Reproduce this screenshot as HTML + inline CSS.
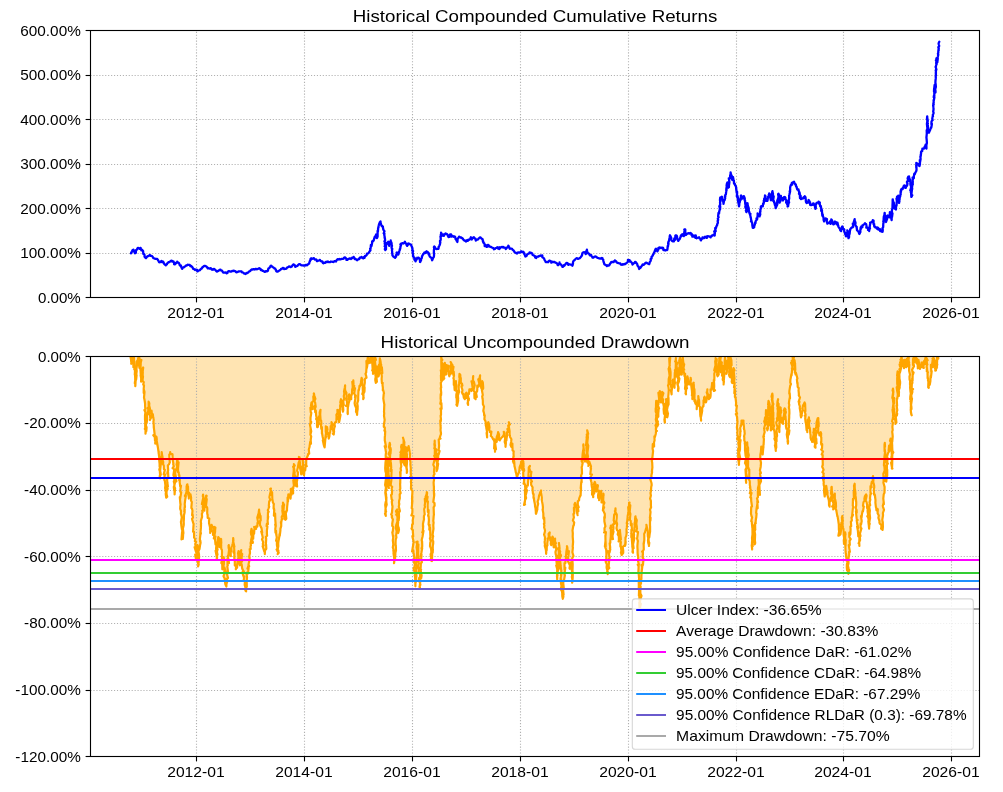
<!DOCTYPE html>
<html><head><meta charset="utf-8"><title>Drawdown</title>
<style>
html,body{margin:0;padding:0;background:#fff;}
body{width:1003px;height:792px;overflow:hidden;}
svg{display:block;will-change:transform;}
text{font-family:"Liberation Sans",sans-serif;fill:#000;}
.t10{font-size:14.2px;}
.t12{font-size:17.0px;}
.grid{stroke:#b0b0b0;stroke-width:1.11;stroke-dasharray:1.11 1.83;fill:none;}
.spine{stroke:#000;stroke-width:1.11;fill:none;}
.tick{stroke:#000;stroke-width:1.11;}
</style></head><body>
<svg width="1003" height="792" viewBox="0 0 1003 792">
<defs><clipPath id="c1"><rect x="90.5" y="30.5" width="889.0" height="267.0"/></clipPath><clipPath id="c2"><rect x="90.5" y="356.5" width="889.0" height="400.0"/></clipPath></defs>
<rect x="0" y="0" width="1003" height="792" fill="#fff"/>
<g>
<line class="grid" x1="196.5" y1="297.5" x2="196.5" y2="30.5"/>
<line class="grid" x1="304.5" y1="297.5" x2="304.5" y2="30.5"/>
<line class="grid" x1="412.5" y1="297.5" x2="412.5" y2="30.5"/>
<line class="grid" x1="520.5" y1="297.5" x2="520.5" y2="30.5"/>
<line class="grid" x1="628.5" y1="297.5" x2="628.5" y2="30.5"/>
<line class="grid" x1="736.5" y1="297.5" x2="736.5" y2="30.5"/>
<line class="grid" x1="843.5" y1="297.5" x2="843.5" y2="30.5"/>
<line class="grid" x1="951.5" y1="297.5" x2="951.5" y2="30.5"/>
<line class="grid" x1="90.5" y1="253.5" x2="979.5" y2="253.5"/>
<line class="grid" x1="90.5" y1="208.5" x2="979.5" y2="208.5"/>
<line class="grid" x1="90.5" y1="164.5" x2="979.5" y2="164.5"/>
<line class="grid" x1="90.5" y1="119.5" x2="979.5" y2="119.5"/>
<line class="grid" x1="90.5" y1="75.5" x2="979.5" y2="75.5"/>
<path clip-path="url(#c1)" d="M131.0,253.3 L131.4,252.1 L131.5,252.6 L132.0,251.5 L132.5,250.2 L133.2,250.6 L133.4,249.7 L133.5,250.0 L134.3,251.9 L134.8,253.2 L135.0,253.3 L135.4,252.3 L135.8,252.8 L136.0,250.2 L136.7,249.7 L137.1,249.2 L137.5,248.3 L137.9,247.9 L138.8,248.1 L139.4,248.7 L140.1,248.2 L140.7,247.9 L140.9,248.8 L141.3,250.3 L142.0,249.7 L142.7,250.6 L143.1,251.0 L143.3,253.9 L143.3,253.5 L143.9,253.9 L144.4,254.5 L144.6,255.4 L144.5,256.3 L144.9,257.3 L145.4,257.8 L146.0,258.1 L146.8,257.0 L147.5,256.1 L148.1,256.2 L148.9,255.8 L149.7,254.9 L150.7,255.9 L151.1,255.8 L152.1,256.1 L152.9,257.1 L153.3,258.2 L154.2,258.3 L154.7,258.7 L155.6,258.9 L156.2,258.9 L157.1,258.9 L157.5,259.3 L158.5,260.9 L158.9,261.9 L159.2,262.3 L160.2,262.2 L161.0,261.4 L161.6,260.9 L162.1,262.2 L163.3,261.8 L163.6,262.8 L164.0,263.3 L164.4,264.2 L165.8,265.3 L166.1,264.9 L166.9,264.3 L167.0,263.6 L167.9,262.8 L168.4,262.1 L169.4,262.2 L170.3,261.3 L170.8,260.9 L171.8,260.7 L172.3,261.6 L173.2,261.3 L173.4,261.3 L174.1,262.9 L174.1,264.2 L174.8,264.4 L175.6,263.7 L175.4,263.0 L177.2,262.7 L177.2,261.7 L177.6,262.7 L178.6,262.7 L179.2,263.5 L179.8,265.3 L180.4,265.1 L181.0,265.8 L180.8,266.3 L181.7,267.6 L181.8,268.4 L182.2,268.9 L182.6,267.6 L183.3,267.5 L183.9,267.3 L184.6,266.5 L185.4,266.3 L186.1,265.5 L187.1,265.3 L187.6,264.7 L188.4,264.8 L189.8,264.8 L190.3,266.2 L191.2,265.9 L191.5,266.4 L192.5,267.3 L193.1,268.7 L193.0,268.3 L194.2,269.2 L195.0,270.1 L195.7,269.5 L197.2,269.9 L197.2,271.3 L197.8,271.3 L198.0,270.8 L198.9,270.5 L200.1,270.1 L200.2,269.6 L201.6,268.4 L201.6,268.7 L202.7,266.9 L202.9,267.1 L203.7,266.1 L204.4,266.0 L205.3,265.9 L206.4,266.5 L207.2,267.5 L207.7,268.3 L208.2,268.0 L209.1,268.5 L209.5,268.6 L210.8,268.2 L211.6,269.5 L212.1,269.2 L213.0,269.7 L213.7,268.9 L214.5,269.2 L214.8,269.7 L215.2,269.8 L216.2,271.0 L216.7,271.6 L217.7,271.1 L218.1,270.9 L218.4,270.9 L219.3,270.1 L220.4,269.6 L221.1,270.4 L222.0,270.7 L222.6,271.6 L222.9,272.1 L223.2,272.5 L224.3,272.6 L225.3,272.5 L225.9,272.6 L226.7,273.3 L227.5,272.9 L227.4,272.3 L228.3,271.3 L228.7,271.2 L230.4,271.5 L231.2,271.6 L232.1,271.0 L233.1,271.1 L233.6,270.7 L234.2,270.9 L235.6,271.4 L236.0,272.1 L236.8,272.3 L237.6,271.9 L238.3,271.7 L238.9,271.3 L240.0,271.3 L240.4,271.3 L241.6,271.5 L242.0,272.3 L242.8,272.5 L243.5,272.8 L244.0,273.4 L244.9,273.7 L245.5,274.0 L246.0,273.4 L246.6,272.9 L246.9,273.2 L248.2,272.5 L248.7,271.8 L249.6,271.1 L250.3,271.1 L250.8,270.1 L251.7,269.5 L252.7,269.5 L252.9,269.4 L253.7,269.1 L254.7,269.5 L255.8,268.8 L256.3,269.1 L257.1,269.3 L258.3,268.8 L258.9,268.3 L259.3,268.2 L260.6,268.9 L260.8,270.1 L261.9,270.1 L262.6,270.9 L263.3,270.9 L263.7,271.3 L264.9,271.9 L265.5,271.2 L267.2,271.3 L267.5,270.7 L267.9,270.8 L268.4,268.5 L269.5,268.0 L269.4,267.7 L270.2,267.0 L270.6,265.9 L271.3,265.7 L272.3,266.7 L273.0,267.3 L273.9,267.7 L274.3,268.4 L275.3,268.7 L275.6,269.8 L276.0,269.8 L276.2,271.2 L277.1,271.6 L277.7,271.6 L278.5,271.0 L279.5,270.5 L279.9,270.1 L281.0,269.4 L281.1,268.8 L281.8,268.8 L282.8,268.0 L283.8,268.2 L284.0,269.0 L285.2,268.9 L286.4,268.6 L286.6,268.4 L287.4,267.3 L288.2,267.1 L289.0,266.5 L290.0,266.7 L290.8,267.1 L291.8,266.5 L292.7,265.2 L292.9,264.7 L293.6,264.4 L294.1,264.9 L294.7,265.1 L295.2,266.8 L296.0,266.5 L297.0,266.0 L297.6,265.8 L297.7,265.4 L298.9,264.2 L299.6,264.1 L300.7,264.7 L301.1,265.1 L302.0,265.3 L302.7,265.4 L303.7,265.5 L304.0,265.4 L305.0,265.6 L306.1,264.8 L306.9,265.3 L307.7,264.7 L308.5,263.9 L309.2,263.5 L309.4,262.1 L309.9,261.4 L310.0,260.5 L310.7,260.0 L310.6,258.9 L311.2,258.3 L312.0,258.9 L312.9,258.5 L313.9,258.1 L314.0,258.7 L315.0,259.6 L316.2,259.5 L317.2,260.8 L316.9,261.1 L317.6,261.0 L318.8,260.5 L319.3,260.2 L319.9,259.9 L320.4,260.8 L321.2,261.3 L322.3,261.4 L322.8,262.9 L323.5,263.3 L323.9,262.6 L325.3,262.9 L326.2,261.7 L327.1,262.1 L327.8,261.5 L328.7,262.2 L329.4,262.2 L330.1,262.1 L330.8,261.5 L331.5,261.7 L332.5,261.9 L333.1,261.7 L333.4,262.0 L334.9,261.1 L336.0,261.5 L336.7,260.1 L337.7,259.2 L338.7,259.5 L339.4,259.0 L340.3,259.3 L341.1,259.1 L341.4,258.8 L342.7,258.9 L343.7,258.6 L344.0,257.8 L345.0,257.3 L345.7,258.0 L346.2,258.5 L346.5,259.9 L347.4,259.9 L347.7,259.3 L348.7,258.9 L349.5,258.4 L350.4,258.5 L351.1,259.0 L352.4,257.8 L352.2,257.6 L353.4,257.3 L353.6,256.9 L354.1,257.7 L354.7,259.0 L355.4,258.6 L356.2,259.6 L357.2,260.2 L357.8,259.6 L358.8,258.8 L359.3,259.0 L359.7,257.6 L361.3,257.6 L361.4,256.9 L361.8,257.2 L362.3,257.6 L363.2,258.4 L363.8,257.3 L364.6,257.7 L364.9,256.1 L366.0,255.7 L366.7,254.9 L367.0,253.6 L368.2,253.4 L368.6,253.1 L369.2,251.9 L369.7,251.3 L370.5,250.3 L370.1,248.8 L370.4,249.1 L370.6,248.2 L370.8,246.6 L370.9,244.8 L371.5,245.9 L371.9,244.0 L372.1,243.0 L372.1,241.7 L372.6,240.9 L373.2,241.1 L373.9,239.9 L374.2,238.2 L374.8,237.8 L374.7,236.7 L375.8,236.1 L375.8,235.4 L376.1,234.5 L376.4,235.4 L376.8,236.9 L377.0,236.2 L376.9,238.1 L377.0,237.1 L377.1,237.7 L377.6,236.5 L377.6,233.6 L377.6,233.8 L377.6,230.8 L377.6,231.2 L377.9,231.7 L378.1,229.2 L378.1,227.9 L378.5,227.6 L378.5,226.2 L378.7,225.6 L379.2,223.7 L379.5,223.4 L379.7,222.4 L379.8,222.4 L380.5,221.4 L380.7,224.2 L380.7,223.1 L381.4,225.3 L381.3,225.0 L381.6,225.8 L382.5,226.1 L382.9,226.6 L382.7,227.4 L383.0,227.8 L383.3,229.5 L383.7,230.3 L384.5,231.2 L383.7,233.3 L384.1,233.2 L384.5,233.8 L384.2,234.6 L384.4,235.5 L384.8,237.4 L384.7,237.5 L384.6,237.6 L385.0,238.9 L385.1,240.5 L384.4,241.3 L385.0,242.6 L384.7,243.6 L384.9,244.3 L385.2,244.9 L385.0,246.4 L384.6,246.2 L385.6,247.8 L384.8,249.1 L385.4,250.1 L385.7,248.7 L386.0,249.2 L386.0,247.6 L386.0,245.9 L386.1,245.4 L386.4,244.7 L387.0,244.0 L386.8,242.9 L387.7,242.7 L388.3,241.7 L388.1,242.4 L388.8,243.3 L389.2,243.6 L389.1,244.9 L389.2,245.9 L389.1,244.8 L389.4,245.3 L389.8,243.7 L390.0,242.5 L390.7,241.1 L390.7,240.5 L390.7,242.5 L391.3,242.2 L391.4,242.6 L391.6,243.4 L391.6,244.7 L392.0,245.9 L391.5,246.9 L391.6,248.0 L392.3,249.0 L391.9,249.9 L392.1,251.2 L392.1,250.9 L392.2,253.3 L392.3,253.6 L392.3,253.7 L392.5,255.5 L393.2,256.2 L393.2,256.6 L394.3,257.2 L395.1,257.8 L395.5,257.2 L396.1,256.7 L395.9,255.1 L396.8,254.5 L396.6,252.6 L396.9,252.5 L397.5,252.8 L397.8,254.6 L398.4,254.5 L398.7,253.1 L398.5,252.7 L399.1,252.5 L399.1,251.5 L399.4,250.9 L400.0,249.5 L399.7,249.2 L400.3,248.5 L400.5,246.1 L400.6,246.3 L401.1,244.9 L400.4,244.3 L401.4,243.5 L402.4,243.2 L403.2,243.5 L404.0,243.1 L404.9,241.9 L404.8,241.7 L405.3,242.8 L406.0,243.5 L406.2,243.5 L406.4,244.4 L407.0,245.7 L407.2,245.9 L407.4,244.0 L408.2,244.6 L408.6,243.5 L409.6,244.1 L410.6,244.4 L411.0,244.7 L411.2,245.3 L411.8,246.7 L412.3,247.8 L412.2,248.3 L412.6,249.0 L412.2,250.4 L413.1,251.0 L412.5,252.4 L412.6,251.8 L412.9,253.6 L413.2,256.0 L412.9,255.9 L413.2,256.7 L413.5,256.9 L414.8,258.1 L414.2,258.9 L414.8,260.3 L415.5,260.1 L415.6,261.4 L415.7,260.4 L416.5,259.7 L417.0,258.5 L417.2,257.8 L417.8,258.2 L418.8,257.8 L418.5,257.7 L419.7,259.4 L420.0,260.8 L420.0,261.9 L420.3,262.0 L420.2,261.6 L421.0,260.6 L421.1,259.4 L421.5,258.1 L421.7,258.3 L421.9,257.1 L422.1,256.1 L422.6,255.3 L423.0,254.3 L423.6,253.9 L424.4,252.5 L425.6,253.0 L426.1,251.7 L426.6,251.3 L427.2,252.4 L427.6,251.9 L428.3,252.9 L428.7,254.5 L429.2,253.6 L429.5,255.5 L429.7,256.5 L430.5,257.3 L430.8,257.5 L431.4,257.8 L432.1,260.3 L432.5,259.6 L432.7,258.9 L433.2,257.7 L433.7,257.2 L434.0,255.8 L434.0,255.1 L434.1,253.7 L434.1,253.3 L433.8,252.3 L433.9,252.0 L433.9,250.3 L434.0,249.5 L434.3,248.6 L433.9,247.1 L434.3,246.5 L435.0,247.3 L434.9,248.1 L435.7,248.6 L436.1,248.9 L436.9,249.1 L437.6,248.7 L438.3,248.9 L438.5,248.6 L438.8,246.5 L438.7,246.6 L439.6,245.3 L439.7,244.8 L440.0,244.1 L440.3,242.4 L440.1,243.2 L440.0,240.8 L440.4,240.8 L440.8,238.9 L440.7,238.9 L440.6,236.3 L440.4,236.9 L441.2,236.2 L440.7,235.3 L441.2,233.2 L441.1,232.7 L441.8,234.1 L441.9,235.0 L441.8,234.7 L442.7,235.7 L443.9,235.8 L443.8,234.5 L444.6,234.8 L445.1,233.9 L445.6,233.5 L447.0,234.1 L447.5,234.9 L448.5,237.1 L448.7,236.3 L449.7,236.8 L449.8,234.6 L450.4,234.5 L451.1,234.5 L451.4,236.7 L452.3,235.8 L453.7,236.7 L454.1,236.3 L455.1,236.8 L455.4,238.0 L455.5,239.0 L456.1,239.4 L456.6,240.8 L457.1,241.3 L457.4,242.0 L457.6,239.4 L457.7,238.5 L458.7,237.5 L458.7,237.4 L459.1,236.6 L460.0,237.2 L460.6,237.7 L461.1,237.4 L461.8,238.1 L462.4,238.2 L462.9,238.8 L463.5,239.8 L464.2,240.5 L465.0,240.4 L465.9,241.5 L466.9,240.2 L467.8,240.9 L468.3,239.7 L468.8,239.9 L470.0,239.3 L470.1,239.1 L470.9,237.3 L471.6,239.4 L471.8,239.5 L472.9,237.7 L473.4,237.7 L473.8,237.2 L474.6,238.4 L475.4,238.7 L475.8,240.6 L476.7,240.1 L476.9,239.6 L478.2,239.4 L478.5,238.6 L479.2,238.0 L480.0,237.3 L480.7,237.6 L481.7,238.9 L482.3,238.9 L482.6,239.2 L483.0,241.7 L483.2,241.3 L483.5,242.7 L484.2,243.2 L484.6,244.1 L484.7,246.1 L485.1,244.9 L486.2,245.3 L486.5,246.9 L487.7,246.6 L487.9,244.8 L488.9,245.4 L489.9,246.7 L490.6,246.9 L491.1,247.0 L491.9,247.5 L492.9,247.9 L493.5,248.1 L493.9,249.3 L494.9,248.9 L495.8,248.0 L496.5,247.7 L497.3,247.3 L498.2,248.6 L499.1,247.3 L499.3,249.1 L500.3,247.8 L501.1,247.2 L502.3,247.0 L502.5,247.4 L503.3,246.9 L503.9,247.7 L504.9,247.6 L505.7,248.5 L505.8,249.1 L507.3,247.3 L508.1,246.8 L508.3,245.7 L508.9,246.7 L509.2,247.1 L509.7,248.8 L510.5,248.7 L511.2,248.7 L512.2,248.9 L512.2,249.3 L513.4,250.3 L514.2,251.4 L514.6,252.1 L515.2,252.5 L516.4,253.2 L517.0,253.5 L517.4,252.7 L518.9,252.3 L519.4,252.5 L519.8,252.6 L520.8,251.8 L521.2,251.3 L521.8,252.2 L523.2,251.7 L523.6,252.1 L524.3,254.2 L524.4,253.3 L524.7,254.6 L524.9,255.3 L525.4,256.5 L526.5,255.9 L526.7,255.6 L527.0,254.7 L527.8,254.1 L528.7,253.4 L529.5,253.3 L529.6,252.3 L530.3,253.1 L531.2,252.8 L532.2,253.4 L532.6,254.9 L533.3,255.2 L533.9,255.5 L535.0,256.3 L535.2,257.5 L536.2,258.0 L536.9,256.6 L537.4,256.7 L538.4,256.7 L539.2,255.9 L539.9,255.9 L540.7,255.4 L541.6,255.6 L542.3,255.5 L542.3,257.2 L543.3,257.7 L544.0,258.5 L544.4,259.3 L544.5,259.8 L544.7,260.1 L545.1,260.6 L545.7,262.1 L546.7,262.1 L547.5,261.9 L548.3,262.0 L549.2,260.7 L549.9,260.7 L550.9,261.2 L551.3,262.7 L551.7,262.5 L552.4,261.8 L553.1,262.2 L554.1,261.9 L555.1,262.4 L555.8,262.8 L556.5,262.8 L556.7,263.2 L557.6,264.4 L557.7,265.2 L558.4,265.1 L558.8,264.0 L559.4,263.5 L559.5,262.5 L559.5,263.4 L560.4,264.1 L560.7,264.3 L561.3,264.8 L561.6,265.7 L562.1,265.6 L562.5,266.9 L563.1,266.6 L563.8,265.3 L564.3,265.7 L564.9,264.9 L565.4,264.4 L566.2,263.2 L566.7,262.8 L567.5,263.0 L568.4,264.9 L568.5,264.0 L569.7,264.3 L570.6,264.7 L571.0,264.7 L571.9,264.5 L572.4,265.7 L572.8,264.6 L572.7,264.5 L573.0,263.5 L573.0,262.1 L573.3,261.3 L574.2,260.3 L574.2,260.5 L574.8,259.9 L575.6,258.9 L576.7,258.2 L577.5,258.3 L578.0,258.9 L579.0,258.5 L579.8,258.1 L580.4,257.5 L581.0,256.8 L581.6,256.1 L582.0,254.9 L582.1,255.0 L582.3,253.6 L582.8,252.5 L583.6,252.3 L584.0,252.2 L585.0,252.3 L585.4,253.2 L585.7,254.1 L586.1,253.4 L586.5,251.4 L586.2,251.4 L586.8,250.4 L586.9,249.7 L587.1,251.1 L587.1,251.7 L587.8,252.6 L588.1,253.5 L589.0,253.7 L589.8,255.2 L590.2,254.7 L591.2,255.1 L591.4,256.0 L592.1,256.7 L592.6,257.7 L593.4,257.6 L594.2,256.8 L595.0,256.5 L596.0,256.7 L596.4,257.0 L597.0,257.5 L597.9,258.0 L598.3,258.1 L599.6,258.5 L600.3,258.5 L601.4,258.3 L601.9,258.0 L602.5,258.3 L602.7,259.4 L603.3,259.9 L603.4,260.9 L603.7,262.3 L603.7,261.9 L604.2,263.8 L604.5,264.3 L604.8,264.5 L606.5,265.6 L606.9,266.1 L607.2,265.3 L608.4,265.7 L609.3,265.2 L609.7,264.3 L610.3,263.3 L610.7,263.2 L611.1,262.1 L612.2,261.9 L612.8,262.1 L613.5,262.1 L614.1,261.1 L614.8,261.3 L614.9,260.4 L615.6,261.0 L616.2,261.4 L616.8,262.5 L617.1,262.8 L617.6,262.8 L618.6,263.1 L619.5,263.3 L620.3,263.4 L620.8,264.5 L621.3,264.5 L622.2,264.9 L622.8,264.1 L623.7,264.5 L624.6,263.9 L625.2,264.0 L625.7,263.6 L626.7,262.8 L627.6,262.1 L628.0,261.6 L627.9,260.0 L628.8,260.1 L629.6,260.1 L629.8,261.6 L630.5,261.3 L630.7,261.7 L631.6,262.5 L632.4,263.6 L632.4,264.5 L632.9,264.1 L633.7,263.3 L634.6,262.9 L635.0,261.9 L635.8,262.2 L636.2,263.1 L636.8,263.3 L637.3,264.2 L637.3,264.8 L637.8,266.2 L638.3,266.3 L638.5,266.8 L638.8,267.7 L639.2,269.0 L639.6,267.6 L640.4,267.8 L641.4,266.3 L642.0,265.7 L642.2,265.2 L642.6,264.5 L643.6,264.9 L644.7,263.9 L645.2,263.1 L645.9,262.6 L646.7,262.9 L647.2,263.1 L647.5,263.5 L648.7,263.9 L649.1,264.3 L649.5,263.3 L649.7,262.3 L650.0,261.7 L650.5,261.2 L650.8,260.2 L650.6,259.0 L651.6,258.5 L651.5,257.1 L652.0,256.5 L652.8,255.6 L652.8,255.0 L653.6,254.1 L653.8,253.1 L654.2,252.2 L655.2,251.0 L654.8,251.0 L655.5,249.1 L656.0,248.7 L656.0,249.2 L656.4,250.5 L657.3,251.0 L657.5,251.3 L657.7,250.4 L658.3,249.8 L658.4,247.9 L659.1,248.5 L659.5,247.5 L660.2,247.6 L661.3,248.1 L662.0,247.6 L663.1,247.8 L663.3,250.0 L664.3,250.0 L664.7,249.9 L665.2,250.5 L666.3,250.0 L666.6,250.2 L667.3,249.7 L667.5,248.7 L667.6,247.2 L668.0,246.5 L667.6,246.2 L668.4,244.8 L668.1,243.2 L668.5,243.6 L668.4,241.8 L668.8,241.2 L669.2,240.2 L669.2,239.6 L669.5,237.9 L669.7,237.2 L669.8,235.9 L670.0,235.3 L670.2,235.9 L671.0,237.3 L671.2,237.8 L671.4,239.2 L671.6,240.4 L672.1,240.9 L673.1,241.4 L673.9,241.3 L674.3,238.4 L675.0,240.0 L674.8,238.1 L674.8,238.1 L675.4,237.8 L675.3,235.7 L675.9,235.3 L676.8,235.8 L676.0,238.3 L677.1,236.6 L677.1,238.4 L677.6,239.7 L678.0,240.3 L678.3,240.9 L679.1,239.5 L679.5,239.2 L679.6,239.2 L680.1,238.1 L680.5,237.3 L680.9,235.4 L681.2,236.1 L682.3,234.2 L682.6,234.4 L682.6,235.5 L683.4,235.8 L683.8,236.1 L683.9,235.8 L683.9,234.0 L684.2,233.3 L684.3,231.8 L684.7,230.7 L684.3,229.6 L684.8,229.3 L685.3,229.6 L685.3,230.9 L685.2,232.6 L685.7,233.6 L685.5,234.0 L685.9,235.0 L686.4,234.4 L687.4,233.6 L688.3,233.2 L689.4,233.6 L690.4,232.9 L691.2,233.4 L691.5,235.0 L691.9,234.6 L692.0,234.3 L692.4,236.7 L693.5,236.7 L694.0,235.5 L694.2,235.6 L695.3,237.7 L695.7,235.4 L696.3,237.7 L696.6,238.2 L697.2,237.8 L698.6,237.5 L699.0,237.3 L699.4,238.4 L700.0,238.5 L700.5,239.4 L700.7,240.1 L701.0,240.4 L701.4,239.3 L702.1,238.8 L702.5,237.4 L703.4,237.7 L703.9,238.2 L705.0,236.7 L705.8,237.4 L706.8,237.9 L706.9,236.3 L707.9,236.2 L708.6,236.3 L709.8,236.7 L710.6,237.4 L711.0,236.2 L711.7,236.2 L712.1,235.3 L712.9,235.3 L713.6,234.7 L714.7,235.6 L714.7,235.0 L715.0,231.6 L714.7,232.6 L714.2,231.5 L715.4,229.6 L715.7,231.2 L715.2,228.3 L715.3,227.8 L715.4,227.8 L716.0,227.9 L716.4,226.3 L717.1,225.4 L717.2,224.8 L717.1,224.4 L717.9,222.7 L717.7,220.9 L717.6,221.2 L718.2,219.8 L718.1,220.0 L717.8,218.4 L718.6,217.4 L718.3,216.4 L718.1,216.4 L718.5,213.0 L718.7,214.0 L719.1,212.8 L719.2,212.9 L719.0,212.4 L719.5,210.5 L719.7,210.0 L719.9,207.3 L719.3,206.3 L720.1,209.1 L720.2,206.1 L719.6,205.8 L720.3,204.3 L720.0,202.8 L720.3,201.6 L720.0,200.6 L720.0,199.1 L720.4,199.4 L720.1,197.9 L720.4,197.3 L721.2,197.3 L721.9,196.7 L722.0,198.7 L722.4,198.1 L722.5,200.7 L722.5,200.2 L723.1,200.9 L723.4,202.8 L723.5,201.6 L723.5,203.9 L723.8,202.1 L723.9,199.9 L724.4,200.3 L724.6,200.2 L725.0,198.8 L725.2,197.9 L724.9,197.3 L724.9,196.1 L725.3,196.6 L725.3,195.0 L725.9,194.3 L726.0,193.0 L726.2,191.7 L726.4,189.4 L726.7,190.0 L726.2,189.1 L726.6,188.1 L726.5,188.0 L726.7,186.5 L727.0,185.0 L726.6,185.5 L727.0,183.1 L727.7,184.6 L727.5,182.3 L727.9,184.0 L728.3,183.2 L728.0,184.8 L728.1,187.8 L728.7,187.1 L728.9,187.3 L729.0,184.3 L729.1,183.4 L728.8,182.6 L729.1,184.5 L729.4,182.0 L729.2,180.8 L728.8,178.3 L729.7,178.2 L730.0,178.1 L730.2,175.2 L730.9,175.8 L730.5,174.5 L730.6,173.9 L730.6,172.4 L730.7,173.3 L731.3,174.9 L730.8,174.1 L731.7,176.0 L731.0,176.8 L731.8,178.6 L731.8,178.8 L732.2,179.9 L732.4,179.3 L733.0,177.0 L733.2,178.8 L733.2,177.9 L733.7,181.1 L733.9,180.6 L734.0,182.7 L733.9,182.9 L734.4,183.9 L734.8,183.7 L735.1,185.3 L735.7,185.9 L735.9,186.6 L736.3,188.0 L736.1,187.9 L736.3,190.0 L736.5,191.1 L736.7,192.8 L737.1,191.7 L737.1,193.7 L736.8,196.1 L737.4,195.5 L737.9,197.5 L737.3,197.4 L738.1,199.1 L738.0,199.9 L738.7,199.8 L737.9,200.4 L738.5,203.3 L738.7,204.0 L739.1,205.9 L739.1,204.9 L739.0,206.3 L738.7,204.4 L739.2,205.6 L739.5,201.7 L739.8,202.1 L739.7,201.8 L740.2,200.3 L740.3,199.2 L740.5,198.2 L740.7,199.8 L740.9,198.3 L740.9,195.6 L741.1,195.5 L741.6,196.3 L742.0,196.5 L742.2,197.1 L742.6,198.5 L742.8,197.8 L743.5,197.9 L744.0,196.3 L744.1,197.3 L743.9,196.2 L744.7,198.1 L744.8,199.3 L744.5,199.8 L745.2,201.1 L745.0,201.0 L745.2,203.3 L745.4,204.7 L745.7,205.3 L745.3,206.5 L745.5,207.8 L746.2,208.0 L746.4,211.4 L745.9,210.6 L746.7,210.6 L746.4,212.2 L746.2,211.5 L746.8,211.6 L746.9,210.4 L746.7,206.4 L747.0,207.1 L747.0,207.6 L747.3,205.2 L747.2,204.2 L747.6,203.3 L747.1,203.2 L747.9,205.5 L747.9,206.3 L748.0,207.1 L748.5,207.1 L748.8,209.5 L748.8,209.9 L748.9,210.8 L749.6,213.0 L749.2,212.3 L749.8,214.1 L750.5,214.0 L749.9,214.0 L750.6,216.8 L750.6,217.6 L750.7,217.1 L751.3,220.6 L751.2,220.2 L751.5,220.6 L751.0,221.4 L751.8,222.0 L752.2,223.1 L752.4,226.0 L752.6,226.4 L752.7,227.1 L752.7,227.8 L753.6,227.8 L754.2,227.2 L754.3,225.5 L754.9,224.6 L754.8,224.8 L755.1,222.7 L755.5,223.2 L755.6,221.4 L756.0,220.6 L756.7,219.7 L756.5,218.3 L757.1,219.4 L757.5,216.3 L757.7,215.3 L757.6,213.4 L758.2,214.6 L758.5,216.0 L759.1,215.2 L759.6,216.4 L759.6,215.5 L760.3,214.0 L760.1,214.9 L760.0,211.8 L760.4,211.6 L760.2,212.3 L760.4,210.1 L760.4,209.2 L761.0,208.5 L760.8,206.9 L761.0,206.3 L761.6,206.1 L762.9,205.7 L762.8,206.4 L763.1,203.5 L763.4,204.2 L764.1,201.6 L763.7,201.0 L764.1,200.1 L764.2,198.6 L764.6,198.1 L764.8,198.0 L765.0,196.3 L765.0,195.5 L765.5,196.2 L765.3,197.7 L765.2,199.3 L765.6,198.3 L765.7,199.9 L766.2,200.9 L766.1,199.1 L766.7,199.6 L767.5,200.7 L768.0,197.0 L768.0,197.3 L768.6,196.4 L768.9,194.4 L768.8,195.4 L769.2,193.5 L769.3,193.6 L770.3,195.4 L770.3,197.6 L770.0,196.7 L770.3,198.1 L770.5,198.2 L770.8,200.2 L771.0,200.3 L771.1,199.6 L771.2,198.3 L771.5,198.7 L771.6,197.9 L771.4,196.6 L771.9,194.4 L772.0,193.3 L772.2,192.1 L772.4,191.4 L772.5,191.1 L772.4,191.8 L772.8,192.7 L772.9,192.9 L773.0,196.1 L773.4,196.5 L773.7,196.3 L773.2,200.2 L773.4,200.8 L773.3,201.2 L773.9,200.9 L774.2,202.8 L774.2,201.7 L774.4,202.8 L774.9,205.0 L775.1,203.4 L775.5,207.0 L775.7,207.5 L775.6,208.2 L776.5,206.2 L776.6,205.9 L777.3,204.5 L777.4,202.4 L777.1,202.6 L777.6,201.9 L777.1,201.2 L777.6,200.0 L778.2,198.2 L778.1,199.1 L778.5,196.6 L778.2,194.9 L778.1,194.2 L778.5,193.7 L779.1,194.8 L778.9,195.7 L779.1,196.4 L778.8,197.5 L779.5,198.3 L779.5,199.0 L779.9,199.9 L779.6,201.2 L779.8,201.6 L779.7,202.7 L779.5,201.6 L779.7,201.1 L780.4,201.3 L780.6,199.1 L780.9,195.9 L780.9,196.7 L780.9,196.3 L780.9,199.4 L781.8,197.7 L781.7,199.3 L782.9,198.9 L782.9,200.6 L783.5,199.4 L783.5,198.0 L784.2,196.9 L784.6,198.8 L785.0,197.1 L785.4,197.7 L785.5,199.3 L786.4,200.2 L786.1,202.6 L786.5,201.5 L787.3,201.2 L787.3,204.0 L787.2,204.4 L787.9,205.6 L787.6,206.5 L788.1,206.3 L788.1,206.0 L788.5,203.6 L789.1,202.4 L788.7,202.0 L788.8,200.1 L789.0,198.9 L789.2,198.7 L789.1,195.6 L789.0,195.6 L789.4,194.6 L789.7,193.2 L790.1,191.4 L789.7,191.6 L790.2,189.9 L790.1,188.3 L790.3,186.7 L790.1,187.1 L791.1,184.5 L791.1,185.3 L792.2,184.6 L791.9,182.9 L792.6,182.7 L793.0,182.2 L794.0,181.7 L794.4,183.0 L795.1,184.0 L795.1,184.1 L795.8,185.2 L795.8,184.4 L796.1,186.5 L796.6,186.8 L797.0,188.8 L797.5,189.6 L797.7,189.1 L798.4,189.3 L798.8,191.3 L799.2,191.8 L799.0,193.9 L799.7,193.0 L799.8,194.0 L799.9,196.2 L800.0,198.1 L800.3,197.7 L800.6,195.7 L800.9,199.1 L801.8,198.7 L802.3,198.5 L803.3,198.3 L803.7,197.2 L804.2,197.6 L804.8,196.3 L805.3,198.3 L805.5,197.6 L805.5,197.2 L805.7,199.3 L806.0,202.1 L806.6,201.9 L806.5,203.0 L807.0,201.7 L808.0,202.7 L808.6,200.0 L809.2,200.6 L809.5,202.2 L810.0,202.1 L810.1,203.5 L810.2,204.9 L811.0,205.1 L812.3,204.8 L812.6,203.8 L813.4,204.5 L813.6,203.3 L814.2,205.0 L815.1,206.3 L815.0,207.5 L815.2,207.4 L815.4,208.9 L815.7,208.2 L815.4,208.0 L815.8,208.3 L815.7,204.9 L815.8,204.2 L816.3,203.9 L816.6,202.9 L817.1,202.8 L818.5,202.2 L818.6,201.7 L819.1,203.6 L819.8,202.5 L819.6,202.7 L820.2,206.2 L820.8,205.9 L821.1,208.0 L821.7,209.7 L821.2,209.2 L822.0,210.2 L821.1,210.7 L821.9,211.2 L822.1,212.4 L822.1,214.3 L822.6,214.3 L822.3,215.6 L822.7,214.3 L822.9,216.4 L823.5,217.3 L823.6,219.2 L823.6,219.8 L823.6,219.8 L824.1,221.4 L824.2,220.3 L825.1,219.6 L825.7,219.6 L825.8,218.4 L825.6,218.5 L827.0,219.1 L826.7,221.3 L827.1,222.6 L827.4,223.7 L827.9,223.2 L828.8,222.9 L829.3,222.3 L830.1,223.2 L830.4,223.9 L830.5,220.8 L830.6,220.8 L831.4,220.4 L831.3,219.3 L831.9,220.2 L832.0,221.2 L832.5,221.3 L832.5,223.7 L833.1,222.9 L833.3,224.4 L834.1,223.9 L834.3,223.6 L835.0,221.5 L835.4,222.0 L835.6,222.7 L835.9,222.1 L836.7,224.3 L837.3,224.4 L837.5,222.7 L838.1,225.4 L838.4,226.6 L839.2,227.8 L839.3,228.0 L840.1,228.6 L840.0,229.4 L840.3,230.4 L841.1,231.0 L841.1,229.9 L841.7,228.9 L842.0,226.6 L842.2,227.6 L842.5,226.5 L842.9,227.8 L842.9,227.9 L843.6,229.5 L843.6,228.7 L844.3,229.7 L844.1,231.0 L844.7,232.2 L845.1,234.1 L845.3,234.0 L845.5,234.6 L845.9,236.1 L846.1,236.4 L846.3,235.2 L846.3,235.9 L846.6,232.9 L847.4,232.2 L847.1,232.5 L847.6,231.5 L847.3,230.4 L847.4,230.7 L847.9,231.2 L848.2,233.3 L847.6,234.1 L848.3,234.8 L848.3,235.7 L848.2,236.8 L848.5,238.2 L849.1,236.9 L849.0,235.5 L848.9,235.8 L849.7,233.3 L849.4,234.5 L849.9,231.5 L849.7,231.3 L850.1,230.4 L850.1,229.4 L851.0,228.3 L852.0,227.2 L852.5,227.4 L853.2,226.7 L852.8,223.6 L853.6,224.1 L853.5,224.6 L853.6,223.0 L853.9,221.6 L854.7,219.1 L854.5,220.2 L855.2,221.6 L855.1,222.9 L854.8,223.4 L855.6,222.9 L855.2,224.2 L855.5,225.3 L856.1,226.2 L856.8,227.0 L856.5,227.0 L856.9,229.0 L857.0,229.5 L856.9,229.9 L857.8,231.0 L858.5,231.6 L858.5,231.7 L859.2,233.7 L859.3,234.0 L859.4,233.9 L860.4,231.9 L860.3,231.0 L860.4,229.8 L860.7,227.4 L861.2,228.6 L861.3,226.3 L862.3,226.4 L862.5,227.0 L862.4,225.3 L863.2,225.0 L863.6,224.7 L864.6,223.7 L865.0,223.2 L865.4,223.9 L866.1,224.1 L866.5,226.1 L866.3,227.7 L867.2,227.4 L867.8,228.1 L868.1,229.1 L868.0,229.9 L869.1,230.2 L869.2,231.0 L869.3,230.0 L869.0,229.7 L870.0,228.5 L869.5,227.1 L869.7,226.7 L870.0,224.8 L870.3,223.2 L870.1,222.6 L870.4,222.6 L871.0,222.5 L871.9,221.6 L872.7,222.0 L872.8,220.2 L873.3,220.6 L873.6,220.7 L873.5,223.9 L874.2,224.1 L874.1,224.6 L874.3,226.7 L875.1,226.6 L875.2,227.4 L876.3,227.6 L876.6,228.5 L877.2,227.4 L877.9,229.4 L878.2,227.9 L878.9,229.7 L880.0,229.1 L880.0,231.0 L880.5,230.1 L881.6,231.7 L882.4,231.6 L882.6,231.7 L882.8,229.9 L882.4,228.2 L883.1,227.4 L883.2,226.6 L883.2,225.5 L883.3,225.0 L883.2,224.0 L883.6,222.7 L883.5,222.1 L883.3,221.6 L883.6,220.2 L883.7,218.6 L883.6,219.4 L883.8,216.7 L883.9,216.3 L884.5,215.1 L884.5,214.0 L884.6,213.0 L884.8,213.1 L884.4,214.5 L885.1,215.1 L885.3,216.0 L885.0,217.4 L885.6,217.9 L885.3,220.0 L885.4,219.5 L885.6,221.0 L886.0,222.0 L886.4,220.3 L886.0,221.9 L886.5,220.5 L887.1,218.8 L887.2,218.3 L887.5,215.7 L887.8,215.5 L888.0,216.7 L888.7,217.0 L889.2,217.2 L889.4,216.5 L889.9,216.0 L889.8,214.5 L889.9,212.1 L890.4,213.1 L890.7,212.7 L890.5,213.9 L891.1,216.1 L890.8,217.5 L891.4,217.6 L891.2,217.6 L891.3,218.2 L891.6,220.0 L891.7,219.2 L891.6,216.9 L892.0,217.1 L892.5,213.4 L892.0,212.7 L891.9,211.3 L891.8,210.9 L892.2,209.0 L892.4,209.1 L892.5,206.6 L892.5,205.3 L892.7,201.3 L892.8,201.8 L892.6,200.9 L892.8,199.3 L892.7,199.4 L893.1,201.4 L893.2,201.3 L893.3,203.3 L893.5,203.8 L893.8,202.6 L894.2,205.9 L893.9,207.9 L894.3,207.7 L894.9,208.8 L895.6,209.0 L895.9,209.5 L895.7,209.3 L896.0,208.9 L896.0,206.1 L896.0,205.6 L896.5,205.8 L896.7,203.2 L896.6,203.2 L896.6,202.9 L896.9,201.0 L896.5,198.7 L897.2,199.8 L897.0,196.9 L897.1,197.5 L897.4,196.3 L898.3,196.8 L898.3,195.7 L898.6,198.2 L898.6,198.1 L898.7,196.9 L898.5,198.4 L898.5,200.5 L899.1,202.9 L899.1,202.3 L899.4,201.7 L899.4,200.7 L899.3,200.1 L899.7,198.8 L899.5,198.4 L899.9,197.0 L900.2,196.4 L900.3,195.1 L900.7,194.4 L900.6,193.3 L900.6,191.3 L901.0,191.9 L900.9,190.3 L901.5,189.0 L902.1,189.3 L902.7,189.1 L902.9,187.8 L903.3,187.3 L903.4,187.4 L903.9,185.6 L904.7,185.5 L905.1,187.6 L905.7,187.9 L906.4,186.1 L906.9,185.4 L907.1,185.6 L907.2,184.9 L907.5,183.6 L907.0,182.9 L907.0,181.4 L907.9,181.4 L907.5,181.1 L908.4,181.1 L907.6,178.3 L908.4,176.7 L908.3,176.6 L908.6,179.1 L909.0,176.5 L909.7,180.5 L910.2,179.6 L909.8,179.5 L910.6,182.5 L910.4,182.6 L910.4,184.3 L910.5,184.9 L911.0,186.0 L911.0,188.0 L910.3,190.4 L911.2,189.9 L910.8,190.9 L910.9,192.6 L911.1,192.7 L911.2,194.6 L911.3,196.5 L911.4,196.9 L912.3,195.3 L911.5,194.4 L911.5,193.3 L911.8,190.9 L911.4,192.4 L912.1,189.3 L912.2,188.2 L911.9,187.6 L912.2,186.3 L911.8,185.8 L912.8,184.6 L912.7,183.2 L912.8,181.4 L912.5,180.6 L912.9,179.6 L912.6,177.7 L913.5,178.3 L913.9,178.0 L913.8,176.8 L914.3,173.7 L914.8,174.2 L915.0,173.6 L915.3,172.6 L915.8,171.8 L916.2,171.1 L916.5,170.0 L916.5,168.6 L916.2,166.9 L916.6,167.0 L916.2,165.7 L916.4,166.3 L916.3,163.0 L916.6,163.6 L916.7,163.2 L918.4,164.5 L918.5,164.8 L919.4,166.1 L919.5,166.1 L920.0,164.0 L919.8,162.1 L920.0,162.6 L919.8,160.1 L920.1,161.7 L920.6,159.0 L920.4,156.6 L920.9,155.7 L920.7,155.4 L920.8,154.4 L920.9,154.5 L921.1,153.0 L921.0,152.1 L921.3,151.3 L922.2,151.1 L922.4,148.7 L923.5,148.5 L924.1,148.5 L924.8,146.5 L924.7,147.0 L924.8,147.0 L925.4,145.8 L925.6,144.7 L925.5,146.8 L926.1,147.8 L926.5,147.8 L926.4,148.5 L926.4,146.1 L926.4,144.9 L926.9,143.0 L926.7,140.1 L926.4,137.2 L926.5,136.9 L926.8,133.5 L926.7,130.5 L927.4,128.6 L927.3,127.4 L927.2,126.7 L926.9,123.9 L927.5,120.0 L926.9,119.7 L927.2,116.3 L927.3,118.4 L927.6,119.1 L927.3,121.2 L927.8,120.6 L927.7,121.4 L927.2,122.7 L927.9,123.3 L927.4,124.4 L927.9,125.5 L928.0,127.5 L927.7,128.6 L927.9,128.7 L928.3,129.9 L928.2,132.5 L928.3,132.4 L929.1,132.5 L929.1,129.8 L929.5,130.1 L929.8,130.8 L931.0,127.4 L931.3,127.6 L931.6,125.9 L931.8,124.6 L931.9,123.9 L931.4,124.2 L931.5,121.5 L932.3,120.2 L932.4,120.1 L932.6,120.3 L932.3,118.6 L932.7,116.6 L933.0,116.6 L932.8,115.0 L933.4,113.6 L933.6,112.8 L933.2,111.5 L933.5,109.8 L933.5,109.6 L933.5,107.7 L933.4,107.2 L933.1,105.1 L933.7,104.8 L933.6,104.2 L933.3,103.2 L933.7,102.8 L933.6,100.1 L933.8,100.6 L934.4,97.2 L934.3,96.3 L933.7,97.2 L934.0,95.4 L934.4,95.6 L934.3,94.4 L934.3,92.9 L934.3,91.2 L934.3,91.8 L934.0,91.5 L934.1,88.8 L934.6,86.3 L934.4,86.6 L934.6,85.1 L934.7,85.0 L934.8,84.6 L934.6,86.5 L934.5,88.2 L935.2,89.2 L935.2,90.2 L935.2,91.4 L935.5,90.7 L935.5,92.6 L935.4,90.5 L935.3,89.8 L935.2,89.1 L935.6,87.9 L935.9,86.8 L935.7,84.5 L935.4,82.6 L935.5,80.5 L935.7,78.9 L935.8,77.4 L935.7,76.4 L935.9,75.5 L935.8,72.6 L935.9,74.8 L935.9,70.8 L935.7,70.3 L936.4,69.8 L936.0,67.9 L935.6,67.0 L936.0,66.0 L936.2,65.1 L936.7,64.1 L936.1,63.2 L936.4,62.2 L936.6,61.3 L935.9,60.3 L936.5,59.4 L936.4,58.4 L936.7,59.4 L937.0,60.3 L936.9,61.2 L937.4,62.2 L937.4,61.3 L937.6,60.3 L937.7,59.4 L937.8,58.4 L937.6,57.5 L937.9,56.5 L938.1,55.6 L938.3,54.7 L937.9,53.7 L938.3,52.8 L938.3,51.8 L938.3,50.9 L938.8,50.0 L938.4,49.1 L938.8,48.2 L938.3,47.3 L939.1,46.3 L939.1,45.4 L938.8,44.5 L938.6,43.6 L938.8,42.7 L939.3,41.8" fill="none" stroke="#0000ff" stroke-width="2.3" stroke-linejoin="round" stroke-linecap="round"/>
<rect class="spine" x="90.5" y="30.5" width="889.0" height="267.0"/>
<line class="tick" x1="196.5" y1="297.5" x2="196.5" y2="302.4"/>
<text class="t10" x="195.9" y="317.9" text-anchor="middle" textLength="57.4" lengthAdjust="spacingAndGlyphs">2012-01</text>
<line class="tick" x1="304.5" y1="297.5" x2="304.5" y2="302.4"/>
<text class="t10" x="303.9" y="317.9" text-anchor="middle" textLength="57.4" lengthAdjust="spacingAndGlyphs">2014-01</text>
<line class="tick" x1="412.5" y1="297.5" x2="412.5" y2="302.4"/>
<text class="t10" x="411.9" y="317.9" text-anchor="middle" textLength="57.4" lengthAdjust="spacingAndGlyphs">2016-01</text>
<line class="tick" x1="520.5" y1="297.5" x2="520.5" y2="302.4"/>
<text class="t10" x="519.9" y="317.9" text-anchor="middle" textLength="57.4" lengthAdjust="spacingAndGlyphs">2018-01</text>
<line class="tick" x1="628.5" y1="297.5" x2="628.5" y2="302.4"/>
<text class="t10" x="627.9" y="317.9" text-anchor="middle" textLength="57.4" lengthAdjust="spacingAndGlyphs">2020-01</text>
<line class="tick" x1="736.5" y1="297.5" x2="736.5" y2="302.4"/>
<text class="t10" x="735.9" y="317.9" text-anchor="middle" textLength="57.4" lengthAdjust="spacingAndGlyphs">2022-01</text>
<line class="tick" x1="843.5" y1="297.5" x2="843.5" y2="302.4"/>
<text class="t10" x="842.9" y="317.9" text-anchor="middle" textLength="57.4" lengthAdjust="spacingAndGlyphs">2024-01</text>
<line class="tick" x1="951.5" y1="297.5" x2="951.5" y2="302.4"/>
<text class="t10" x="950.9" y="317.9" text-anchor="middle" textLength="57.4" lengthAdjust="spacingAndGlyphs">2026-01</text>
<line class="tick" x1="85.6" y1="297.5" x2="90.5" y2="297.5"/>
<text class="t10" x="80.8" y="302.7" text-anchor="end" textLength="42.8" lengthAdjust="spacingAndGlyphs">0.00%</text>
<line class="tick" x1="85.6" y1="253.5" x2="90.5" y2="253.5"/>
<text class="t10" x="80.8" y="258.2" text-anchor="end" textLength="60.5" lengthAdjust="spacingAndGlyphs">100.00%</text>
<line class="tick" x1="85.6" y1="208.5" x2="90.5" y2="208.5"/>
<text class="t10" x="80.8" y="213.7" text-anchor="end" textLength="60.5" lengthAdjust="spacingAndGlyphs">200.00%</text>
<line class="tick" x1="85.6" y1="164.5" x2="90.5" y2="164.5"/>
<text class="t10" x="80.8" y="169.2" text-anchor="end" textLength="60.5" lengthAdjust="spacingAndGlyphs">300.00%</text>
<line class="tick" x1="85.6" y1="119.5" x2="90.5" y2="119.5"/>
<text class="t10" x="80.8" y="124.7" text-anchor="end" textLength="60.5" lengthAdjust="spacingAndGlyphs">400.00%</text>
<line class="tick" x1="85.6" y1="75.5" x2="90.5" y2="75.5"/>
<text class="t10" x="80.8" y="80.2" text-anchor="end" textLength="60.5" lengthAdjust="spacingAndGlyphs">500.00%</text>
<line class="tick" x1="85.6" y1="30.5" x2="90.5" y2="30.5"/>
<text class="t10" x="80.8" y="35.7" text-anchor="end" textLength="60.5" lengthAdjust="spacingAndGlyphs">600.00%</text>
<text class="t12" x="535.0" y="21.9" text-anchor="middle" textLength="364.5" lengthAdjust="spacingAndGlyphs">Historical Compounded Cumulative Returns</text>
</g>
<g>
<path d="M130.7,356.5 L130.7,357.4 L131.0,357.2 L130.7,357.7 L130.8,356.9 L131.2,362.0 L131.2,362.3 L131.2,361.1 L131.6,356.9 L131.5,362.2 L130.5,356.9 L131.2,359.5 L131.4,362.9 L131.2,363.8 L131.6,363.1 L131.9,363.4 L132.6,360.8 L132.5,363.3 L131.8,359.9 L132.2,360.2 L132.5,362.3 L132.1,359.1 L133.2,358.5 L132.9,357.3 L132.3,360.1 L133.7,358.7 L133.2,358.2 L133.1,356.9 L133.0,359.0 L133.4,361.1 L133.9,356.9 L134.1,362.7 L133.9,365.2 L133.2,362.3 L133.6,363.9 L133.4,362.1 L133.8,361.5 L133.2,367.0 L134.3,361.6 L134.6,368.5 L133.3,361.7 L134.5,366.4 L134.3,369.4 L135.1,368.3 L134.8,374.7 L135.1,375.5 L135.2,379.9 L135.3,380.4 L135.7,379.2 L135.4,385.4 L135.3,386.1 L135.1,380.8 L134.8,383.1 L136.2,379.2 L136.6,375.2 L135.9,376.0 L136.4,373.5 L136.7,371.0 L136.2,367.1 L136.5,366.4 L136.6,368.1 L137.1,363.4 L136.6,368.0 L136.9,361.2 L136.9,363.3 L136.7,366.2 L136.7,365.3 L137.6,360.3 L137.8,364.4 L137.6,361.8 L137.9,360.8 L137.9,359.4 L137.9,360.8 L138.2,360.7 L138.1,358.2 L138.4,363.9 L138.2,358.0 L138.9,359.5 L138.7,359.1 L137.5,365.2 L138.9,357.9 L139.0,362.3 L139.3,360.6 L138.9,362.8 L139.4,367.9 L139.3,361.8 L139.4,363.0 L139.4,357.9 L139.2,366.6 L139.8,364.8 L140.3,364.2 L140.6,365.9 L139.9,359.8 L140.4,362.4 L139.0,365.1 L139.6,364.7 L139.7,363.7 L141.0,361.9 L140.6,360.7 L140.7,362.7 L141.4,360.0 L140.8,359.8 L140.7,364.7 L140.4,370.1 L140.9,368.2 L141.4,368.7 L141.4,371.0 L140.5,370.2 L140.8,375.8 L140.6,375.3 L141.7,381.1 L141.4,381.2 L141.1,381.6 L141.2,377.4 L142.6,376.7 L142.8,372.1 L142.2,373.8 L142.4,369.7 L143.2,367.5 L142.4,373.8 L143.0,376.7 L142.5,380.6 L143.8,382.1 L143.2,384.7 L143.4,384.5 L144.0,385.4 L143.7,388.9 L143.7,393.1 L143.8,389.2 L144.5,392.0 L144.0,397.6 L144.4,399.2 L144.8,401.5 L145.1,403.9 L145.1,406.0 L145.4,410.8 L145.2,409.6 L144.4,410.0 L145.4,412.2 L145.0,415.6 L145.0,419.6 L145.2,421.3 L145.2,427.4 L145.7,427.6 L144.8,428.8 L145.9,430.5 L145.5,433.7 L145.5,429.0 L146.3,431.1 L146.6,427.4 L145.9,425.5 L146.4,420.6 L146.7,422.5 L147.2,418.9 L147.1,415.5 L147.7,412.5 L148.2,411.2 L148.4,407.3 L147.6,408.1 L148.7,408.4 L148.6,401.7 L149.3,403.3 L149.2,405.7 L149.9,408.4 L149.9,410.2 L150.1,413.2 L149.0,413.8 L150.7,416.4 L150.1,416.5 L150.4,418.9 L149.9,420.0 L152.1,415.6 L151.6,411.3 L151.6,410.7 L151.9,415.4 L152.8,414.9 L152.8,414.2 L153.2,417.3 L153.7,420.0 L153.4,421.6 L153.5,422.2 L153.9,427.5 L153.7,426.9 L154.2,430.4 L154.9,436.6 L153.3,435.2 L154.8,437.1 L155.0,440.6 L155.1,439.7 L155.5,438.6 L155.2,443.6 L155.2,442.5 L156.7,442.4 L155.9,436.4 L156.5,437.0 L156.8,439.4 L156.6,440.3 L157.7,446.3 L156.9,442.9 L157.8,446.8 L158.5,451.5 L158.7,453.7 L158.7,451.3 L158.5,451.3 L159.1,456.7 L159.4,458.8 L159.2,459.9 L159.6,463.9 L159.6,466.4 L160.0,467.0 L159.3,469.8 L159.8,470.9 L160.0,473.9 L160.1,476.2 L160.1,478.4 L159.7,476.0 L160.8,474.7 L160.4,472.5 L160.2,470.3 L160.8,464.4 L161.2,463.8 L159.9,461.3 L161.9,459.2 L160.7,458.1 L161.7,455.3 L161.6,455.1 L161.7,452.1 L162.3,456.5 L162.4,456.1 L162.8,460.8 L162.1,461.8 L163.2,461.9 L163.1,464.2 L163.8,465.8 L163.9,469.2 L164.8,469.9 L163.7,474.3 L165.1,474.5 L164.5,475.8 L164.3,479.9 L164.5,480.4 L164.8,480.7 L165.4,485.3 L165.1,488.1 L165.6,490.4 L165.6,491.5 L166.1,492.9 L165.7,493.8 L166.2,497.6 L167.2,496.6 L166.6,494.4 L166.5,491.5 L167.7,488.9 L167.5,488.7 L167.0,485.3 L167.9,486.4 L167.4,483.0 L167.0,478.8 L168.4,478.1 L168.0,471.6 L167.3,473.5 L168.2,470.3 L167.9,465.4 L168.0,465.2 L169.0,464.3 L169.4,463.2 L169.8,462.6 L169.3,456.1 L169.3,454.4 L170.0,454.0 L170.2,452.1 L170.5,453.9 L172.2,454.1 L172.5,454.2 L172.6,457.8 L172.7,460.1 L173.4,463.4 L173.2,464.1 L173.8,466.3 L172.6,468.2 L173.9,469.1 L174.1,470.4 L173.4,475.2 L174.0,476.7 L174.4,480.1 L173.8,481.4 L174.3,483.4 L174.5,487.0 L173.8,486.8 L174.1,489.6 L174.5,490.6 L174.6,494.5 L174.8,491.7 L174.6,491.3 L174.8,492.2 L175.1,488.2 L174.1,486.2 L175.4,481.2 L176.4,481.3 L176.0,478.9 L176.0,477.6 L175.6,475.1 L175.3,473.1 L175.9,470.3 L175.7,470.3 L177.3,467.0 L176.6,464.4 L176.8,464.8 L177.2,459.8 L177.3,459.2 L177.9,462.3 L178.6,462.3 L178.0,468.4 L178.0,468.4 L178.1,472.4 L178.7,472.3 L178.7,475.4 L179.4,475.2 L179.2,480.5 L179.8,479.3 L179.7,482.3 L180.3,486.9 L181.0,485.6 L180.5,488.5 L180.3,490.5 L180.3,491.8 L181.2,492.3 L180.0,499.5 L179.8,497.2 L180.4,503.8 L180.6,504.1 L180.3,506.3 L180.2,508.8 L181.0,511.0 L180.9,514.1 L181.1,514.2 L181.8,517.2 L181.1,521.5 L180.9,521.8 L181.3,524.8 L181.3,525.3 L181.9,529.3 L182.8,531.8 L182.1,531.8 L181.5,539.4 L182.6,536.1 L182.7,539.0 L183.0,537.2 L183.1,534.6 L183.4,533.0 L182.8,527.9 L182.8,528.9 L183.7,525.2 L183.8,523.8 L183.8,524.0 L183.7,521.6 L183.9,518.8 L184.0,514.5 L183.9,515.5 L184.6,512.6 L184.7,509.3 L184.3,511.7 L184.7,506.9 L185.0,507.1 L184.7,504.1 L185.1,500.6 L185.9,495.8 L185.4,496.6 L184.9,496.0 L186.0,493.7 L186.6,491.2 L186.6,486.1 L186.8,488.8 L187.4,484.4 L187.0,484.8 L188.0,486.5 L188.2,493.2 L189.2,492.9 L188.1,493.7 L188.8,497.4 L188.8,498.6 L188.8,495.6 L190.0,496.3 L190.4,494.5 L190.5,494.4 L191.1,497.7 L191.0,500.4 L191.8,502.0 L191.4,506.9 L191.4,508.0 L192.0,508.7 L192.5,510.8 L192.1,515.2 L192.6,514.6 L192.6,514.4 L192.9,517.7 L192.0,519.0 L193.2,522.9 L193.6,524.0 L193.4,526.9 L193.3,528.5 L193.1,531.7 L194.0,531.9 L194.1,536.3 L194.1,537.5 L195.3,539.5 L194.8,541.0 L196.1,541.9 L195.2,544.0 L195.8,547.3 L194.6,547.1 L196.1,552.1 L197.1,554.1 L196.2,555.5 L196.5,558.7 L196.5,559.2 L196.1,559.8 L195.2,554.6 L196.8,554.5 L198.0,552.6 L197.1,549.1 L197.0,546.3 L197.5,545.1 L197.8,546.2 L197.6,549.4 L198.1,551.2 L197.7,554.4 L197.7,556.8 L198.5,556.0 L197.5,560.7 L198.1,563.8 L198.8,561.7 L198.1,566.3 L198.7,564.7 L198.4,562.3 L199.1,557.4 L198.7,557.7 L199.0,556.1 L199.0,554.5 L198.4,551.2 L199.5,549.1 L199.9,546.4 L199.6,547.2 L200.6,542.8 L200.3,540.5 L200.1,541.7 L199.9,538.9 L200.3,535.3 L200.9,533.1 L200.3,534.7 L200.9,527.9 L201.0,525.1 L200.9,524.8 L201.1,523.7 L200.8,521.6 L201.1,520.0 L202.1,516.8 L201.9,513.7 L202.7,512.1 L202.2,510.8 L203.2,509.6 L202.7,506.7 L202.8,506.6 L203.9,500.6 L201.9,504.1 L203.1,498.5 L203.3,498.1 L203.1,494.5 L202.8,496.1 L203.9,498.7 L203.2,498.8 L202.9,502.6 L203.8,504.2 L203.8,507.4 L204.1,507.3 L204.5,510.7 L204.4,508.5 L205.3,506.4 L206.0,506.1 L205.3,500.8 L206.6,495.9 L205.9,496.6 L206.2,495.6 L205.7,498.6 L206.5,500.6 L206.8,499.0 L206.0,506.0 L207.1,507.5 L207.3,509.1 L207.2,512.5 L207.3,514.0 L207.6,514.7 L207.7,517.9 L209.3,518.6 L209.0,520.8 L209.1,523.5 L209.0,523.0 L210.0,527.2 L210.0,529.5 L210.6,530.8 L210.2,532.9 L210.3,530.2 L210.9,530.3 L211.0,526.4 L211.6,524.8 L212.2,526.4 L211.6,529.4 L212.5,531.5 L213.1,531.3 L213.0,534.9 L213.1,532.5 L214.2,532.2 L214.1,527.8 L214.2,526.9 L215.4,527.5 L215.1,530.1 L215.1,531.9 L213.8,538.5 L215.4,536.3 L215.0,538.8 L215.5,544.4 L215.7,543.0 L216.2,542.4 L216.5,544.3 L216.1,548.2 L216.3,553.1 L215.6,550.9 L216.8,557.0 L217.0,555.9 L216.7,559.2 L217.1,558.0 L216.9,551.5 L217.5,554.6 L216.2,552.5 L217.6,549.4 L217.1,551.2 L217.7,544.5 L217.7,544.5 L217.7,542.9 L217.9,539.4 L218.3,537.0 L218.3,539.3 L219.4,538.5 L218.9,543.5 L219.9,545.4 L219.7,547.1 L220.0,543.5 L220.6,543.9 L219.8,540.5 L221.1,539.0 L221.3,543.2 L221.1,543.3 L221.2,545.9 L221.1,546.0 L221.3,548.9 L221.9,550.1 L222.0,552.1 L221.9,554.7 L222.0,560.7 L222.0,559.5 L221.3,563.0 L222.2,564.0 L222.3,566.4 L222.3,569.3 L222.9,568.5 L223.0,566.7 L223.0,562.8 L223.1,560.8 L222.7,558.9 L223.7,557.2 L223.8,558.7 L223.9,559.7 L223.9,564.1 L222.9,568.6 L223.3,567.0 L225.4,570.9 L224.4,567.3 L224.3,574.2 L223.5,576.2 L224.8,578.7 L224.7,579.4 L224.9,581.2 L225.3,584.0 L225.7,585.1 L226.4,586.5 L226.5,580.8 L227.0,582.6 L226.8,578.7 L227.0,579.0 L228.0,577.9 L226.4,572.3 L228.1,573.0 L227.9,571.0 L227.3,566.4 L227.8,565.3 L227.5,564.7 L227.6,558.4 L229.0,563.2 L227.9,556.1 L228.0,555.6 L228.4,555.3 L229.1,549.4 L228.7,548.2 L228.6,547.1 L228.8,545.1 L228.8,547.5 L228.5,545.8 L229.5,548.6 L230.2,552.5 L230.5,555.2 L230.8,556.2 L230.7,552.9 L231.1,548.8 L231.6,550.9 L231.5,547.9 L231.8,546.1 L232.2,545.6 L232.8,543.2 L233.4,540.4 L233.2,538.0 L233.2,539.2 L233.1,540.9 L234.4,546.8 L234.0,546.5 L234.3,550.4 L233.5,552.6 L234.4,551.7 L234.4,557.2 L234.3,555.6 L234.3,558.0 L234.8,561.2 L234.8,565.6 L236.3,565.3 L235.8,569.2 L235.9,569.3 L236.6,566.3 L237.1,567.8 L237.3,563.2 L237.5,563.2 L237.6,560.0 L238.5,557.8 L238.1,552.8 L238.0,553.5 L238.5,551.1 L239.1,552.6 L239.2,558.4 L238.4,557.7 L239.3,562.3 L239.0,561.2 L239.2,563.2 L239.9,565.3 L240.3,563.2 L240.4,561.0 L241.1,557.4 L239.9,555.6 L240.6,554.1 L240.9,550.7 L241.3,550.1 L240.9,552.7 L242.2,554.1 L241.6,557.6 L241.8,558.8 L242.3,560.7 L241.0,562.8 L241.8,565.0 L242.1,568.2 L242.5,569.3 L243.8,571.6 L242.7,571.7 L242.5,573.1 L243.9,577.4 L244.3,576.6 L243.6,580.7 L244.9,581.6 L244.7,584.9 L245.8,588.8 L245.4,590.5 L246.1,591.4 L246.0,586.4 L246.8,586.8 L246.7,581.3 L246.8,580.0 L247.0,577.4 L246.7,574.6 L246.8,572.5 L248.0,573.3 L248.7,567.4 L247.5,568.7 L248.6,565.3 L249.2,566.2 L248.5,564.5 L249.5,560.0 L249.6,557.5 L249.1,556.8 L250.0,553.1 L249.7,549.1 L250.7,549.1 L250.5,546.2 L251.0,545.6 L250.6,543.1 L251.4,540.3 L251.1,540.2 L251.9,536.5 L251.6,534.0 L251.2,534.8 L250.9,532.2 L251.5,528.9 L251.8,532.5 L252.1,530.4 L252.6,533.5 L252.1,535.9 L252.2,539.4 L252.3,541.4 L252.7,543.0 L252.9,542.1 L251.8,539.3 L253.2,538.8 L253.4,532.1 L254.1,533.7 L254.4,529.2 L255.0,528.7 L254.1,526.9 L255.4,527.7 L256.1,528.9 L256.1,526.3 L257.4,526.6 L257.5,522.8 L258.2,523.1 L257.3,517.5 L258.0,515.2 L258.8,512.8 L258.7,512.4 L259.1,509.7 L259.2,512.1 L259.9,514.3 L259.4,517.7 L260.6,515.9 L260.7,520.6 L260.2,520.0 L259.9,524.8 L260.8,526.9 L261.5,528.1 L262.2,532.6 L261.2,531.5 L262.2,534.9 L262.8,537.8 L262.0,539.3 L263.2,542.2 L262.8,543.9 L263.6,545.5 L262.6,546.2 L263.6,549.1 L264.2,551.3 L264.8,552.5 L264.8,554.1 L265.0,551.0 L265.5,549.3 L265.3,550.2 L266.3,548.8 L266.1,544.6 L265.9,544.0 L266.2,539.0 L265.9,536.8 L267.1,535.7 L266.9,533.8 L266.9,530.6 L267.4,526.6 L266.6,526.2 L266.9,523.6 L267.9,524.2 L267.6,520.8 L268.2,516.6 L267.8,518.2 L268.0,512.4 L268.7,511.7 L267.8,510.2 L268.3,509.1 L269.2,506.7 L268.8,506.1 L269.2,501.5 L270.4,499.8 L270.2,500.0 L269.4,497.1 L270.1,493.7 L270.8,491.0 L270.4,489.3 L270.9,488.5 L270.3,488.8 L272.1,493.5 L271.3,494.8 L272.1,492.3 L272.3,498.6 L272.9,502.5 L273.9,504.1 L273.7,504.6 L273.6,508.4 L274.3,510.3 L273.9,508.2 L274.2,510.4 L273.9,515.7 L275.1,513.5 L275.3,519.4 L275.2,518.7 L275.8,526.1 L275.2,524.5 L275.6,526.6 L275.3,528.9 L275.5,532.6 L276.0,530.8 L276.2,534.2 L276.8,537.4 L276.1,540.8 L277.3,541.6 L276.9,542.2 L276.9,545.1 L277.6,548.8 L276.6,549.5 L277.5,548.5 L278.7,552.9 L277.7,554.1 L278.4,550.6 L277.3,551.0 L278.3,546.3 L278.3,544.7 L278.2,544.1 L278.4,541.9 L278.9,539.0 L279.4,536.1 L279.6,534.0 L279.8,535.5 L280.4,530.7 L280.4,528.9 L281.2,526.3 L281.2,522.8 L280.9,522.0 L281.1,523.7 L281.8,518.8 L282.2,519.6 L281.7,517.1 L282.9,514.6 L282.3,510.5 L282.6,512.6 L282.4,506.0 L283.0,505.3 L283.0,502.6 L284.1,504.9 L283.8,506.1 L283.4,511.0 L284.9,512.3 L284.4,512.7 L284.2,512.3 L284.1,514.6 L284.3,518.7 L285.4,519.8 L286.3,518.7 L285.8,513.5 L286.6,511.2 L286.3,511.2 L287.0,510.6 L287.0,508.7 L287.2,506.1 L287.5,503.8 L287.6,500.7 L287.6,497.5 L288.0,501.6 L288.3,494.5 L288.4,494.5 L288.4,494.3 L290.1,496.1 L290.5,498.6 L290.7,497.2 L290.6,493.1 L291.5,494.7 L290.7,489.0 L291.9,488.5 L293.4,488.0 L292.7,490.0 L293.1,493.5 L293.1,491.7 L292.6,488.9 L294.0,485.5 L293.7,483.9 L293.3,480.3 L293.9,481.4 L293.8,477.1 L293.2,477.4 L293.2,475.4 L293.7,471.3 L293.7,466.1 L293.1,466.8 L294.2,465.6 L293.9,464.2 L294.7,465.6 L293.7,466.4 L294.7,472.8 L294.3,473.8 L295.0,475.6 L295.1,477.4 L295.0,480.3 L295.5,480.4 L295.4,480.9 L296.2,486.3 L297.1,486.5 L296.8,482.8 L296.8,481.7 L297.2,479.9 L297.1,477.5 L297.5,476.4 L297.9,474.5 L297.9,472.3 L297.1,470.7 L298.0,467.1 L297.9,467.1 L298.7,462.5 L299.5,461.0 L299.7,458.6 L299.5,457.2 L298.9,457.0 L300.1,463.4 L300.2,464.4 L299.8,466.5 L300.3,469.4 L300.8,471.6 L300.4,469.0 L301.2,474.3 L301.3,474.1 L301.7,469.6 L301.6,467.6 L302.1,466.4 L302.2,466.7 L303.2,465.2 L302.6,460.2 L303.3,465.1 L303.1,464.8 L302.9,466.5 L303.1,468.8 L303.8,473.7 L302.9,472.5 L304.0,475.4 L304.2,473.6 L304.3,470.3 L305.2,470.3 L305.7,464.7 L306.8,466.2 L305.8,464.2 L306.2,464.5 L306.2,460.5 L306.6,458.2 L308.0,455.2 L308.0,454.1 L309.2,453.7 L308.8,449.5 L309.6,446.7 L309.6,446.1 L310.2,441.8 L311.0,443.8 L310.7,440.0 L311.2,436.4 L310.4,434.6 L311.2,431.5 L310.5,434.1 L310.6,428.2 L311.2,431.3 L309.9,424.3 L311.3,421.9 L310.6,423.9 L310.5,417.7 L311.2,413.6 L311.3,412.8 L310.8,412.4 L310.4,407.7 L310.7,408.9 L311.2,407.7 L311.6,402.6 L311.5,402.5 L311.0,405.5 L312.4,408.7 L311.6,408.7 L312.8,409.1 L312.8,406.0 L312.4,406.9 L312.3,401.8 L313.6,400.9 L313.3,396.7 L314.4,398.2 L313.7,396.5 L314.0,393.5 L313.8,393.4 L314.5,396.0 L315.4,398.8 L314.4,401.2 L315.1,402.5 L315.7,407.0 L315.0,406.8 L315.0,405.7 L315.2,412.2 L315.8,410.6 L316.1,415.2 L316.6,417.9 L316.1,418.9 L316.8,419.6 L317.0,421.5 L317.0,425.4 L317.2,427.2 L317.8,427.1 L318.4,423.9 L319.0,423.8 L318.6,420.3 L318.8,416.9 L319.3,415.9 L319.8,419.1 L319.7,412.4 L319.7,412.4 L320.5,409.9 L320.4,410.9 L320.2,414.4 L320.5,418.8 L319.8,420.0 L321.1,420.4 L321.3,422.8 L321.2,425.0 L320.9,423.7 L321.3,428.8 L321.9,427.1 L321.9,433.4 L322.1,433.6 L322.7,437.0 L323.8,441.9 L323.9,440.8 L322.8,440.3 L323.6,444.1 L324.3,446.8 L324.7,443.9 L324.6,447.5 L325.2,440.7 L325.4,438.6 L326.1,436.6 L325.4,437.6 L326.1,433.2 L325.8,431.6 L325.8,426.3 L327.1,427.2 L327.5,429.9 L326.6,431.1 L327.6,432.3 L327.8,432.5 L328.7,437.8 L328.7,438.6 L329.4,436.5 L329.6,433.5 L330.2,432.5 L330.4,430.4 L330.6,428.2 L330.7,426.1 L331.5,427.8 L331.5,422.2 L332.9,424.9 L331.5,428.5 L333.0,429.5 L333.6,433.4 L332.8,433.7 L333.7,434.5 L334.1,431.1 L333.8,431.2 L334.3,427.7 L334.9,426.4 L334.5,423.8 L335.3,422.2 L336.4,422.1 L336.5,417.9 L336.6,416.8 L336.4,414.8 L337.5,412.9 L337.4,409.9 L338.6,410.5 L338.8,417.3 L338.6,419.2 L338.3,417.6 L338.9,418.8 L339.1,422.2 L339.6,420.1 L340.5,414.8 L339.6,419.6 L340.0,414.9 L339.9,412.2 L339.8,409.5 L340.3,407.8 L340.1,406.0 L340.7,403.4 L340.3,402.3 L341.0,399.2 L341.8,401.9 L341.5,404.3 L341.9,404.6 L343.0,408.6 L342.4,409.3 L343.0,411.6 L343.3,410.0 L343.0,405.8 L343.8,404.9 L343.2,400.9 L343.3,401.4 L344.2,398.6 L343.8,396.1 L344.3,394.0 L344.2,392.4 L344.0,391.4 L344.9,387.2 L345.1,385.3 L345.0,389.0 L345.2,390.5 L346.5,392.9 L346.1,393.2 L346.5,394.5 L346.3,400.1 L346.6,398.5 L347.1,404.3 L346.0,405.9 L347.7,405.7 L347.7,406.9 L347.8,414.1 L347.6,413.2 L347.6,412.9 L347.9,407.0 L348.1,406.6 L348.2,405.9 L348.7,403.0 L349.5,400.6 L348.9,399.2 L348.7,396.1 L349.2,394.3 L349.9,398.1 L350.3,395.8 L351.2,399.2 L351.2,396.9 L351.1,396.8 L352.0,393.7 L352.2,389.0 L352.6,388.6 L352.7,385.9 L352.3,381.9 L353.5,383.7 L353.3,380.4 L353.2,382.5 L352.8,386.4 L354.2,385.6 L353.7,390.0 L355.0,388.1 L354.2,393.5 L355.2,395.5 L355.0,397.6 L355.8,395.6 L354.6,403.1 L355.0,405.3 L356.2,408.0 L356.0,412.0 L357.0,410.5 L356.5,411.6 L357.1,414.8 L357.2,412.1 L357.7,408.8 L357.6,409.3 L357.6,409.1 L357.7,406.3 L357.2,403.3 L358.2,400.3 L358.2,397.1 L358.3,395.2 L358.5,390.1 L358.7,390.6 L359.1,389.4 L359.5,385.8 L359.8,386.8 L361.0,382.9 L361.2,383.3 L361.0,381.7 L361.6,377.9 L362.3,379.8 L361.9,381.3 L362.2,384.9 L362.7,386.0 L362.7,388.3 L362.9,392.4 L362.2,394.0 L362.6,392.8 L363.7,397.8 L363.2,399.2 L363.5,395.2 L363.3,393.7 L364.1,392.6 L364.5,391.3 L364.6,387.4 L364.4,388.4 L364.3,385.6 L364.8,382.8 L364.8,379.0 L366.5,377.7 L366.2,375.9 L365.8,374.9 L365.5,373.7 L366.2,372.5 L366.6,365.1 L366.5,366.4 L366.8,367.2 L366.5,369.0 L367.2,366.2 L367.5,362.7 L366.4,361.0 L366.6,364.9 L366.5,363.1 L366.8,363.0 L366.8,363.2 L367.4,363.0 L367.6,361.7 L367.2,361.5 L367.9,356.9 L367.8,357.8 L368.1,359.8 L367.4,361.3 L368.3,358.5 L369.0,358.1 L368.7,360.9 L369.7,359.0 L369.8,360.2 L369.8,362.3 L369.1,363.1 L370.0,358.7 L370.5,362.0 L370.7,362.7 L370.3,359.3 L370.3,361.9 L369.9,362.2 L370.6,360.7 L371.2,356.9 L370.9,358.2 L371.3,359.0 L371.6,356.9 L372.2,358.2 L371.9,363.0 L371.9,356.9 L372.3,357.7 L372.0,360.7 L372.9,360.7 L373.4,360.3 L372.1,363.1 L372.9,366.9 L373.0,363.8 L372.3,362.9 L372.7,370.3 L373.1,365.8 L372.9,371.6 L372.8,366.5 L373.0,371.3 L373.4,371.5 L373.0,373.8 L373.2,367.9 L372.9,370.9 L372.2,370.3 L373.2,368.5 L373.9,366.9 L373.6,362.6 L374.0,364.9 L373.4,361.6 L375.0,358.6 L373.9,361.7 L374.5,357.4 L374.8,359.2 L374.2,359.8 L374.4,361.7 L374.1,361.1 L374.5,358.0 L375.0,356.9 L375.2,358.2 L375.9,359.9 L375.0,356.9 L375.1,362.3 L375.6,367.3 L375.2,368.5 L375.7,371.6 L375.4,369.6 L375.1,372.4 L375.7,376.9 L375.3,378.9 L375.3,380.4 L375.8,382.8 L376.4,381.5 L376.9,381.9 L376.3,375.9 L376.9,373.8 L377.3,376.6 L376.7,366.7 L377.5,369.7 L378.2,368.5 L378.5,373.0 L378.8,374.6 L378.5,376.5 L379.9,371.3 L378.7,372.4 L378.5,366.2 L379.3,364.3 L379.8,368.8 L379.1,367.4 L380.3,365.1 L379.7,361.8 L379.9,364.8 L380.0,362.9 L379.8,364.6 L379.8,360.6 L379.9,358.3 L380.1,359.8 L380.3,359.9 L380.8,365.0 L380.6,361.5 L380.8,364.0 L380.6,364.2 L380.2,364.0 L381.2,367.9 L380.9,368.3 L380.6,368.3 L381.2,364.7 L380.7,369.9 L381.6,368.2 L381.9,367.3 L382.3,373.1 L381.3,373.0 L381.5,374.0 L381.8,376.4 L381.6,379.0 L381.9,383.2 L382.7,382.8 L382.5,384.8 L382.9,387.8 L382.8,390.3 L383.1,389.7 L384.0,393.3 L383.7,393.9 L383.4,397.6 L383.3,398.4 L383.7,401.1 L384.4,405.0 L384.3,404.6 L384.1,409.2 L384.2,408.5 L384.0,411.5 L384.2,413.3 L384.0,415.7 L384.6,419.7 L384.7,419.7 L383.9,424.6 L383.8,426.8 L384.8,427.5 L384.8,431.2 L384.4,430.3 L385.2,431.2 L385.0,435.4 L384.8,437.2 L384.8,440.6 L385.0,441.3 L386.0,446.8 L384.7,446.1 L385.5,449.0 L385.8,451.3 L386.0,452.4 L385.7,455.1 L385.8,460.5 L385.5,462.6 L385.2,468.4 L385.4,471.1 L386.0,473.1 L385.8,479.4 L385.1,484.9 L385.9,487.4 L385.3,492.9 L385.9,496.8 L386.3,501.9 L386.7,504.6 L385.6,507.8 L385.4,511.3 L385.8,515.9 L385.0,513.7 L386.1,511.5 L385.8,511.0 L385.7,509.5 L385.2,505.0 L385.7,501.8 L386.3,503.2 L386.4,497.0 L386.1,497.3 L386.1,494.5 L385.5,491.4 L386.8,490.0 L386.2,490.2 L386.3,484.7 L386.4,483.7 L386.6,483.0 L386.7,478.5 L386.9,476.9 L386.1,474.5 L387.2,473.0 L386.9,469.1 L386.9,470.0 L388.0,465.5 L387.7,465.6 L388.0,460.7 L387.2,457.5 L387.5,457.9 L388.2,461.2 L387.4,460.8 L386.9,464.7 L388.1,467.5 L388.1,468.0 L388.1,472.0 L388.7,473.8 L388.2,474.4 L388.7,476.4 L388.5,478.8 L388.4,481.8 L388.4,486.4 L388.9,488.0 L388.6,488.0 L388.6,487.0 L389.1,483.4 L388.9,478.0 L388.9,475.8 L388.7,475.0 L388.3,467.4 L388.8,466.3 L389.4,464.0 L389.4,463.7 L389.0,458.6 L390.0,455.8 L388.6,454.0 L390.2,450.3 L389.0,447.2 L389.7,442.9 L390.1,444.6 L389.6,447.8 L390.5,447.9 L390.8,449.4 L390.5,453.6 L390.2,453.7 L389.9,458.9 L390.7,460.0 L390.2,465.5 L390.9,462.7 L391.2,467.6 L390.9,468.6 L390.8,471.1 L391.6,469.8 L391.3,476.4 L391.4,477.4 L391.3,480.6 L390.7,484.6 L391.0,485.6 L392.2,487.0 L391.6,488.1 L392.1,491.2 L391.8,494.4 L391.1,495.0 L391.7,499.5 L392.4,500.3 L391.8,501.6 L392.2,505.3 L392.5,506.5 L391.9,512.8 L391.2,514.4 L392.0,515.8 L392.1,516.0 L391.7,517.0 L392.9,519.5 L392.2,524.0 L392.4,524.4 L392.2,525.7 L393.3,526.9 L392.7,531.9 L392.3,532.2 L393.1,537.2 L393.3,535.8 L393.2,537.7 L392.8,540.1 L393.3,544.5 L392.8,547.5 L393.8,550.5 L393.3,550.2 L393.6,552.3 L393.5,553.3 L393.7,554.6 L394.3,559.1 L394.2,562.4 L394.0,563.1 L394.2,561.1 L394.8,559.7 L395.0,558.8 L395.4,553.7 L395.0,552.1 L395.1,552.4 L395.4,552.8 L396.0,550.5 L395.8,545.2 L395.6,545.8 L395.6,541.8 L395.7,539.6 L396.4,537.5 L396.1,535.2 L396.2,535.2 L396.7,531.2 L395.9,528.3 L396.1,528.3 L396.1,525.9 L396.2,525.1 L397.4,521.5 L397.5,516.5 L396.2,514.6 L397.3,514.8 L396.0,511.2 L397.2,509.4 L397.2,511.5 L397.3,513.1 L397.2,513.1 L398.2,520.7 L397.3,519.6 L398.2,522.9 L397.3,525.5 L398.0,526.8 L398.5,530.9 L398.6,531.7 L398.2,533.0 L399.0,529.8 L398.6,527.2 L398.1,526.7 L397.8,521.6 L398.7,520.4 L399.0,517.1 L398.9,511.7 L398.9,512.5 L399.9,511.1 L398.8,506.6 L399.3,503.8 L399.0,503.0 L399.1,501.1 L399.8,498.2 L399.7,494.4 L400.7,493.0 L399.8,489.7 L400.3,488.7 L400.1,483.7 L400.3,482.5 L400.2,483.6 L400.3,479.2 L400.6,472.7 L400.4,475.9 L400.1,472.3 L401.0,470.5 L400.6,468.6 L401.3,466.3 L400.6,460.4 L400.8,462.6 L400.6,457.5 L400.5,459.8 L400.6,454.2 L401.5,452.7 L400.4,452.3 L401.1,451.5 L402.1,446.2 L401.5,445.0 L401.1,447.0 L401.4,448.3 L401.7,449.9 L402.2,454.9 L403.3,453.6 L402.3,456.4 L402.7,460.1 L402.5,462.2 L402.8,459.7 L402.7,461.3 L402.9,454.4 L402.7,452.8 L403.1,452.3 L403.5,449.5 L402.6,447.6 L403.1,447.2 L403.1,445.7 L403.6,442.6 L403.6,439.7 L403.0,437.7 L404.4,442.3 L404.3,443.2 L404.2,449.9 L403.8,451.4 L404.2,452.5 L404.5,455.3 L404.0,456.5 L404.6,458.1 L404.0,458.6 L404.4,462.6 L404.7,465.4 L403.7,463.0 L404.8,460.8 L404.2,460.5 L405.4,456.8 L405.8,456.0 L405.0,454.9 L405.4,452.2 L406.3,448.0 L405.8,447.2 L405.5,448.4 L405.6,450.9 L406.2,455.2 L406.3,457.9 L406.7,457.0 L406.1,459.0 L406.4,461.9 L406.2,466.2 L406.5,467.0 L406.2,466.7 L406.9,470.4 L406.8,472.9 L407.1,471.3 L406.8,468.9 L406.6,467.4 L407.0,462.6 L407.0,460.4 L407.1,459.4 L407.1,458.4 L406.8,455.8 L407.2,454.6 L406.5,452.9 L407.9,449.0 L407.9,448.2 L408.6,446.1 L409.6,451.5 L409.8,453.8 L410.1,453.5 L409.7,458.1 L410.3,461.2 L410.5,462.2 L410.4,464.4 L410.7,467.3 L410.9,470.4 L410.7,469.8 L410.8,474.3 L411.2,475.7 L410.1,476.9 L411.3,479.6 L410.9,481.7 L411.3,485.5 L411.1,484.8 L411.0,488.5 L411.6,490.1 L412.5,490.8 L412.1,496.7 L412.0,499.1 L412.3,496.6 L412.0,503.5 L412.4,500.8 L411.7,508.2 L412.3,508.6 L412.4,510.5 L412.3,513.1 L411.4,515.4 L413.5,516.0 L412.7,520.3 L412.9,523.9 L412.2,524.4 L412.0,527.4 L411.5,528.7 L412.9,530.6 L412.7,529.6 L413.2,536.4 L412.5,535.9 L412.4,536.5 L413.8,542.4 L413.6,542.0 L412.9,546.6 L412.1,551.5 L413.3,550.2 L413.5,552.2 L414.3,557.8 L413.7,560.2 L414.4,560.3 L414.1,561.7 L413.9,562.8 L415.0,563.3 L414.3,567.4 L413.5,568.7 L414.6,571.8 L415.5,573.7 L414.7,575.3 L415.0,576.3 L415.2,578.8 L415.4,586.3 L415.4,583.5 L416.3,580.1 L415.9,580.7 L416.0,578.4 L416.4,576.3 L416.4,574.8 L415.9,570.4 L416.5,568.0 L415.9,568.3 L417.4,565.9 L415.8,564.8 L416.7,560.7 L416.5,558.8 L416.8,556.6 L416.9,556.3 L417.2,550.6 L417.1,550.0 L416.6,547.2 L417.2,544.0 L416.3,542.1 L417.6,541.6 L417.2,545.5 L418.0,544.8 L418.4,544.3 L418.2,549.0 L418.2,551.6 L418.1,554.7 L417.5,553.8 L418.9,558.7 L418.6,560.1 L418.6,563.4 L417.9,566.8 L418.6,567.4 L418.7,570.0 L418.5,571.2 L418.6,572.6 L420.3,574.2 L419.4,580.7 L419.1,581.4 L418.9,578.0 L420.4,584.7 L419.5,586.6 L420.1,588.8 L419.7,586.3 L420.2,582.3 L420.0,581.7 L420.0,578.8 L421.1,578.5 L421.6,575.6 L420.8,571.3 L420.7,569.9 L421.1,569.7 L420.6,569.1 L420.9,563.3 L420.7,563.5 L421.9,562.3 L421.2,558.8 L421.5,554.4 L420.6,556.1 L421.4,552.7 L422.2,548.0 L421.6,548.4 L422.2,546.6 L422.2,544.9 L422.1,541.6 L421.7,540.1 L422.5,536.7 L423.5,530.9 L422.3,532.4 L422.9,530.9 L423.2,525.9 L423.0,526.7 L423.0,523.8 L423.5,521.2 L424.0,519.2 L423.9,517.8 L424.0,515.9 L424.7,514.4 L424.5,512.5 L424.2,509.2 L425.0,506.8 L424.7,505.5 L425.1,503.0 L424.8,498.8 L426.2,499.2 L425.5,497.1 L426.6,494.0 L426.8,492.2 L427.1,492.9 L426.7,496.2 L427.6,496.7 L426.9,501.4 L427.9,501.4 L427.6,505.1 L427.7,508.2 L427.8,511.9 L428.6,509.9 L428.5,513.4 L428.1,515.9 L428.6,516.1 L428.9,520.1 L428.6,524.4 L429.4,526.5 L429.6,524.8 L429.3,529.6 L430.0,527.5 L430.2,531.3 L430.2,532.2 L430.4,537.3 L429.9,538.2 L430.7,541.2 L430.2,542.9 L430.0,546.2 L431.1,548.9 L431.4,552.8 L431.2,552.9 L430.6,554.5 L431.5,558.9 L430.9,558.3 L431.5,560.9 L431.9,561.1 L432.2,554.8 L432.0,557.4 L432.1,553.0 L432.9,549.2 L432.7,552.8 L432.8,545.9 L433.2,543.6 L433.2,541.1 L432.5,540.8 L433.0,535.7 L433.2,536.5 L432.6,535.0 L433.0,531.7 L433.5,528.9 L433.3,525.1 L433.6,522.7 L433.3,521.0 L433.3,520.5 L433.4,519.8 L433.7,515.9 L433.9,514.8 L433.7,509.4 L433.6,507.3 L434.6,505.7 L434.5,503.1 L433.3,502.0 L434.2,495.3 L434.2,493.3 L434.1,495.6 L433.9,491.2 L433.9,489.5 L433.9,485.9 L433.8,486.1 L433.6,482.4 L434.1,479.4 L433.5,475.7 L434.5,473.9 L434.0,472.1 L434.1,470.0 L434.4,467.1 L433.3,464.8 L434.7,459.3 L435.4,458.6 L434.2,455.8 L434.7,455.9 L434.8,454.0 L434.9,448.1 L434.4,444.6 L434.6,442.4 L434.7,440.7 L434.7,444.1 L435.0,445.5 L434.3,448.5 L435.8,449.0 L436.4,449.8 L436.2,453.6 L436.9,456.1 L436.9,459.4 L436.3,459.8 L436.7,461.8 L436.9,464.7 L436.6,471.2 L437.5,468.6 L437.4,468.3 L438.2,463.9 L437.4,462.2 L438.0,460.7 L438.3,454.7 L438.1,454.1 L438.7,454.4 L439.6,451.0 L438.6,450.0 L439.0,447.2 L439.1,445.4 L438.7,439.5 L440.5,438.6 L439.6,438.3 L440.4,435.6 L440.9,434.3 L441.0,433.4 L440.5,430.0 L440.7,427.8 L440.5,425.2 L440.3,421.2 L440.3,420.4 L440.7,421.7 L441.0,419.6 L440.6,415.7 L441.0,414.9 L441.0,410.4 L440.4,408.6 L441.6,408.8 L441.4,403.2 L440.3,403.8 L440.9,400.8 L440.6,398.7 L440.7,394.0 L441.1,395.1 L441.2,392.6 L440.7,387.9 L441.2,387.7 L441.0,385.2 L440.8,382.8 L441.8,381.0 L440.9,375.3 L441.1,380.5 L441.1,371.8 L440.8,370.3 L441.9,371.0 L441.5,369.4 L441.4,368.6 L441.3,362.5 L441.3,363.0 L441.3,358.6 L441.5,358.2 L441.1,356.9 L441.5,359.1 L442.3,359.9 L441.7,361.1 L441.3,358.0 L441.4,362.4 L441.4,362.9 L441.9,362.9 L441.8,365.2 L442.1,362.9 L442.8,364.3 L441.9,364.2 L442.4,364.6 L442.5,366.3 L442.3,366.4 L443.6,365.7 L442.7,374.7 L443.0,371.1 L442.1,375.8 L442.7,377.3 L443.5,379.5 L444.3,378.2 L443.2,377.0 L444.4,375.5 L444.4,370.5 L444.2,372.5 L444.2,367.2 L443.7,367.6 L444.8,363.1 L444.5,366.7 L444.3,366.2 L444.8,362.8 L444.4,367.0 L445.0,367.1 L445.2,369.0 L445.3,368.0 L445.3,371.3 L446.4,368.0 L446.0,368.7 L445.8,367.6 L445.9,364.9 L445.3,368.8 L446.5,367.8 L446.1,371.3 L445.6,371.8 L446.1,374.3 L446.6,369.3 L445.9,367.3 L447.3,367.7 L446.2,370.9 L447.0,371.0 L447.2,369.1 L446.9,368.5 L447.1,365.3 L447.8,366.0 L447.7,366.4 L448.7,365.8 L448.1,369.0 L448.9,373.4 L448.6,373.8 L449.4,376.3 L449.0,372.8 L450.4,374.2 L450.4,374.5 L450.8,369.3 L450.6,368.7 L451.0,364.8 L452.1,366.0 L450.7,362.1 L451.7,364.1 L451.4,369.0 L451.6,368.4 L451.6,368.0 L451.9,367.8 L453.0,370.7 L452.4,364.9 L452.8,369.1 L452.8,371.8 L452.2,371.7 L453.5,366.8 L452.5,373.4 L453.0,371.3 L453.5,375.3 L453.7,371.5 L454.0,375.8 L453.4,378.3 L453.8,379.0 L453.8,384.9 L455.2,382.5 L454.7,390.2 L454.6,389.4 L454.4,386.5 L455.5,382.8 L455.1,385.3 L455.9,381.2 L455.9,383.2 L456.3,384.9 L455.9,390.6 L456.8,390.7 L456.3,391.0 L457.0,391.4 L456.3,394.7 L456.3,397.7 L456.7,398.0 L456.8,404.0 L456.4,404.6 L457.1,405.8 L458.2,400.6 L457.0,400.8 L458.2,399.1 L457.8,394.4 L458.0,395.3 L458.7,392.7 L459.2,391.8 L458.7,389.2 L458.7,386.3 L459.2,384.1 L459.6,381.7 L459.0,384.1 L459.7,378.5 L459.3,376.9 L459.5,373.8 L460.3,374.9 L460.4,378.4 L460.8,378.0 L460.8,382.2 L461.2,382.8 L462.4,385.7 L462.0,383.7 L461.4,386.7 L462.5,390.1 L462.0,392.5 L462.8,394.3 L463.2,393.7 L463.8,397.6 L464.8,399.2 L466.0,395.2 L465.5,394.7 L465.7,393.5 L466.4,392.7 L466.6,394.8 L466.5,397.8 L468.1,396.5 L467.9,400.8 L468.1,404.8 L468.1,405.0 L467.6,403.1 L468.9,398.6 L468.8,400.2 L467.8,394.6 L468.4,393.6 L468.6,393.5 L469.0,393.8 L469.4,389.4 L470.8,389.3 L471.4,391.0 L471.2,389.5 L472.7,388.3 L472.0,383.1 L471.5,381.4 L472.8,382.0 L473.0,380.6 L473.0,377.1 L473.2,376.1 L472.9,380.3 L473.9,381.8 L474.7,385.2 L474.0,387.8 L473.4,390.4 L475.1,393.0 L474.3,393.5 L474.5,398.1 L474.5,397.2 L475.6,399.2 L475.2,395.3 L476.8,397.0 L476.0,392.7 L477.1,391.3 L477.3,389.4 L477.3,385.7 L478.7,386.5 L478.9,385.3 L479.3,383.4 L478.3,379.4 L479.2,379.8 L479.7,377.2 L480.1,375.4 L479.9,378.2 L480.5,381.8 L480.9,382.4 L481.0,385.3 L480.7,383.0 L481.2,387.8 L481.7,389.1 L481.9,385.4 L481.7,381.8 L482.2,381.2 L482.8,382.3 L483.1,386.0 L483.2,388.3 L481.9,390.3 L482.7,394.4 L482.7,395.6 L482.7,395.3 L482.2,396.2 L482.5,398.6 L482.8,400.0 L482.9,404.2 L484.0,406.6 L483.3,410.9 L483.5,411.3 L483.8,412.5 L484.0,412.9 L484.2,415.7 L484.7,415.3 L484.4,419.2 L485.4,421.0 L485.7,422.5 L485.8,425.5 L486.7,428.3 L486.2,427.6 L487.1,432.1 L487.0,433.6 L486.6,432.8 L487.1,437.0 L487.1,437.5 L487.1,436.2 L486.9,430.2 L487.9,429.5 L488.0,429.6 L487.5,423.9 L488.3,422.2 L489.0,424.1 L489.5,427.3 L489.2,429.5 L489.7,431.1 L489.9,432.1 L491.4,431.6 L490.8,436.0 L492.0,437.0 L493.1,439.3 L494.0,440.3 L494.8,443.8 L494.6,439.3 L494.1,448.5 L494.8,445.0 L495.0,450.4 L495.0,451.8 L495.1,448.1 L495.9,448.1 L496.0,449.3 L495.1,442.9 L496.5,441.9 L496.8,441.6 L496.7,437.8 L496.7,437.2 L497.8,434.2 L498.1,432.1 L499.1,434.6 L499.0,436.0 L498.7,439.6 L499.8,440.3 L501.0,438.2 L502.2,437.0 L502.5,436.9 L503.7,435.0 L504.2,432.1 L503.7,431.8 L504.6,434.0 L505.1,438.7 L504.7,441.8 L505.5,444.3 L505.5,445.4 L505.5,446.8 L505.9,442.9 L505.5,441.4 L506.4,440.5 L506.5,439.1 L507.0,435.7 L507.2,435.4 L506.8,432.3 L508.3,431.8 L507.4,429.1 L508.9,430.1 L508.2,425.5 L509.9,424.4 L508.8,422.2 L509.4,424.5 L508.4,427.1 L508.8,426.8 L509.6,431.3 L509.6,435.6 L509.9,435.4 L510.1,437.0 L511.4,439.2 L511.2,441.4 L510.5,444.9 L510.9,445.9 L511.3,446.8 L511.9,445.4 L512.4,443.6 L512.4,445.8 L512.6,450.4 L513.7,451.3 L513.5,453.3 L513.7,456.7 L513.4,456.7 L513.0,461.4 L513.9,463.7 L513.8,459.8 L514.3,462.3 L514.5,466.5 L514.5,465.9 L515.4,470.0 L515.8,472.4 L516.0,472.5 L516.6,475.5 L516.9,477.6 L517.5,475.8 L517.6,475.4 L519.0,472.2 L519.5,469.3 L519.6,467.3 L520.4,465.1 L520.7,465.6 L521.2,461.5 L521.7,463.2 L520.9,465.4 L521.9,468.3 L522.4,470.0 L522.9,467.0 L522.6,465.8 L522.3,460.1 L523.3,461.5 L523.4,463.7 L523.6,466.5 L523.1,467.1 L523.7,468.3 L524.2,470.4 L523.2,472.2 L523.3,476.2 L524.2,478.6 L523.8,483.4 L524.2,482.8 L523.6,483.7 L524.9,484.2 L525.5,491.0 L524.9,489.2 L525.0,493.6 L525.1,495.0 L525.1,499.4 L524.8,502.4 L524.6,504.7 L525.0,504.4 L524.0,504.9 L525.1,500.1 L526.1,498.0 L525.9,496.9 L525.4,496.4 L527.0,490.2 L525.6,489.9 L526.7,487.2 L526.5,485.8 L527.8,485.7 L528.2,480.6 L528.3,478.2 L528.2,477.6 L528.4,476.4 L528.7,471.0 L528.8,467.5 L529.9,466.0 L529.7,466.8 L528.9,467.2 L530.4,471.6 L531.4,471.8 L530.8,475.8 L531.0,476.5 L529.9,477.6 L531.9,481.6 L531.1,482.0 L531.2,485.0 L532.6,487.3 L532.5,489.4 L533.0,494.0 L533.6,494.0 L533.5,498.1 L534.0,498.0 L533.9,498.2 L534.1,500.3 L534.9,504.2 L535.1,506.8 L535.5,508.1 L535.9,512.3 L535.8,513.0 L536.1,513.8 L537.4,509.3 L537.3,508.4 L537.5,506.5 L538.2,503.8 L537.6,501.6 L538.2,500.0 L538.5,499.3 L539.0,495.8 L539.6,494.2 L540.1,492.7 L541.1,490.4 L540.7,494.2 L541.2,493.8 L541.8,497.4 L541.8,499.2 L541.7,499.3 L542.1,501.9 L542.6,504.4 L542.9,507.0 L542.8,510.3 L542.6,509.6 L543.3,513.1 L543.4,518.2 L544.3,520.1 L544.2,517.7 L544.4,523.4 L543.9,523.7 L544.4,525.8 L544.1,527.2 L545.0,530.2 L544.8,532.0 L544.1,534.6 L544.9,537.0 L545.0,537.6 L544.8,540.9 L544.6,541.9 L545.1,545.6 L544.7,545.8 L545.8,549.5 L546.0,550.9 L546.1,553.8 L546.5,549.2 L546.7,550.2 L546.8,546.3 L547.4,545.4 L547.3,543.5 L547.8,539.7 L547.6,538.7 L547.9,539.0 L548.8,536.5 L548.6,533.8 L549.7,532.3 L549.1,537.3 L550.0,537.1 L550.3,540.6 L551.0,541.0 L550.7,543.8 L551.2,545.2 L551.7,544.1 L551.6,542.5 L552.0,538.7 L552.5,536.6 L552.9,537.4 L553.7,541.5 L553.6,542.5 L553.6,547.0 L554.0,547.3 L554.3,545.3 L554.1,541.9 L554.9,542.6 L555.1,538.7 L554.7,540.7 L555.9,543.2 L555.1,543.3 L556.3,549.1 L555.5,551.9 L555.5,552.6 L555.8,554.6 L556.7,556.2 L556.2,558.6 L556.4,560.2 L556.6,562.4 L556.7,563.7 L557.4,567.6 L556.2,565.5 L557.2,569.0 L557.0,577.0 L557.5,575.4 L557.0,573.5 L557.2,579.5 L557.4,572.1 L557.2,573.8 L557.3,572.7 L557.7,571.5 L558.9,567.9 L558.3,564.2 L558.6,561.2 L558.2,561.6 L558.9,559.2 L558.3,557.4 L558.9,552.6 L558.3,548.0 L558.9,548.6 L559.6,548.4 L558.9,543.0 L559.3,545.7 L559.3,545.2 L559.5,549.9 L560.2,551.7 L559.9,552.2 L560.4,555.9 L561.0,555.2 L559.8,558.5 L560.5,563.6 L560.6,566.0 L561.1,570.0 L560.9,569.0 L561.3,570.6 L560.8,576.3 L561.4,573.5 L560.5,579.1 L560.8,578.5 L561.6,582.6 L560.9,582.7 L561.5,586.0 L560.8,589.2 L561.9,591.3 L562.6,595.4 L562.2,593.6 L562.3,596.2 L562.8,598.8 L563.4,596.8 L563.0,592.1 L563.6,594.7 L563.0,588.9 L562.8,586.7 L563.7,587.7 L563.2,582.7 L563.7,581.0 L564.1,579.5 L564.0,580.1 L564.9,575.4 L564.5,574.1 L565.3,567.5 L564.6,569.7 L564.5,566.5 L564.5,563.1 L565.5,563.1 L565.4,560.2 L566.0,558.5 L565.9,557.0 L566.3,552.8 L566.5,554.1 L566.3,552.2 L567.2,546.7 L566.9,546.2 L567.3,547.2 L567.5,549.8 L567.6,551.6 L568.9,551.2 L568.4,555.9 L567.8,558.4 L568.3,558.8 L567.9,561.2 L570.0,565.4 L569.8,566.3 L569.7,568.8 L569.5,568.1 L569.6,567.5 L570.5,563.0 L571.0,562.3 L571.2,566.3 L570.9,566.2 L571.4,568.6 L572.1,571.6 L571.6,573.7 L572.4,574.3 L571.8,576.9 L572.7,581.4 L572.0,581.6 L572.2,582.7 L572.7,577.9 L572.8,574.4 L572.5,570.1 L572.6,568.2 L572.7,564.1 L572.2,558.2 L573.5,556.0 L572.4,552.2 L572.9,547.6 L572.7,546.7 L573.1,541.9 L572.7,536.7 L572.8,533.2 L572.5,530.5 L573.3,525.9 L573.7,525.5 L574.2,522.5 L572.9,520.4 L573.9,517.4 L573.4,514.1 L574.2,513.7 L574.0,510.2 L573.9,507.9 L574.8,506.5 L574.4,504.4 L575.1,502.9 L576.1,506.5 L576.6,511.2 L577.2,511.0 L576.7,511.4 L577.6,515.1 L577.2,510.4 L578.4,511.2 L577.9,508.0 L578.7,507.2 L577.8,504.8 L577.8,501.4 L579.1,500.1 L579.2,498.3 L580.6,494.8 L580.6,495.7 L580.8,491.5 L581.0,489.8 L581.0,486.3 L580.7,488.1 L581.3,481.9 L581.7,482.2 L581.4,477.1 L581.0,476.1 L581.5,474.5 L582.0,473.7 L581.9,468.9 L581.7,467.4 L582.1,465.8 L582.7,462.9 L581.6,460.9 L582.8,458.1 L582.2,460.6 L582.6,454.5 L583.1,450.7 L583.1,450.7 L583.0,452.1 L583.6,447.7 L583.4,444.3 L583.3,445.5 L584.0,451.0 L583.4,451.0 L584.3,454.3 L584.9,458.5 L584.5,458.5 L584.3,459.4 L584.7,461.5 L585.8,461.5 L586.0,459.9 L586.5,458.4 L585.8,455.8 L586.9,454.5 L586.5,449.8 L586.6,449.9 L586.4,447.8 L587.3,444.8 L586.0,445.5 L586.9,436.8 L586.6,437.6 L587.1,434.1 L586.8,434.5 L588.2,433.9 L587.2,430.4 L587.8,435.1 L587.6,434.5 L587.9,437.4 L587.5,440.7 L587.3,443.1 L588.3,445.8 L588.0,446.4 L588.2,446.7 L587.4,453.0 L588.0,456.7 L587.4,453.7 L588.0,460.1 L587.5,462.8 L588.7,463.3 L588.3,465.8 L589.0,462.6 L589.2,461.5 L589.8,463.1 L591.0,466.3 L590.5,467.9 L591.0,468.1 L590.3,474.2 L592.0,474.5 L589.8,478.1 L590.5,478.2 L591.1,481.2 L591.6,482.9 L591.5,484.0 L591.9,487.4 L592.2,487.5 L592.2,491.5 L592.1,494.6 L592.9,495.5 L593.3,496.9 L593.2,497.2 L593.1,491.6 L594.2,493.6 L594.0,486.6 L595.0,484.7 L593.7,484.7 L594.8,481.9 L595.5,484.1 L595.6,485.7 L595.8,487.5 L595.7,489.9 L596.3,491.5 L596.8,489.9 L596.9,487.2 L597.6,485.1 L597.9,485.7 L597.0,490.7 L598.8,490.7 L598.1,495.1 L598.2,497.9 L599.7,496.7 L599.1,500.1 L599.4,497.3 L599.4,493.2 L600.2,491.8 L600.6,491.5 L601.3,490.8 L600.9,495.2 L601.7,496.9 L601.5,502.4 L601.9,502.2 L603.0,502.6 L602.8,500.0 L603.3,493.5 L603.4,493.7 L603.6,495.2 L603.4,495.1 L603.2,500.5 L604.4,502.7 L603.5,504.8 L602.9,510.3 L604.1,507.3 L603.0,509.9 L604.5,513.4 L604.8,513.9 L604.8,518.1 L604.3,517.1 L604.4,521.6 L605.4,526.2 L604.6,527.9 L604.5,528.3 L604.6,531.9 L604.1,532.5 L605.9,532.1 L605.4,536.7 L605.4,535.3 L605.5,540.9 L604.9,546.3 L605.6,541.5 L605.7,546.5 L605.3,547.5 L606.2,549.7 L606.4,553.7 L606.4,554.2 L606.3,557.3 L606.3,561.6 L605.7,561.8 L606.9,564.6 L606.6,566.6 L606.8,567.5 L606.6,567.6 L608.0,572.9 L607.7,574.1 L607.2,571.7 L607.5,569.8 L609.3,568.0 L608.7,566.6 L608.7,565.1 L608.8,564.3 L609.1,561.2 L608.5,559.4 L609.7,557.8 L608.2,551.1 L609.5,552.7 L610.3,549.2 L610.0,548.5 L610.2,547.3 L609.7,543.3 L610.3,542.8 L610.3,541.0 L610.7,537.3 L610.8,536.7 L610.9,529.9 L610.7,527.9 L610.7,528.6 L610.7,526.8 L610.9,525.5 L611.3,527.7 L610.2,528.1 L611.8,530.1 L612.0,531.9 L611.6,534.6 L613.0,539.0 L612.5,539.1 L612.7,536.9 L612.3,536.6 L613.5,531.7 L613.0,532.4 L613.5,527.8 L613.3,524.7 L612.7,524.6 L614.3,523.9 L614.1,520.9 L613.7,520.5 L614.2,514.7 L615.7,512.6 L614.9,511.0 L615.5,510.8 L615.5,508.4 L615.2,512.9 L615.9,514.1 L616.0,513.0 L616.8,514.8 L616.7,518.0 L616.1,523.4 L616.6,522.1 L617.1,524.0 L616.5,528.1 L617.0,530.0 L617.6,530.8 L618.3,531.5 L617.7,534.5 L618.8,536.1 L618.9,540.8 L618.6,541.4 L618.9,540.5 L619.4,540.3 L619.6,536.4 L619.7,535.0 L619.1,531.6 L620.0,530.0 L619.6,535.4 L619.9,530.7 L620.9,539.3 L620.7,537.4 L619.8,540.4 L620.9,542.0 L620.4,546.5 L620.4,543.1 L621.2,549.3 L621.4,551.1 L620.9,552.3 L621.6,555.0 L622.3,554.2 L623.2,552.9 L623.2,550.5 L622.7,547.0 L625.4,544.6 L625.0,545.9 L625.4,542.4 L625.7,541.8 L625.4,545.0 L625.5,537.5 L626.2,536.2 L626.8,532.2 L626.6,533.6 L626.5,529.5 L626.8,527.7 L627.2,523.2 L626.9,522.4 L626.8,523.6 L627.8,519.3 L627.2,521.3 L627.7,516.4 L627.6,516.2 L628.3,513.1 L628.8,508.7 L628.5,511.5 L628.2,507.0 L628.9,507.5 L629.1,502.7 L629.6,502.7 L629.1,504.4 L630.3,505.4 L629.5,514.3 L629.7,511.8 L630.4,513.9 L629.9,519.2 L629.7,519.6 L630.7,520.9 L630.8,525.3 L631.7,523.8 L631.7,526.7 L632.0,530.6 L631.4,529.6 L631.4,533.4 L631.3,537.2 L631.8,536.8 L632.6,540.4 L631.7,537.6 L632.0,541.3 L632.3,545.4 L632.3,546.9 L632.9,548.6 L632.5,551.9 L633.0,552.7 L632.8,550.5 L632.6,548.3 L633.6,548.1 L633.1,544.3 L633.3,541.8 L634.4,538.0 L633.2,543.7 L634.1,534.5 L633.3,535.3 L634.1,532.3 L634.5,527.2 L635.1,525.1 L634.7,525.5 L634.5,524.3 L634.8,522.1 L635.1,522.4 L635.1,518.3 L635.5,516.4 L635.4,517.3 L636.8,520.2 L636.3,523.8 L636.8,526.6 L636.5,526.1 L636.8,527.7 L637.0,528.1 L636.3,531.4 L638.0,532.0 L637.4,536.5 L637.1,538.6 L637.9,541.1 L637.7,542.0 L637.4,546.3 L637.4,547.0 L637.6,549.8 L637.6,552.8 L637.9,555.8 L637.7,553.8 L638.2,557.3 L637.9,560.5 L638.9,564.4 L637.7,564.5 L638.1,565.7 L638.7,565.0 L638.3,573.5 L639.2,573.4 L638.5,572.7 L639.0,576.8 L638.9,576.7 L639.3,580.4 L638.7,580.2 L638.8,584.1 L638.8,588.1 L639.1,589.1 L638.9,595.6 L639.7,594.7 L639.3,597.1 L639.3,596.4 L639.6,600.9 L639.9,602.9 L639.3,602.7 L639.6,608.6 L639.9,608.4 L640.8,603.7 L639.6,602.8 L639.6,603.5 L640.6,598.4 L641.4,596.4 L641.5,595.7 L640.4,593.6 L640.3,590.2 L640.5,589.1 L640.6,586.4 L640.2,586.4 L639.9,581.8 L641.0,583.7 L641.1,579.4 L641.4,579.1 L641.4,575.5 L641.5,574.8 L641.7,571.3 L642.3,566.5 L641.5,564.9 L642.1,566.5 L643.0,564.7 L643.0,564.3 L643.5,559.0 L642.7,557.3 L642.8,553.9 L642.9,555.0 L642.9,551.2 L642.1,551.7 L643.8,549.6 L643.7,545.4 L643.6,543.6 L644.3,540.2 L643.7,544.7 L644.3,540.2 L644.3,535.5 L644.2,533.9 L645.0,532.3 L646.1,528.4 L646.0,528.9 L646.4,527.7 L646.6,525.5 L646.4,524.9 L647.5,530.1 L647.0,529.1 L647.8,531.0 L647.7,534.5 L647.9,537.0 L648.3,537.3 L648.0,540.3 L648.2,542.6 L649.0,545.5 L648.9,545.9 L649.3,542.8 L648.8,541.9 L648.5,538.3 L649.5,535.9 L649.2,537.6 L649.7,533.9 L649.9,532.9 L650.1,531.5 L650.1,526.3 L650.0,525.5 L650.0,519.3 L650.4,520.7 L650.6,517.7 L649.9,517.9 L650.5,512.5 L650.5,511.7 L650.0,509.8 L651.1,507.3 L650.9,505.4 L650.9,500.9 L650.1,498.7 L650.9,495.4 L650.5,493.1 L650.9,491.2 L651.1,489.1 L651.2,487.1 L651.7,485.1 L651.5,483.0 L650.1,478.7 L651.8,477.9 L651.3,475.9 L652.1,472.3 L651.9,471.3 L652.1,471.9 L651.9,471.5 L652.4,467.4 L652.2,462.7 L651.8,460.7 L652.3,459.5 L652.1,458.0 L652.3,458.3 L652.9,452.8 L653.1,450.9 L652.6,448.8 L652.8,444.0 L653.6,445.9 L654.1,446.5 L654.0,442.5 L654.6,440.2 L654.4,436.4 L655.0,436.8 L655.8,433.7 L656.0,431.7 L656.9,431.0 L655.9,430.0 L655.9,427.8 L656.3,428.0 L655.5,425.3 L656.7,423.5 L655.8,419.4 L656.5,415.8 L656.1,415.9 L656.8,411.4 L656.1,412.7 L655.7,411.6 L655.7,408.5 L656.0,407.3 L656.0,404.9 L656.2,400.9 L656.8,403.7 L656.4,403.7 L656.9,405.9 L656.4,408.4 L657.2,411.2 L656.7,411.9 L656.6,415.2 L656.9,416.6 L656.3,420.3 L656.6,422.4 L658.2,424.2 L657.3,426.3 L657.4,422.7 L658.0,421.9 L656.8,419.5 L657.8,415.7 L658.3,416.7 L658.3,413.4 L658.6,410.5 L657.9,410.1 L659.1,408.5 L657.8,404.9 L658.5,404.2 L658.2,400.7 L659.0,400.3 L659.1,398.3 L659.1,398.6 L658.4,392.8 L659.3,393.3 L659.8,391.0 L660.2,392.5 L659.5,395.6 L660.5,395.2 L661.2,398.4 L660.0,399.8 L661.1,402.5 L660.6,402.3 L661.7,396.7 L662.9,394.4 L662.2,394.4 L662.2,391.9 L663.4,393.3 L662.3,396.9 L662.0,400.1 L663.1,399.2 L662.8,402.4 L663.4,404.2 L664.2,408.7 L663.9,406.7 L663.6,409.2 L664.0,413.8 L664.2,414.0 L664.8,414.3 L665.0,417.0 L664.4,419.5 L664.7,422.2 L664.9,422.5 L664.7,417.0 L665.9,416.9 L665.0,414.8 L665.0,410.0 L665.5,409.5 L666.1,406.5 L665.3,403.9 L666.0,404.2 L666.3,400.7 L666.0,399.2 L666.9,399.0 L667.1,406.7 L667.3,405.4 L667.1,407.3 L666.8,408.9 L666.0,412.1 L667.7,412.9 L667.2,410.6 L667.2,417.3 L667.5,416.6 L668.0,413.4 L666.7,411.4 L667.5,407.3 L667.5,406.9 L668.6,404.4 L668.5,397.7 L668.4,401.8 L668.2,398.2 L668.3,396.0 L668.5,394.1 L668.8,389.8 L668.5,387.1 L668.0,385.3 L668.6,384.4 L668.7,379.0 L669.4,376.2 L669.7,376.7 L669.2,372.4 L668.6,368.7 L669.2,368.1 L669.0,367.8 L669.6,365.7 L669.2,358.5 L669.3,358.2 L670.2,357.9 L669.9,361.1 L669.5,366.4 L669.8,365.3 L669.2,366.8 L670.0,368.4 L670.7,372.9 L670.3,371.7 L670.6,374.8 L670.3,379.8 L670.1,383.1 L670.4,382.8 L670.1,383.9 L670.9,385.6 L671.6,389.6 L670.9,390.0 L671.2,391.9 L671.6,394.3 L671.6,391.4 L672.0,388.7 L672.2,387.1 L672.6,383.6 L673.0,384.6 L672.5,380.7 L673.2,379.5 L673.0,379.5 L673.7,382.6 L674.5,382.9 L674.5,387.8 L674.3,383.2 L675.1,382.4 L674.6,384.4 L674.7,378.9 L674.9,376.9 L674.6,379.0 L674.8,372.8 L675.1,371.7 L674.9,370.0 L675.6,371.3 L675.9,360.7 L675.2,361.4 L675.6,361.5 L675.9,358.2 L675.7,361.0 L676.1,362.3 L676.2,361.7 L676.0,360.8 L676.6,363.6 L677.3,362.6 L675.9,368.0 L676.5,367.6 L676.2,366.6 L676.3,370.5 L676.4,367.6 L677.3,372.9 L676.7,366.7 L676.7,371.2 L677.0,371.3 L676.7,372.9 L676.8,376.1 L678.5,379.2 L678.3,379.5 L677.4,382.8 L677.4,383.9 L678.3,386.8 L678.0,390.3 L678.3,391.0 L678.4,386.9 L678.6,389.3 L677.7,384.3 L678.9,381.6 L679.4,378.6 L678.5,377.0 L679.0,374.8 L678.9,375.1 L679.2,367.5 L680.0,370.3 L680.1,364.5 L679.7,366.2 L679.2,360.9 L680.1,357.9 L679.8,358.2 L680.4,359.9 L680.0,365.0 L680.9,361.4 L680.0,359.7 L680.1,362.9 L680.0,365.1 L679.8,368.4 L679.7,365.2 L680.8,365.0 L680.6,370.5 L681.0,372.1 L680.8,370.1 L681.8,373.0 L681.2,372.8 L681.1,374.6 L681.8,374.4 L681.8,373.1 L681.3,369.0 L681.5,366.0 L681.8,374.2 L681.9,368.2 L681.3,367.3 L681.9,364.4 L681.7,365.1 L681.9,363.4 L682.1,359.7 L682.8,359.4 L682.8,363.8 L682.4,358.8 L682.8,358.2 L682.7,356.9 L683.5,364.4 L683.0,362.1 L683.4,362.6 L683.5,363.7 L683.5,363.1 L684.0,365.1 L684.2,364.3 L683.5,367.9 L683.9,369.2 L684.2,369.7 L683.3,370.1 L684.2,373.5 L684.5,376.1 L684.4,374.6 L685.1,373.6 L685.0,377.9 L685.4,384.7 L685.1,381.6 L685.6,383.0 L685.0,388.6 L686.1,390.6 L685.5,393.4 L686.0,394.3 L685.7,391.2 L686.5,388.3 L687.0,388.4 L686.5,386.7 L687.5,382.1 L686.9,382.6 L686.6,378.7 L686.8,379.3 L687.4,376.3 L688.1,379.3 L687.5,379.8 L689.2,383.1 L689.0,384.5 L688.9,381.6 L689.9,382.9 L690.7,378.6 L690.6,377.9 L691.0,379.6 L690.6,381.5 L690.7,384.6 L691.0,383.6 L691.9,390.5 L692.1,394.1 L691.9,395.3 L692.2,394.3 L692.5,395.6 L692.3,399.2 L692.6,396.4 L692.5,393.8 L692.6,394.6 L693.0,389.9 L692.9,390.3 L692.4,385.1 L693.7,382.7 L693.4,382.8 L693.8,384.9 L693.9,388.9 L693.8,390.1 L694.4,389.0 L694.6,393.6 L694.5,394.3 L694.4,401.3 L695.5,400.5 L695.1,402.5 L695.6,403.8 L696.2,402.5 L696.9,406.8 L696.7,409.1 L696.8,406.8 L697.1,405.4 L698.2,401.7 L697.8,401.9 L698.4,399.5 L698.3,396.0 L698.6,398.8 L699.0,399.9 L699.2,402.5 L699.2,402.6 L699.1,406.1 L700.1,407.2 L700.0,409.1 L700.1,411.3 L700.2,412.9 L700.4,416.4 L700.2,414.2 L701.0,419.2 L701.1,420.6 L700.8,417.7 L701.2,416.0 L701.8,413.0 L702.2,410.7 L702.1,408.5 L702.5,407.5 L703.5,405.2 L703.6,406.0 L703.5,400.4 L704.1,401.0 L704.1,397.6 L704.6,396.7 L705.5,399.7 L705.7,402.5 L705.7,401.6 L706.1,402.1 L706.4,400.7 L707.5,394.9 L706.7,392.3 L707.1,393.6 L707.4,389.4 L707.2,392.1 L708.5,396.1 L708.7,395.8 L708.5,396.5 L709.0,399.2 L709.6,395.1 L710.2,397.9 L710.6,395.8 L710.7,392.7 L710.5,389.3 L711.4,389.7 L711.5,388.3 L712.2,383.4 L712.3,382.8 L712.0,384.0 L712.7,385.9 L713.3,387.2 L713.9,391.0 L715.0,390.3 L714.0,389.3 L714.2,386.2 L714.1,382.9 L713.8,380.0 L714.3,380.7 L714.4,376.6 L714.3,373.9 L715.3,370.5 L714.2,370.4 L714.6,368.8 L715.5,365.4 L715.2,361.2 L715.7,359.8 L715.6,358.2 L716.3,361.6 L716.7,361.2 L716.7,359.1 L716.4,362.0 L716.2,363.4 L716.4,362.8 L716.4,370.2 L716.5,366.9 L716.5,369.6 L716.8,369.1 L717.2,373.0 L716.6,369.1 L717.4,372.4 L717.0,375.0 L717.2,374.6 L717.6,376.3 L718.7,374.4 L718.6,373.2 L718.9,368.1 L718.4,368.7 L718.9,362.9 L719.7,367.7 L719.8,365.2 L720.1,366.0 L719.2,360.7 L719.2,361.4 L719.4,366.4 L719.7,360.4 L719.8,363.8 L720.3,362.7 L719.2,358.6 L719.8,357.2 L720.1,363.0 L720.5,358.2 L720.8,356.9 L720.3,360.1 L721.2,363.6 L720.6,362.4 L720.2,360.7 L721.4,364.3 L721.3,362.3 L720.9,372.3 L721.8,362.4 L721.4,366.0 L721.7,369.1 L722.1,370.8 L722.0,372.1 L722.7,365.8 L722.2,371.3 L722.8,370.5 L722.0,375.5 L723.1,377.1 L723.0,377.2 L722.7,379.6 L723.9,381.6 L723.5,384.5 L723.6,383.4 L723.8,380.0 L724.0,378.4 L724.4,373.0 L723.1,372.2 L723.8,372.9 L724.4,368.9 L724.8,365.7 L724.6,364.2 L724.7,360.5 L725.0,357.7 L725.1,358.2 L725.6,362.6 L724.7,361.3 L725.8,363.8 L724.6,366.6 L725.5,363.2 L725.3,366.5 L726.8,364.3 L725.1,368.2 L726.7,367.1 L726.4,366.7 L725.7,369.3 L726.9,368.7 L726.2,373.6 L726.3,373.8 L726.7,373.0 L726.8,372.4 L727.1,368.3 L725.9,369.2 L726.8,367.3 L726.9,366.3 L726.3,365.6 L727.5,368.0 L727.5,365.7 L727.6,364.3 L727.2,360.8 L728.4,362.3 L728.8,361.8 L728.1,356.9 L728.8,357.6 L728.4,358.2 L728.3,363.7 L728.4,362.5 L728.6,359.3 L729.4,360.8 L729.3,365.5 L727.8,366.2 L729.0,368.4 L729.0,362.7 L729.8,371.2 L729.5,368.1 L729.1,372.2 L729.5,372.2 L729.6,374.8 L728.9,374.5 L729.5,376.3 L730.1,377.2 L729.6,373.0 L729.0,374.0 L730.9,372.6 L729.6,370.9 L730.0,373.5 L729.9,368.3 L729.4,367.0 L729.6,362.7 L730.3,366.2 L729.5,365.5 L731.1,360.3 L729.7,358.6 L730.5,357.5 L730.7,358.2 L731.4,360.2 L731.6,365.2 L730.8,365.6 L730.5,365.3 L731.8,371.2 L731.0,370.7 L731.7,373.6 L731.1,374.8 L731.4,377.0 L732.0,379.9 L731.7,381.4 L732.0,382.8 L732.6,383.1 L732.8,380.6 L732.9,377.5 L732.1,372.7 L733.4,370.8 L733.5,372.2 L733.6,368.1 L734.5,370.5 L733.1,371.8 L733.8,372.2 L734.4,377.9 L734.5,378.7 L734.0,381.1 L734.7,382.8 L734.0,387.1 L734.7,386.2 L734.3,393.3 L735.1,390.1 L735.0,394.3 L734.9,397.0 L735.6,398.1 L735.5,397.3 L736.1,402.9 L735.9,405.7 L736.1,405.8 L736.9,405.7 L736.2,411.2 L737.1,413.8 L735.8,414.0 L736.6,415.6 L737.1,417.2 L737.3,420.6 L737.5,421.1 L736.9,427.9 L737.3,428.7 L737.5,430.0 L737.3,433.3 L737.4,434.6 L737.8,436.0 L737.2,439.5 L738.5,437.8 L738.7,442.7 L738.2,442.6 L738.9,447.3 L738.2,448.5 L738.1,450.5 L738.3,453.7 L738.8,453.5 L738.1,453.7 L738.4,460.9 L738.9,460.3 L739.0,464.6 L738.9,464.9 L738.7,461.3 L739.0,462.3 L739.6,457.6 L740.2,458.3 L739.1,452.7 L739.6,451.2 L740.0,449.4 L740.1,443.8 L739.6,444.9 L739.9,444.7 L740.6,440.1 L739.8,440.5 L739.6,437.8 L740.2,435.4 L740.3,431.4 L740.6,431.7 L740.2,427.8 L741.6,424.3 L740.8,425.4 L741.5,424.6 L741.5,420.6 L743.5,420.6 L743.4,422.1 L743.9,426.6 L744.1,429.5 L743.8,428.2 L744.4,430.2 L744.7,433.8 L744.1,436.2 L744.3,437.3 L744.3,440.5 L745.0,441.9 L744.7,443.1 L745.0,445.2 L745.0,450.7 L745.2,450.5 L745.1,450.4 L745.6,456.0 L746.3,457.3 L745.5,460.8 L745.0,463.2 L745.2,463.2 L746.4,465.9 L746.4,467.0 L746.4,468.3 L745.5,469.4 L745.9,475.7 L746.0,476.6 L746.0,478.8 L746.0,479.1 L746.2,482.8 L745.9,480.3 L747.1,478.1 L746.2,472.2 L746.5,471.6 L746.2,469.5 L746.6,466.6 L747.3,463.8 L746.1,461.5 L747.1,456.1 L746.6,455.3 L746.8,451.1 L746.7,450.3 L747.4,447.2 L747.4,446.3 L747.2,442.4 L746.7,444.3 L748.1,448.0 L748.1,451.0 L747.8,451.6 L748.3,453.3 L748.8,455.1 L747.9,459.0 L747.4,459.9 L748.1,461.0 L748.0,468.1 L748.5,467.9 L748.6,468.7 L749.0,470.3 L749.3,469.6 L749.2,477.7 L749.3,476.7 L749.1,479.8 L749.7,481.0 L749.8,482.2 L749.8,484.8 L750.3,487.3 L749.9,487.3 L750.8,490.2 L749.8,493.3 L751.5,492.9 L750.3,497.5 L751.1,497.6 L751.2,501.0 L752.0,506.5 L751.2,506.9 L751.0,513.7 L751.6,516.4 L752.1,517.3 L751.2,521.2 L751.7,521.3 L752.3,527.7 L752.4,526.0 L752.5,534.3 L752.0,537.8 L752.2,540.5 L752.0,542.1 L751.9,546.5 L752.2,549.5 L751.7,545.2 L752.7,546.3 L752.1,543.6 L752.6,542.8 L753.5,536.2 L754.0,535.1 L752.9,536.2 L753.0,529.7 L754.0,533.7 L752.8,529.7 L753.5,526.7 L753.8,525.3 L753.8,528.1 L753.3,530.1 L754.7,530.7 L754.6,531.5 L754.5,539.5 L754.9,535.9 L754.6,537.3 L755.0,541.6 L754.6,544.4 L754.8,544.1 L755.2,543.0 L754.5,537.4 L754.9,539.8 L755.1,534.5 L754.6,531.1 L755.3,529.5 L755.2,529.1 L755.1,523.1 L755.8,523.3 L755.6,522.4 L755.9,519.2 L756.1,518.0 L756.2,517.8 L756.6,513.4 L756.1,513.0 L756.6,508.4 L757.4,503.8 L757.0,506.7 L757.7,508.3 L757.3,501.0 L758.1,502.1 L757.0,498.4 L757.9,497.3 L757.9,491.1 L758.4,492.1 L757.9,489.2 L758.0,488.0 L758.8,484.7 L758.7,480.6 L758.7,480.8 L758.5,479.8 L759.0,482.9 L759.2,488.0 L759.4,490.3 L759.8,490.6 L759.8,492.5 L759.9,494.9 L759.7,493.3 L759.6,490.2 L759.4,484.9 L761.0,481.2 L760.9,479.3 L760.0,473.3 L760.9,473.0 L759.9,470.4 L760.7,466.7 L761.0,462.8 L760.2,459.0 L760.4,454.5 L761.1,450.9 L760.9,451.8 L761.3,446.5 L761.2,447.3 L762.0,447.8 L762.2,451.7 L762.7,454.5 L763.0,451.0 L763.2,448.6 L763.4,447.4 L763.4,445.1 L763.3,445.1 L763.6,444.9 L763.9,439.0 L763.5,437.1 L764.0,436.4 L763.3,437.0 L764.7,431.9 L764.3,430.3 L764.6,428.0 L764.1,428.6 L765.2,424.3 L764.2,421.3 L765.2,418.6 L766.1,418.5 L764.8,418.2 L766.1,415.8 L765.8,414.6 L766.0,410.1 L766.2,411.3 L766.6,416.6 L766.8,418.8 L766.1,417.3 L766.0,423.1 L766.7,421.7 L766.7,422.8 L768.2,426.3 L767.0,428.2 L767.4,430.3 L767.9,428.4 L767.4,424.8 L767.9,421.3 L768.4,423.0 L768.7,417.9 L767.8,419.1 L767.8,415.0 L768.4,411.6 L767.8,410.5 L768.2,410.1 L768.2,406.3 L768.9,404.3 L768.1,404.6 L768.5,400.9 L769.3,403.0 L769.7,404.8 L769.4,408.1 L769.7,406.4 L769.8,412.3 L769.8,414.0 L770.2,416.8 L770.4,417.3 L769.7,420.2 L770.4,420.6 L769.5,424.8 L771.0,423.1 L771.9,428.3 L770.8,430.4 L770.8,425.5 L771.2,424.5 L771.8,425.2 L771.7,419.0 L771.4,416.2 L771.7,415.9 L772.1,411.9 L771.6,410.6 L771.2,407.8 L771.9,406.9 L772.7,404.1 L771.9,399.5 L772.5,398.4 L772.6,395.7 L772.3,393.5 L771.6,396.3 L771.6,396.7 L772.4,399.4 L772.8,402.9 L773.4,404.0 L772.4,407.1 L773.1,407.2 L773.0,413.1 L773.3,412.3 L773.3,415.9 L773.2,417.2 L773.5,418.9 L773.3,420.2 L773.5,424.3 L774.0,426.3 L772.7,429.2 L773.5,428.3 L774.5,431.8 L774.9,438.2 L774.5,438.5 L774.4,438.6 L774.9,440.1 L775.3,439.3 L775.4,444.8 L774.9,445.3 L775.5,447.9 L775.8,451.0 L775.7,449.4 L776.3,447.3 L776.1,442.9 L776.0,440.2 L776.0,441.9 L776.6,441.3 L776.5,437.7 L777.1,435.6 L776.7,432.1 L776.6,430.1 L777.7,426.9 L776.8,425.2 L776.3,422.2 L777.3,420.4 L776.9,418.2 L777.6,417.4 L777.6,413.9 L777.9,410.8 L777.5,408.6 L777.5,408.2 L778.7,404.0 L777.2,406.0 L777.5,401.6 L778.1,399.2 L777.6,401.9 L778.5,404.5 L778.9,408.5 L778.9,407.3 L778.5,409.4 L777.8,411.6 L777.8,415.5 L779.0,416.4 L778.2,419.1 L779.3,420.1 L779.8,425.0 L779.3,422.7 L779.6,427.0 L779.3,427.3 L779.4,432.1 L779.2,431.2 L779.2,427.4 L779.1,427.7 L779.6,422.5 L780.8,421.4 L779.6,420.2 L780.2,418.7 L780.1,416.1 L779.7,414.4 L780.1,409.7 L780.7,407.8 L780.5,407.5 L781.2,412.6 L781.0,412.4 L780.4,412.7 L780.5,416.8 L781.3,418.5 L781.6,421.3 L781.7,422.2 L783.0,423.9 L782.9,422.1 L783.2,417.3 L784.1,419.1 L783.4,418.3 L784.3,412.7 L785.3,411.5 L783.7,410.7 L784.6,408.3 L785.5,409.4 L785.0,409.4 L785.9,412.1 L784.9,415.5 L785.2,415.6 L785.5,416.2 L785.9,422.2 L786.2,427.6 L785.9,425.7 L786.4,428.7 L787.5,428.8 L787.1,432.1 L786.8,434.7 L787.3,438.2 L787.6,438.6 L787.9,441.6 L788.1,441.1 L787.9,443.6 L788.1,440.8 L787.6,441.9 L788.0,435.5 L788.9,434.2 L789.4,430.4 L788.3,433.2 L788.4,428.9 L789.0,427.5 L789.1,425.5 L788.8,425.2 L788.9,421.1 L789.2,417.9 L789.2,415.7 L789.4,413.2 L789.3,409.5 L788.9,407.5 L789.3,404.9 L788.9,403.4 L789.2,400.8 L789.8,397.5 L790.0,398.1 L789.7,393.2 L789.3,393.7 L789.4,390.9 L790.2,385.7 L791.0,384.0 L790.3,382.7 L790.4,379.5 L790.6,378.9 L791.4,374.0 L791.6,375.5 L792.2,368.6 L791.9,368.1 L792.8,369.5 L792.0,364.8 L791.7,360.9 L792.5,366.5 L791.1,362.9 L792.5,364.1 L793.9,357.1 L792.6,356.9 L793.1,361.9 L793.0,363.4 L793.1,358.8 L792.9,356.9 L793.3,365.2 L793.7,359.8 L794.6,360.3 L794.0,363.8 L793.9,363.7 L794.6,360.5 L794.9,363.4 L794.2,363.2 L794.4,365.2 L794.2,364.4 L794.8,366.3 L794.8,370.3 L795.1,363.3 L794.8,372.7 L795.0,366.7 L795.0,362.9 L795.3,369.7 L795.0,371.3 L795.6,374.5 L795.9,372.7 L797.4,378.5 L796.9,379.5 L797.3,383.4 L797.5,382.7 L797.7,387.0 L798.7,388.1 L798.6,389.4 L798.5,390.0 L798.9,394.2 L798.8,395.4 L800.0,397.5 L798.6,401.8 L799.5,401.8 L799.0,403.8 L799.7,405.8 L800.0,407.5 L800.3,408.6 L799.7,407.7 L800.7,413.6 L800.6,415.1 L801.0,417.3 L801.8,415.6 L801.6,414.8 L802.5,410.7 L802.7,410.3 L802.7,407.5 L803.0,405.4 L803.7,404.5 L804.6,402.5 L805.1,406.5 L805.1,403.5 L805.4,411.2 L804.7,410.5 L805.6,415.0 L804.8,415.7 L805.5,415.4 L805.2,418.7 L805.6,422.2 L806.4,424.9 L806.0,422.9 L806.6,430.2 L807.2,429.6 L807.3,432.1 L807.0,428.2 L808.4,427.9 L808.0,427.4 L808.0,425.2 L807.7,419.7 L809.1,419.8 L808.9,417.3 L809.1,419.9 L809.8,420.7 L808.8,423.3 L809.4,427.5 L809.8,428.0 L810.1,431.0 L810.3,433.3 L810.2,432.7 L810.6,435.4 L810.6,438.0 L811.3,440.1 L811.4,438.8 L812.2,441.9 L813.2,439.5 L812.7,438.7 L813.8,433.9 L813.3,432.7 L814.1,430.3 L813.8,428.8 L813.8,431.2 L813.7,433.3 L814.3,433.4 L815.1,432.7 L814.3,442.4 L814.2,441.2 L815.2,443.8 L814.7,446.8 L815.5,447.7 L815.3,444.6 L816.7,443.1 L815.8,441.0 L816.2,438.4 L816.5,441.1 L815.6,437.4 L816.2,434.5 L816.7,432.7 L815.6,429.6 L816.2,426.7 L816.5,425.0 L816.6,422.2 L816.5,422.5 L817.7,418.3 L818.3,418.1 L818.3,420.8 L818.6,422.4 L818.7,426.2 L818.0,427.1 L818.3,424.8 L818.1,431.6 L819.2,433.9 L819.4,435.4 L819.7,433.8 L820.7,432.1 L821.2,433.5 L821.0,436.8 L821.3,437.5 L821.3,442.2 L821.0,441.8 L821.3,444.6 L822.2,444.2 L822.0,448.5 L821.2,449.6 L823.0,451.5 L821.7,454.5 L822.7,455.0 L822.5,459.4 L822.7,460.5 L822.8,465.3 L822.7,464.9 L822.2,466.7 L823.6,469.8 L822.4,472.2 L823.7,473.5 L823.4,474.3 L824.0,479.3 L822.6,477.0 L823.8,482.2 L823.6,483.7 L823.8,485.3 L824.5,487.3 L824.3,486.6 L824.0,490.2 L824.1,492.0 L824.7,496.5 L825.0,494.3 L825.2,495.0 L825.8,490.6 L826.5,488.3 L826.2,485.8 L826.6,488.2 L826.8,489.9 L827.5,492.2 L827.4,494.4 L827.8,496.6 L828.4,498.6 L828.8,500.1 L829.0,502.1 L829.0,505.1 L829.6,506.7 L829.5,502.1 L830.5,500.8 L830.7,500.0 L830.6,498.3 L831.8,495.7 L831.0,493.5 L831.4,488.8 L831.8,489.9 L831.7,486.9 L831.4,487.2 L831.5,489.5 L832.2,492.6 L832.3,498.1 L831.6,499.4 L832.9,501.6 L833.0,501.9 L833.6,504.2 L832.2,506.6 L833.8,504.6 L833.2,509.4 L834.0,507.1 L833.3,504.6 L834.0,502.4 L833.8,501.1 L834.5,499.5 L834.0,495.1 L834.7,494.4 L834.8,493.5 L834.8,498.7 L835.3,499.9 L835.9,503.0 L836.0,506.5 L835.6,509.1 L836.4,510.4 L836.5,511.6 L836.6,512.1 L837.4,516.6 L837.5,516.0 L838.2,520.1 L838.8,524.7 L839.2,524.5 L838.8,525.1 L838.9,530.2 L839.5,529.1 L838.4,535.6 L839.7,535.2 L839.5,533.8 L839.8,531.5 L840.5,534.4 L841.2,528.7 L841.1,526.6 L841.4,522.9 L842.6,522.6 L842.8,520.6 L842.3,516.3 L842.5,515.9 L841.9,517.4 L842.6,526.1 L842.5,522.7 L842.5,523.6 L842.9,528.3 L843.3,528.5 L843.4,529.0 L843.6,532.8 L843.6,534.6 L844.1,538.2 L844.2,538.4 L843.8,540.1 L844.0,543.8 L844.3,541.8 L844.0,535.5 L845.0,537.0 L845.5,534.0 L845.0,533.0 L845.2,532.4 L845.2,538.4 L845.8,540.3 L845.7,540.9 L845.5,546.1 L845.2,543.1 L845.4,547.7 L845.6,552.0 L846.3,557.6 L846.1,553.9 L846.6,560.6 L846.9,558.9 L847.5,562.1 L846.9,564.2 L846.8,567.4 L847.1,570.4 L848.3,571.4 L848.3,573.8 L848.4,572.4 L849.2,570.2 L848.7,568.8 L847.9,565.7 L848.5,563.3 L848.5,562.1 L848.4,559.5 L848.6,558.0 L849.2,554.4 L849.1,551.8 L849.9,551.9 L848.8,545.2 L849.3,545.9 L849.8,544.8 L849.6,540.9 L850.7,539.2 L849.3,537.0 L849.3,532.7 L849.9,535.1 L850.4,534.0 L850.6,529.4 L850.4,526.6 L851.2,526.2 L850.9,521.8 L851.6,520.9 L851.9,520.1 L851.5,517.6 L853.0,514.7 L852.0,517.0 L852.5,512.1 L852.9,508.0 L853.5,507.1 L852.8,505.8 L853.0,498.8 L853.2,500.8 L853.1,500.0 L853.9,497.9 L853.7,491.6 L854.3,492.8 L854.1,490.4 L854.2,487.4 L854.0,485.8 L854.7,483.7 L854.7,486.9 L854.8,488.8 L855.2,490.8 L855.5,493.7 L855.4,495.9 L855.5,496.5 L855.7,496.7 L856.2,502.5 L856.2,501.6 L856.2,505.1 L855.7,508.4 L856.6,510.0 L856.7,512.7 L855.9,510.9 L856.7,519.0 L857.6,520.0 L856.7,520.3 L857.3,524.5 L857.7,525.3 L858.1,528.1 L857.1,526.5 L857.9,530.9 L858.1,533.3 L858.3,536.4 L859.4,537.0 L859.3,541.6 L858.6,543.3 L859.2,543.6 L859.4,545.9 L859.2,542.0 L859.2,541.9 L860.1,540.3 L859.9,536.9 L860.5,536.1 L859.9,533.6 L861.5,528.3 L860.6,527.7 L860.6,523.7 L861.1,524.4 L861.7,521.1 L861.0,516.0 L861.6,517.3 L861.9,514.6 L862.5,511.2 L862.6,511.6 L863.0,511.3 L863.8,506.5 L863.0,505.9 L863.5,502.1 L864.6,500.8 L864.4,498.7 L864.9,496.2 L865.0,496.0 L866.1,494.4 L866.6,495.8 L865.6,500.5 L866.5,502.0 L867.1,505.0 L867.2,508.3 L866.9,506.7 L867.7,507.2 L867.6,511.6 L868.1,514.6 L867.3,516.4 L868.1,517.4 L868.7,520.4 L868.7,524.5 L868.3,521.2 L868.6,523.2 L869.1,528.7 L869.3,524.5 L869.8,523.8 L869.2,523.5 L869.5,521.0 L870.1,518.0 L869.6,513.2 L869.4,515.1 L869.9,510.7 L869.3,507.5 L869.5,504.7 L870.2,505.3 L869.6,502.4 L870.3,499.8 L870.0,498.3 L870.4,494.4 L871.3,493.5 L870.5,493.0 L870.5,486.2 L871.7,487.3 L871.3,484.2 L871.9,481.5 L873.0,481.7 L872.6,477.8 L873.0,476.1 L873.4,480.0 L873.2,482.3 L873.4,482.7 L873.6,483.3 L874.2,485.8 L874.2,487.8 L873.8,489.1 L874.1,494.6 L874.7,494.4 L875.4,499.4 L874.9,495.1 L875.5,500.2 L875.4,502.7 L875.9,507.1 L876.2,507.3 L876.4,510.3 L877.8,509.1 L877.7,511.6 L877.6,513.3 L878.8,515.6 L878.4,517.8 L879.5,521.2 L879.4,522.3 L879.7,523.6 L881.4,524.9 L881.4,526.8 L881.1,528.7 L882.6,529.8 L882.9,527.2 L882.8,521.9 L882.7,522.8 L882.3,519.7 L883.0,515.6 L883.0,514.6 L882.9,513.0 L884.0,509.8 L883.0,506.8 L882.8,505.7 L883.8,502.3 L883.5,503.0 L883.9,504.2 L883.3,498.7 L883.7,494.4 L884.5,492.7 L884.6,486.9 L883.4,482.8 L883.6,480.6 L883.6,478.2 L883.3,473.9 L884.7,470.3 L884.4,466.5 L883.9,465.2 L884.5,458.1 L884.4,457.1 L885.1,451.7 L884.5,447.9 L885.0,446.3 L884.8,442.9 L884.5,444.8 L884.6,451.2 L885.0,451.9 L885.2,452.4 L885.4,455.4 L885.4,454.3 L885.1,461.0 L886.6,462.9 L886.0,469.0 L885.7,469.0 L885.7,473.4 L886.3,472.5 L885.8,474.8 L885.5,481.2 L886.3,481.5 L886.5,479.3 L885.9,477.6 L886.5,474.7 L887.2,476.0 L887.2,469.6 L886.9,469.7 L886.9,466.1 L886.9,461.9 L887.9,463.7 L887.2,463.0 L887.5,457.9 L887.0,456.7 L888.0,453.2 L889.1,451.5 L888.6,450.7 L889.1,445.6 L890.2,445.7 L890.9,441.5 L890.0,441.0 L890.6,438.6 L890.7,441.3 L890.9,444.2 L891.4,448.5 L891.3,446.2 L890.6,450.5 L890.8,450.3 L891.5,449.7 L891.8,455.4 L891.4,457.0 L891.9,461.2 L891.1,462.7 L892.0,467.8 L892.4,468.6 L891.8,468.6 L892.0,468.3 L892.2,464.2 L892.3,458.5 L892.2,456.8 L892.4,454.1 L893.3,452.4 L892.4,450.9 L892.2,446.6 L892.2,445.4 L892.0,442.2 L892.3,441.5 L892.7,436.4 L892.5,433.9 L892.2,431.8 L892.7,430.0 L892.4,426.9 L892.9,422.5 L892.1,421.3 L892.9,418.3 L893.0,416.9 L893.1,413.9 L892.5,409.9 L892.7,408.9 L893.2,405.2 L893.4,403.9 L892.8,398.6 L892.3,397.8 L893.2,392.1 L892.6,390.4 L893.0,388.6 L893.4,391.9 L893.1,394.2 L893.2,394.3 L892.6,397.3 L894.0,397.8 L893.8,399.7 L894.1,403.2 L893.5,404.3 L893.9,411.0 L894.3,409.1 L893.7,413.9 L894.5,413.5 L895.7,418.4 L894.5,419.1 L894.8,418.4 L895.4,421.0 L895.4,423.9 L895.5,420.8 L896.4,422.4 L895.6,415.2 L896.8,415.7 L897.2,413.8 L896.6,412.4 L897.3,410.2 L896.6,405.6 L897.1,405.8 L896.7,398.5 L897.2,399.0 L897.8,395.0 L897.7,393.5 L897.2,391.1 L896.7,387.3 L897.6,386.4 L897.2,383.7 L897.2,378.0 L897.5,376.3 L897.1,375.6 L897.6,371.3 L898.0,372.6 L898.8,376.9 L897.6,378.3 L897.7,377.9 L898.3,381.7 L898.0,383.6 L898.3,385.4 L898.5,388.7 L898.1,388.6 L898.6,394.2 L898.8,393.7 L898.9,396.0 L898.8,395.6 L899.0,391.9 L898.7,390.4 L899.7,387.6 L899.6,386.9 L900.1,383.3 L900.1,381.8 L899.1,376.6 L899.5,377.5 L899.3,373.4 L899.3,375.1 L899.9,369.7 L899.4,369.2 L901.1,367.9 L899.9,372.8 L901.0,364.7 L899.6,364.3 L900.0,366.2 L901.0,361.6 L900.1,362.4 L900.6,363.7 L900.8,365.0 L901.3,365.9 L901.4,365.7 L901.3,360.6 L900.4,359.8 L901.2,359.0 L901.6,356.9 L901.1,356.9 L901.5,357.0 L901.8,358.1 L901.6,360.6 L900.9,359.4 L901.4,362.1 L902.3,361.7 L902.5,365.0 L901.7,366.4 L903.1,365.0 L902.1,364.9 L902.5,365.3 L902.8,364.8 L903.4,363.0 L902.6,363.6 L904.1,362.1 L903.7,361.3 L904.0,363.1 L903.2,361.7 L903.3,360.3 L904.0,368.1 L904.6,360.3 L904.1,362.3 L904.5,361.8 L904.5,359.8 L905.3,363.1 L904.7,359.9 L905.4,360.6 L905.3,362.5 L904.8,364.2 L905.8,362.6 L905.7,364.7 L905.3,362.5 L905.4,361.7 L905.0,363.8 L905.4,366.9 L906.1,365.3 L905.2,364.0 L906.1,365.6 L906.4,367.2 L906.8,364.1 L906.0,366.1 L905.8,363.5 L907.3,362.6 L907.1,360.9 L906.8,358.9 L907.8,364.1 L907.5,362.4 L906.2,365.1 L908.2,356.9 L907.7,366.0 L907.7,359.4 L907.4,358.8 L907.8,358.2 L907.9,358.6 L908.3,360.8 L908.4,362.1 L908.8,357.5 L908.4,356.9 L908.2,361.7 L908.1,366.1 L908.4,358.8 L909.1,363.1 L909.2,362.9 L908.7,361.6 L908.5,363.8 L909.0,364.4 L908.9,365.9 L909.4,364.8 L909.2,365.9 L909.1,368.4 L909.1,370.8 L910.0,374.4 L909.7,375.7 L909.5,376.5 L909.6,379.8 L910.1,380.5 L910.0,384.4 L910.2,385.4 L910.1,387.8 L910.4,391.0 L910.8,393.5 L910.3,396.5 L910.2,399.4 L911.3,399.4 L910.9,405.5 L910.8,403.4 L911.0,404.3 L910.8,407.7 L910.9,412.4 L911.7,415.3 L911.4,414.8 L911.2,413.7 L910.7,409.8 L911.5,408.9 L911.4,406.9 L911.1,404.9 L912.0,398.6 L910.5,401.6 L911.8,399.8 L911.3,395.4 L912.4,391.9 L912.1,390.2 L913.1,389.0 L911.7,388.5 L911.8,384.2 L912.4,382.8 L912.2,378.6 L912.6,380.4 L912.6,377.7 L912.7,374.0 L913.6,372.5 L913.0,374.4 L912.1,369.8 L914.0,366.2 L913.4,362.7 L913.0,364.9 L913.0,359.7 L913.3,358.2 L913.7,360.2 L914.5,362.0 L915.5,358.2 L914.5,357.5 L915.1,358.2 L914.9,358.0 L915.4,357.9 L915.0,361.6 L915.5,356.9 L916.2,359.3 L916.9,358.5 L916.3,359.5 L917.1,361.3 L916.8,361.5 L916.9,362.7 L917.1,361.2 L917.0,363.6 L916.5,363.1 L918.0,362.4 L917.6,367.0 L918.5,359.8 L919.0,364.4 L918.4,364.3 L918.7,364.3 L917.8,368.5 L918.4,366.4 L920.0,368.9 L918.6,365.5 L919.3,366.3 L919.4,362.3 L919.5,365.8 L920.7,367.3 L920.9,364.8 L921.9,364.6 L922.0,363.2 L922.0,362.4 L922.3,366.8 L922.9,365.6 L923.3,365.0 L923.8,368.0 L923.2,365.4 L924.2,360.9 L922.7,367.5 L923.8,365.0 L924.1,364.2 L924.1,361.9 L924.8,361.8 L924.2,360.8 L924.8,362.7 L924.8,361.7 L925.3,363.9 L925.0,359.8 L925.2,360.1 L924.7,360.9 L925.5,357.7 L925.9,359.2 L926.7,364.7 L926.6,358.2 L927.6,360.3 L926.6,360.4 L927.1,364.6 L927.4,364.6 L926.6,362.9 L927.0,363.3 L926.6,368.0 L926.5,365.8 L927.5,372.3 L926.7,369.6 L927.0,368.1 L926.8,371.4 L927.9,372.1 L927.5,373.5 L927.5,374.6 L927.6,373.3 L927.6,378.2 L928.0,378.1 L928.0,380.6 L928.4,381.6 L928.2,387.3 L928.8,387.8 L928.5,386.2 L929.8,384.6 L930.4,381.0 L930.4,379.5 L930.7,376.0 L930.9,377.7 L931.7,371.2 L931.3,371.9 L930.9,364.8 L932.0,366.4 L932.7,362.7 L931.8,365.9 L932.9,367.2 L932.5,362.5 L932.6,360.2 L931.9,367.0 L932.3,362.7 L932.7,361.9 L933.1,362.2 L933.3,362.2 L933.4,362.9 L933.1,358.2 L932.7,358.4 L933.2,363.7 L933.2,358.2 L932.5,358.7 L934.0,358.3 L933.6,358.7 L933.9,363.2 L934.3,359.8 L934.3,359.7 L934.9,360.7 L934.5,363.4 L934.6,361.9 L934.6,367.0 L934.2,365.5 L935.3,365.5 L935.2,368.2 L935.3,367.5 L936.1,369.2 L935.0,368.1 L935.4,369.6 L935.9,370.4 L935.4,370.1 L935.7,370.5 L935.2,370.6 L935.5,369.9 L936.0,369.7 L935.5,367.7 L935.8,367.6 L936.5,366.6 L935.7,368.3 L937.0,367.7 L936.6,367.5 L937.3,364.3 L936.0,363.2 L936.9,363.5 L936.3,360.5 L937.0,366.3 L937.0,361.5 L936.9,363.1 L937.1,356.9 L937.0,363.6 L937.4,356.9 L937.6,358.8 L937.5,356.9 L938.2,357.3 L938.3,358.6 L937.1,357.7 L938.1,357.4 L938.1,356.5 Z" fill="#ffa500" fill-opacity="0.3" stroke="none"/>
<line class="grid" x1="196.5" y1="756.5" x2="196.5" y2="356.5"/>
<line class="grid" x1="304.5" y1="756.5" x2="304.5" y2="356.5"/>
<line class="grid" x1="412.5" y1="756.5" x2="412.5" y2="356.5"/>
<line class="grid" x1="520.5" y1="756.5" x2="520.5" y2="356.5"/>
<line class="grid" x1="628.5" y1="756.5" x2="628.5" y2="356.5"/>
<line class="grid" x1="736.5" y1="756.5" x2="736.5" y2="356.5"/>
<line class="grid" x1="843.5" y1="756.5" x2="843.5" y2="356.5"/>
<line class="grid" x1="951.5" y1="756.5" x2="951.5" y2="356.5"/>
<line class="grid" x1="90.5" y1="423.5" x2="979.5" y2="423.5"/>
<line class="grid" x1="90.5" y1="490.5" x2="979.5" y2="490.5"/>
<line class="grid" x1="90.5" y1="556.5" x2="979.5" y2="556.5"/>
<line class="grid" x1="90.5" y1="623.5" x2="979.5" y2="623.5"/>
<line class="grid" x1="90.5" y1="690.5" x2="979.5" y2="690.5"/>
<path clip-path="url(#c2)" d="M130.7,357.4 L131.0,357.2 L130.7,357.7 L130.8,356.9 L131.2,362.0 L131.2,362.3 L131.2,361.1 L131.6,356.9 L131.5,362.2 L130.5,356.9 L131.2,359.5 L131.4,362.9 L131.2,363.8 L131.6,363.1 L131.9,363.4 L132.6,360.8 L132.5,363.3 L131.8,359.9 L132.2,360.2 L132.5,362.3 L132.1,359.1 L133.2,358.5 L132.9,357.3 L132.3,360.1 L133.7,358.7 L133.2,358.2 L133.1,356.9 L133.0,359.0 L133.4,361.1 L133.9,356.9 L134.1,362.7 L133.9,365.2 L133.2,362.3 L133.6,363.9 L133.4,362.1 L133.8,361.5 L133.2,367.0 L134.3,361.6 L134.6,368.5 L133.3,361.7 L134.5,366.4 L134.3,369.4 L135.1,368.3 L134.8,374.7 L135.1,375.5 L135.2,379.9 L135.3,380.4 L135.7,379.2 L135.4,385.4 L135.3,386.1 L135.1,380.8 L134.8,383.1 L136.2,379.2 L136.6,375.2 L135.9,376.0 L136.4,373.5 L136.7,371.0 L136.2,367.1 L136.5,366.4 L136.6,368.1 L137.1,363.4 L136.6,368.0 L136.9,361.2 L136.9,363.3 L136.7,366.2 L136.7,365.3 L137.6,360.3 L137.8,364.4 L137.6,361.8 L137.9,360.8 L137.9,359.4 L137.9,360.8 L138.2,360.7 L138.1,358.2 L138.4,363.9 L138.2,358.0 L138.9,359.5 L138.7,359.1 L137.5,365.2 L138.9,357.9 L139.0,362.3 L139.3,360.6 L138.9,362.8 L139.4,367.9 L139.3,361.8 L139.4,363.0 L139.4,357.9 L139.2,366.6 L139.8,364.8 L140.3,364.2 L140.6,365.9 L139.9,359.8 L140.4,362.4 L139.0,365.1 L139.6,364.7 L139.7,363.7 L141.0,361.9 L140.6,360.7 L140.7,362.7 L141.4,360.0 L140.8,359.8 L140.7,364.7 L140.4,370.1 L140.9,368.2 L141.4,368.7 L141.4,371.0 L140.5,370.2 L140.8,375.8 L140.6,375.3 L141.7,381.1 L141.4,381.2 L141.1,381.6 L141.2,377.4 L142.6,376.7 L142.8,372.1 L142.2,373.8 L142.4,369.7 L143.2,367.5 L142.4,373.8 L143.0,376.7 L142.5,380.6 L143.8,382.1 L143.2,384.7 L143.4,384.5 L144.0,385.4 L143.7,388.9 L143.7,393.1 L143.8,389.2 L144.5,392.0 L144.0,397.6 L144.4,399.2 L144.8,401.5 L145.1,403.9 L145.1,406.0 L145.4,410.8 L145.2,409.6 L144.4,410.0 L145.4,412.2 L145.0,415.6 L145.0,419.6 L145.2,421.3 L145.2,427.4 L145.7,427.6 L144.8,428.8 L145.9,430.5 L145.5,433.7 L145.5,429.0 L146.3,431.1 L146.6,427.4 L145.9,425.5 L146.4,420.6 L146.7,422.5 L147.2,418.9 L147.1,415.5 L147.7,412.5 L148.2,411.2 L148.4,407.3 L147.6,408.1 L148.7,408.4 L148.6,401.7 L149.3,403.3 L149.2,405.7 L149.9,408.4 L149.9,410.2 L150.1,413.2 L149.0,413.8 L150.7,416.4 L150.1,416.5 L150.4,418.9 L149.9,420.0 L152.1,415.6 L151.6,411.3 L151.6,410.7 L151.9,415.4 L152.8,414.9 L152.8,414.2 L153.2,417.3 L153.7,420.0 L153.4,421.6 L153.5,422.2 L153.9,427.5 L153.7,426.9 L154.2,430.4 L154.9,436.6 L153.3,435.2 L154.8,437.1 L155.0,440.6 L155.1,439.7 L155.5,438.6 L155.2,443.6 L155.2,442.5 L156.7,442.4 L155.9,436.4 L156.5,437.0 L156.8,439.4 L156.6,440.3 L157.7,446.3 L156.9,442.9 L157.8,446.8 L158.5,451.5 L158.7,453.7 L158.7,451.3 L158.5,451.3 L159.1,456.7 L159.4,458.8 L159.2,459.9 L159.6,463.9 L159.6,466.4 L160.0,467.0 L159.3,469.8 L159.8,470.9 L160.0,473.9 L160.1,476.2 L160.1,478.4 L159.7,476.0 L160.8,474.7 L160.4,472.5 L160.2,470.3 L160.8,464.4 L161.2,463.8 L159.9,461.3 L161.9,459.2 L160.7,458.1 L161.7,455.3 L161.6,455.1 L161.7,452.1 L162.3,456.5 L162.4,456.1 L162.8,460.8 L162.1,461.8 L163.2,461.9 L163.1,464.2 L163.8,465.8 L163.9,469.2 L164.8,469.9 L163.7,474.3 L165.1,474.5 L164.5,475.8 L164.3,479.9 L164.5,480.4 L164.8,480.7 L165.4,485.3 L165.1,488.1 L165.6,490.4 L165.6,491.5 L166.1,492.9 L165.7,493.8 L166.2,497.6 L167.2,496.6 L166.6,494.4 L166.5,491.5 L167.7,488.9 L167.5,488.7 L167.0,485.3 L167.9,486.4 L167.4,483.0 L167.0,478.8 L168.4,478.1 L168.0,471.6 L167.3,473.5 L168.2,470.3 L167.9,465.4 L168.0,465.2 L169.0,464.3 L169.4,463.2 L169.8,462.6 L169.3,456.1 L169.3,454.4 L170.0,454.0 L170.2,452.1 L170.5,453.9 L172.2,454.1 L172.5,454.2 L172.6,457.8 L172.7,460.1 L173.4,463.4 L173.2,464.1 L173.8,466.3 L172.6,468.2 L173.9,469.1 L174.1,470.4 L173.4,475.2 L174.0,476.7 L174.4,480.1 L173.8,481.4 L174.3,483.4 L174.5,487.0 L173.8,486.8 L174.1,489.6 L174.5,490.6 L174.6,494.5 L174.8,491.7 L174.6,491.3 L174.8,492.2 L175.1,488.2 L174.1,486.2 L175.4,481.2 L176.4,481.3 L176.0,478.9 L176.0,477.6 L175.6,475.1 L175.3,473.1 L175.9,470.3 L175.7,470.3 L177.3,467.0 L176.6,464.4 L176.8,464.8 L177.2,459.8 L177.3,459.2 L177.9,462.3 L178.6,462.3 L178.0,468.4 L178.0,468.4 L178.1,472.4 L178.7,472.3 L178.7,475.4 L179.4,475.2 L179.2,480.5 L179.8,479.3 L179.7,482.3 L180.3,486.9 L181.0,485.6 L180.5,488.5 L180.3,490.5 L180.3,491.8 L181.2,492.3 L180.0,499.5 L179.8,497.2 L180.4,503.8 L180.6,504.1 L180.3,506.3 L180.2,508.8 L181.0,511.0 L180.9,514.1 L181.1,514.2 L181.8,517.2 L181.1,521.5 L180.9,521.8 L181.3,524.8 L181.3,525.3 L181.9,529.3 L182.8,531.8 L182.1,531.8 L181.5,539.4 L182.6,536.1 L182.7,539.0 L183.0,537.2 L183.1,534.6 L183.4,533.0 L182.8,527.9 L182.8,528.9 L183.7,525.2 L183.8,523.8 L183.8,524.0 L183.7,521.6 L183.9,518.8 L184.0,514.5 L183.9,515.5 L184.6,512.6 L184.7,509.3 L184.3,511.7 L184.7,506.9 L185.0,507.1 L184.7,504.1 L185.1,500.6 L185.9,495.8 L185.4,496.6 L184.9,496.0 L186.0,493.7 L186.6,491.2 L186.6,486.1 L186.8,488.8 L187.4,484.4 L187.0,484.8 L188.0,486.5 L188.2,493.2 L189.2,492.9 L188.1,493.7 L188.8,497.4 L188.8,498.6 L188.8,495.6 L190.0,496.3 L190.4,494.5 L190.5,494.4 L191.1,497.7 L191.0,500.4 L191.8,502.0 L191.4,506.9 L191.4,508.0 L192.0,508.7 L192.5,510.8 L192.1,515.2 L192.6,514.6 L192.6,514.4 L192.9,517.7 L192.0,519.0 L193.2,522.9 L193.6,524.0 L193.4,526.9 L193.3,528.5 L193.1,531.7 L194.0,531.9 L194.1,536.3 L194.1,537.5 L195.3,539.5 L194.8,541.0 L196.1,541.9 L195.2,544.0 L195.8,547.3 L194.6,547.1 L196.1,552.1 L197.1,554.1 L196.2,555.5 L196.5,558.7 L196.5,559.2 L196.1,559.8 L195.2,554.6 L196.8,554.5 L198.0,552.6 L197.1,549.1 L197.0,546.3 L197.5,545.1 L197.8,546.2 L197.6,549.4 L198.1,551.2 L197.7,554.4 L197.7,556.8 L198.5,556.0 L197.5,560.7 L198.1,563.8 L198.8,561.7 L198.1,566.3 L198.7,564.7 L198.4,562.3 L199.1,557.4 L198.7,557.7 L199.0,556.1 L199.0,554.5 L198.4,551.2 L199.5,549.1 L199.9,546.4 L199.6,547.2 L200.6,542.8 L200.3,540.5 L200.1,541.7 L199.9,538.9 L200.3,535.3 L200.9,533.1 L200.3,534.7 L200.9,527.9 L201.0,525.1 L200.9,524.8 L201.1,523.7 L200.8,521.6 L201.1,520.0 L202.1,516.8 L201.9,513.7 L202.7,512.1 L202.2,510.8 L203.2,509.6 L202.7,506.7 L202.8,506.6 L203.9,500.6 L201.9,504.1 L203.1,498.5 L203.3,498.1 L203.1,494.5 L202.8,496.1 L203.9,498.7 L203.2,498.8 L202.9,502.6 L203.8,504.2 L203.8,507.4 L204.1,507.3 L204.5,510.7 L204.4,508.5 L205.3,506.4 L206.0,506.1 L205.3,500.8 L206.6,495.9 L205.9,496.6 L206.2,495.6 L205.7,498.6 L206.5,500.6 L206.8,499.0 L206.0,506.0 L207.1,507.5 L207.3,509.1 L207.2,512.5 L207.3,514.0 L207.6,514.7 L207.7,517.9 L209.3,518.6 L209.0,520.8 L209.1,523.5 L209.0,523.0 L210.0,527.2 L210.0,529.5 L210.6,530.8 L210.2,532.9 L210.3,530.2 L210.9,530.3 L211.0,526.4 L211.6,524.8 L212.2,526.4 L211.6,529.4 L212.5,531.5 L213.1,531.3 L213.0,534.9 L213.1,532.5 L214.2,532.2 L214.1,527.8 L214.2,526.9 L215.4,527.5 L215.1,530.1 L215.1,531.9 L213.8,538.5 L215.4,536.3 L215.0,538.8 L215.5,544.4 L215.7,543.0 L216.2,542.4 L216.5,544.3 L216.1,548.2 L216.3,553.1 L215.6,550.9 L216.8,557.0 L217.0,555.9 L216.7,559.2 L217.1,558.0 L216.9,551.5 L217.5,554.6 L216.2,552.5 L217.6,549.4 L217.1,551.2 L217.7,544.5 L217.7,544.5 L217.7,542.9 L217.9,539.4 L218.3,537.0 L218.3,539.3 L219.4,538.5 L218.9,543.5 L219.9,545.4 L219.7,547.1 L220.0,543.5 L220.6,543.9 L219.8,540.5 L221.1,539.0 L221.3,543.2 L221.1,543.3 L221.2,545.9 L221.1,546.0 L221.3,548.9 L221.9,550.1 L222.0,552.1 L221.9,554.7 L222.0,560.7 L222.0,559.5 L221.3,563.0 L222.2,564.0 L222.3,566.4 L222.3,569.3 L222.9,568.5 L223.0,566.7 L223.0,562.8 L223.1,560.8 L222.7,558.9 L223.7,557.2 L223.8,558.7 L223.9,559.7 L223.9,564.1 L222.9,568.6 L223.3,567.0 L225.4,570.9 L224.4,567.3 L224.3,574.2 L223.5,576.2 L224.8,578.7 L224.7,579.4 L224.9,581.2 L225.3,584.0 L225.7,585.1 L226.4,586.5 L226.5,580.8 L227.0,582.6 L226.8,578.7 L227.0,579.0 L228.0,577.9 L226.4,572.3 L228.1,573.0 L227.9,571.0 L227.3,566.4 L227.8,565.3 L227.5,564.7 L227.6,558.4 L229.0,563.2 L227.9,556.1 L228.0,555.6 L228.4,555.3 L229.1,549.4 L228.7,548.2 L228.6,547.1 L228.8,545.1 L228.8,547.5 L228.5,545.8 L229.5,548.6 L230.2,552.5 L230.5,555.2 L230.8,556.2 L230.7,552.9 L231.1,548.8 L231.6,550.9 L231.5,547.9 L231.8,546.1 L232.2,545.6 L232.8,543.2 L233.4,540.4 L233.2,538.0 L233.2,539.2 L233.1,540.9 L234.4,546.8 L234.0,546.5 L234.3,550.4 L233.5,552.6 L234.4,551.7 L234.4,557.2 L234.3,555.6 L234.3,558.0 L234.8,561.2 L234.8,565.6 L236.3,565.3 L235.8,569.2 L235.9,569.3 L236.6,566.3 L237.1,567.8 L237.3,563.2 L237.5,563.2 L237.6,560.0 L238.5,557.8 L238.1,552.8 L238.0,553.5 L238.5,551.1 L239.1,552.6 L239.2,558.4 L238.4,557.7 L239.3,562.3 L239.0,561.2 L239.2,563.2 L239.9,565.3 L240.3,563.2 L240.4,561.0 L241.1,557.4 L239.9,555.6 L240.6,554.1 L240.9,550.7 L241.3,550.1 L240.9,552.7 L242.2,554.1 L241.6,557.6 L241.8,558.8 L242.3,560.7 L241.0,562.8 L241.8,565.0 L242.1,568.2 L242.5,569.3 L243.8,571.6 L242.7,571.7 L242.5,573.1 L243.9,577.4 L244.3,576.6 L243.6,580.7 L244.9,581.6 L244.7,584.9 L245.8,588.8 L245.4,590.5 L246.1,591.4 L246.0,586.4 L246.8,586.8 L246.7,581.3 L246.8,580.0 L247.0,577.4 L246.7,574.6 L246.8,572.5 L248.0,573.3 L248.7,567.4 L247.5,568.7 L248.6,565.3 L249.2,566.2 L248.5,564.5 L249.5,560.0 L249.6,557.5 L249.1,556.8 L250.0,553.1 L249.7,549.1 L250.7,549.1 L250.5,546.2 L251.0,545.6 L250.6,543.1 L251.4,540.3 L251.1,540.2 L251.9,536.5 L251.6,534.0 L251.2,534.8 L250.9,532.2 L251.5,528.9 L251.8,532.5 L252.1,530.4 L252.6,533.5 L252.1,535.9 L252.2,539.4 L252.3,541.4 L252.7,543.0 L252.9,542.1 L251.8,539.3 L253.2,538.8 L253.4,532.1 L254.1,533.7 L254.4,529.2 L255.0,528.7 L254.1,526.9 L255.4,527.7 L256.1,528.9 L256.1,526.3 L257.4,526.6 L257.5,522.8 L258.2,523.1 L257.3,517.5 L258.0,515.2 L258.8,512.8 L258.7,512.4 L259.1,509.7 L259.2,512.1 L259.9,514.3 L259.4,517.7 L260.6,515.9 L260.7,520.6 L260.2,520.0 L259.9,524.8 L260.8,526.9 L261.5,528.1 L262.2,532.6 L261.2,531.5 L262.2,534.9 L262.8,537.8 L262.0,539.3 L263.2,542.2 L262.8,543.9 L263.6,545.5 L262.6,546.2 L263.6,549.1 L264.2,551.3 L264.8,552.5 L264.8,554.1 L265.0,551.0 L265.5,549.3 L265.3,550.2 L266.3,548.8 L266.1,544.6 L265.9,544.0 L266.2,539.0 L265.9,536.8 L267.1,535.7 L266.9,533.8 L266.9,530.6 L267.4,526.6 L266.6,526.2 L266.9,523.6 L267.9,524.2 L267.6,520.8 L268.2,516.6 L267.8,518.2 L268.0,512.4 L268.7,511.7 L267.8,510.2 L268.3,509.1 L269.2,506.7 L268.8,506.1 L269.2,501.5 L270.4,499.8 L270.2,500.0 L269.4,497.1 L270.1,493.7 L270.8,491.0 L270.4,489.3 L270.9,488.5 L270.3,488.8 L272.1,493.5 L271.3,494.8 L272.1,492.3 L272.3,498.6 L272.9,502.5 L273.9,504.1 L273.7,504.6 L273.6,508.4 L274.3,510.3 L273.9,508.2 L274.2,510.4 L273.9,515.7 L275.1,513.5 L275.3,519.4 L275.2,518.7 L275.8,526.1 L275.2,524.5 L275.6,526.6 L275.3,528.9 L275.5,532.6 L276.0,530.8 L276.2,534.2 L276.8,537.4 L276.1,540.8 L277.3,541.6 L276.9,542.2 L276.9,545.1 L277.6,548.8 L276.6,549.5 L277.5,548.5 L278.7,552.9 L277.7,554.1 L278.4,550.6 L277.3,551.0 L278.3,546.3 L278.3,544.7 L278.2,544.1 L278.4,541.9 L278.9,539.0 L279.4,536.1 L279.6,534.0 L279.8,535.5 L280.4,530.7 L280.4,528.9 L281.2,526.3 L281.2,522.8 L280.9,522.0 L281.1,523.7 L281.8,518.8 L282.2,519.6 L281.7,517.1 L282.9,514.6 L282.3,510.5 L282.6,512.6 L282.4,506.0 L283.0,505.3 L283.0,502.6 L284.1,504.9 L283.8,506.1 L283.4,511.0 L284.9,512.3 L284.4,512.7 L284.2,512.3 L284.1,514.6 L284.3,518.7 L285.4,519.8 L286.3,518.7 L285.8,513.5 L286.6,511.2 L286.3,511.2 L287.0,510.6 L287.0,508.7 L287.2,506.1 L287.5,503.8 L287.6,500.7 L287.6,497.5 L288.0,501.6 L288.3,494.5 L288.4,494.5 L288.4,494.3 L290.1,496.1 L290.5,498.6 L290.7,497.2 L290.6,493.1 L291.5,494.7 L290.7,489.0 L291.9,488.5 L293.4,488.0 L292.7,490.0 L293.1,493.5 L293.1,491.7 L292.6,488.9 L294.0,485.5 L293.7,483.9 L293.3,480.3 L293.9,481.4 L293.8,477.1 L293.2,477.4 L293.2,475.4 L293.7,471.3 L293.7,466.1 L293.1,466.8 L294.2,465.6 L293.9,464.2 L294.7,465.6 L293.7,466.4 L294.7,472.8 L294.3,473.8 L295.0,475.6 L295.1,477.4 L295.0,480.3 L295.5,480.4 L295.4,480.9 L296.2,486.3 L297.1,486.5 L296.8,482.8 L296.8,481.7 L297.2,479.9 L297.1,477.5 L297.5,476.4 L297.9,474.5 L297.9,472.3 L297.1,470.7 L298.0,467.1 L297.9,467.1 L298.7,462.5 L299.5,461.0 L299.7,458.6 L299.5,457.2 L298.9,457.0 L300.1,463.4 L300.2,464.4 L299.8,466.5 L300.3,469.4 L300.8,471.6 L300.4,469.0 L301.2,474.3 L301.3,474.1 L301.7,469.6 L301.6,467.6 L302.1,466.4 L302.2,466.7 L303.2,465.2 L302.6,460.2 L303.3,465.1 L303.1,464.8 L302.9,466.5 L303.1,468.8 L303.8,473.7 L302.9,472.5 L304.0,475.4 L304.2,473.6 L304.3,470.3 L305.2,470.3 L305.7,464.7 L306.8,466.2 L305.8,464.2 L306.2,464.5 L306.2,460.5 L306.6,458.2 L308.0,455.2 L308.0,454.1 L309.2,453.7 L308.8,449.5 L309.6,446.7 L309.6,446.1 L310.2,441.8 L311.0,443.8 L310.7,440.0 L311.2,436.4 L310.4,434.6 L311.2,431.5 L310.5,434.1 L310.6,428.2 L311.2,431.3 L309.9,424.3 L311.3,421.9 L310.6,423.9 L310.5,417.7 L311.2,413.6 L311.3,412.8 L310.8,412.4 L310.4,407.7 L310.7,408.9 L311.2,407.7 L311.6,402.6 L311.5,402.5 L311.0,405.5 L312.4,408.7 L311.6,408.7 L312.8,409.1 L312.8,406.0 L312.4,406.9 L312.3,401.8 L313.6,400.9 L313.3,396.7 L314.4,398.2 L313.7,396.5 L314.0,393.5 L313.8,393.4 L314.5,396.0 L315.4,398.8 L314.4,401.2 L315.1,402.5 L315.7,407.0 L315.0,406.8 L315.0,405.7 L315.2,412.2 L315.8,410.6 L316.1,415.2 L316.6,417.9 L316.1,418.9 L316.8,419.6 L317.0,421.5 L317.0,425.4 L317.2,427.2 L317.8,427.1 L318.4,423.9 L319.0,423.8 L318.6,420.3 L318.8,416.9 L319.3,415.9 L319.8,419.1 L319.7,412.4 L319.7,412.4 L320.5,409.9 L320.4,410.9 L320.2,414.4 L320.5,418.8 L319.8,420.0 L321.1,420.4 L321.3,422.8 L321.2,425.0 L320.9,423.7 L321.3,428.8 L321.9,427.1 L321.9,433.4 L322.1,433.6 L322.7,437.0 L323.8,441.9 L323.9,440.8 L322.8,440.3 L323.6,444.1 L324.3,446.8 L324.7,443.9 L324.6,447.5 L325.2,440.7 L325.4,438.6 L326.1,436.6 L325.4,437.6 L326.1,433.2 L325.8,431.6 L325.8,426.3 L327.1,427.2 L327.5,429.9 L326.6,431.1 L327.6,432.3 L327.8,432.5 L328.7,437.8 L328.7,438.6 L329.4,436.5 L329.6,433.5 L330.2,432.5 L330.4,430.4 L330.6,428.2 L330.7,426.1 L331.5,427.8 L331.5,422.2 L332.9,424.9 L331.5,428.5 L333.0,429.5 L333.6,433.4 L332.8,433.7 L333.7,434.5 L334.1,431.1 L333.8,431.2 L334.3,427.7 L334.9,426.4 L334.5,423.8 L335.3,422.2 L336.4,422.1 L336.5,417.9 L336.6,416.8 L336.4,414.8 L337.5,412.9 L337.4,409.9 L338.6,410.5 L338.8,417.3 L338.6,419.2 L338.3,417.6 L338.9,418.8 L339.1,422.2 L339.6,420.1 L340.5,414.8 L339.6,419.6 L340.0,414.9 L339.9,412.2 L339.8,409.5 L340.3,407.8 L340.1,406.0 L340.7,403.4 L340.3,402.3 L341.0,399.2 L341.8,401.9 L341.5,404.3 L341.9,404.6 L343.0,408.6 L342.4,409.3 L343.0,411.6 L343.3,410.0 L343.0,405.8 L343.8,404.9 L343.2,400.9 L343.3,401.4 L344.2,398.6 L343.8,396.1 L344.3,394.0 L344.2,392.4 L344.0,391.4 L344.9,387.2 L345.1,385.3 L345.0,389.0 L345.2,390.5 L346.5,392.9 L346.1,393.2 L346.5,394.5 L346.3,400.1 L346.6,398.5 L347.1,404.3 L346.0,405.9 L347.7,405.7 L347.7,406.9 L347.8,414.1 L347.6,413.2 L347.6,412.9 L347.9,407.0 L348.1,406.6 L348.2,405.9 L348.7,403.0 L349.5,400.6 L348.9,399.2 L348.7,396.1 L349.2,394.3 L349.9,398.1 L350.3,395.8 L351.2,399.2 L351.2,396.9 L351.1,396.8 L352.0,393.7 L352.2,389.0 L352.6,388.6 L352.7,385.9 L352.3,381.9 L353.5,383.7 L353.3,380.4 L353.2,382.5 L352.8,386.4 L354.2,385.6 L353.7,390.0 L355.0,388.1 L354.2,393.5 L355.2,395.5 L355.0,397.6 L355.8,395.6 L354.6,403.1 L355.0,405.3 L356.2,408.0 L356.0,412.0 L357.0,410.5 L356.5,411.6 L357.1,414.8 L357.2,412.1 L357.7,408.8 L357.6,409.3 L357.6,409.1 L357.7,406.3 L357.2,403.3 L358.2,400.3 L358.2,397.1 L358.3,395.2 L358.5,390.1 L358.7,390.6 L359.1,389.4 L359.5,385.8 L359.8,386.8 L361.0,382.9 L361.2,383.3 L361.0,381.7 L361.6,377.9 L362.3,379.8 L361.9,381.3 L362.2,384.9 L362.7,386.0 L362.7,388.3 L362.9,392.4 L362.2,394.0 L362.6,392.8 L363.7,397.8 L363.2,399.2 L363.5,395.2 L363.3,393.7 L364.1,392.6 L364.5,391.3 L364.6,387.4 L364.4,388.4 L364.3,385.6 L364.8,382.8 L364.8,379.0 L366.5,377.7 L366.2,375.9 L365.8,374.9 L365.5,373.7 L366.2,372.5 L366.6,365.1 L366.5,366.4 L366.8,367.2 L366.5,369.0 L367.2,366.2 L367.5,362.7 L366.4,361.0 L366.6,364.9 L366.5,363.1 L366.8,363.0 L366.8,363.2 L367.4,363.0 L367.6,361.7 L367.2,361.5 L367.9,356.9 L367.8,357.8 L368.1,359.8 L367.4,361.3 L368.3,358.5 L369.0,358.1 L368.7,360.9 L369.7,359.0 L369.8,360.2 L369.8,362.3 L369.1,363.1 L370.0,358.7 L370.5,362.0 L370.7,362.7 L370.3,359.3 L370.3,361.9 L369.9,362.2 L370.6,360.7 L371.2,356.9 L370.9,358.2 L371.3,359.0 L371.6,356.9 L372.2,358.2 L371.9,363.0 L371.9,356.9 L372.3,357.7 L372.0,360.7 L372.9,360.7 L373.4,360.3 L372.1,363.1 L372.9,366.9 L373.0,363.8 L372.3,362.9 L372.7,370.3 L373.1,365.8 L372.9,371.6 L372.8,366.5 L373.0,371.3 L373.4,371.5 L373.0,373.8 L373.2,367.9 L372.9,370.9 L372.2,370.3 L373.2,368.5 L373.9,366.9 L373.6,362.6 L374.0,364.9 L373.4,361.6 L375.0,358.6 L373.9,361.7 L374.5,357.4 L374.8,359.2 L374.2,359.8 L374.4,361.7 L374.1,361.1 L374.5,358.0 L375.0,356.9 L375.2,358.2 L375.9,359.9 L375.0,356.9 L375.1,362.3 L375.6,367.3 L375.2,368.5 L375.7,371.6 L375.4,369.6 L375.1,372.4 L375.7,376.9 L375.3,378.9 L375.3,380.4 L375.8,382.8 L376.4,381.5 L376.9,381.9 L376.3,375.9 L376.9,373.8 L377.3,376.6 L376.7,366.7 L377.5,369.7 L378.2,368.5 L378.5,373.0 L378.8,374.6 L378.5,376.5 L379.9,371.3 L378.7,372.4 L378.5,366.2 L379.3,364.3 L379.8,368.8 L379.1,367.4 L380.3,365.1 L379.7,361.8 L379.9,364.8 L380.0,362.9 L379.8,364.6 L379.8,360.6 L379.9,358.3 L380.1,359.8 L380.3,359.9 L380.8,365.0 L380.6,361.5 L380.8,364.0 L380.6,364.2 L380.2,364.0 L381.2,367.9 L380.9,368.3 L380.6,368.3 L381.2,364.7 L380.7,369.9 L381.6,368.2 L381.9,367.3 L382.3,373.1 L381.3,373.0 L381.5,374.0 L381.8,376.4 L381.6,379.0 L381.9,383.2 L382.7,382.8 L382.5,384.8 L382.9,387.8 L382.8,390.3 L383.1,389.7 L384.0,393.3 L383.7,393.9 L383.4,397.6 L383.3,398.4 L383.7,401.1 L384.4,405.0 L384.3,404.6 L384.1,409.2 L384.2,408.5 L384.0,411.5 L384.2,413.3 L384.0,415.7 L384.6,419.7 L384.7,419.7 L383.9,424.6 L383.8,426.8 L384.8,427.5 L384.8,431.2 L384.4,430.3 L385.2,431.2 L385.0,435.4 L384.8,437.2 L384.8,440.6 L385.0,441.3 L386.0,446.8 L384.7,446.1 L385.5,449.0 L385.8,451.3 L386.0,452.4 L385.7,455.1 L385.8,460.5 L385.5,462.6 L385.2,468.4 L385.4,471.1 L386.0,473.1 L385.8,479.4 L385.1,484.9 L385.9,487.4 L385.3,492.9 L385.9,496.8 L386.3,501.9 L386.7,504.6 L385.6,507.8 L385.4,511.3 L385.8,515.9 L385.0,513.7 L386.1,511.5 L385.8,511.0 L385.7,509.5 L385.2,505.0 L385.7,501.8 L386.3,503.2 L386.4,497.0 L386.1,497.3 L386.1,494.5 L385.5,491.4 L386.8,490.0 L386.2,490.2 L386.3,484.7 L386.4,483.7 L386.6,483.0 L386.7,478.5 L386.9,476.9 L386.1,474.5 L387.2,473.0 L386.9,469.1 L386.9,470.0 L388.0,465.5 L387.7,465.6 L388.0,460.7 L387.2,457.5 L387.5,457.9 L388.2,461.2 L387.4,460.8 L386.9,464.7 L388.1,467.5 L388.1,468.0 L388.1,472.0 L388.7,473.8 L388.2,474.4 L388.7,476.4 L388.5,478.8 L388.4,481.8 L388.4,486.4 L388.9,488.0 L388.6,488.0 L388.6,487.0 L389.1,483.4 L388.9,478.0 L388.9,475.8 L388.7,475.0 L388.3,467.4 L388.8,466.3 L389.4,464.0 L389.4,463.7 L389.0,458.6 L390.0,455.8 L388.6,454.0 L390.2,450.3 L389.0,447.2 L389.7,442.9 L390.1,444.6 L389.6,447.8 L390.5,447.9 L390.8,449.4 L390.5,453.6 L390.2,453.7 L389.9,458.9 L390.7,460.0 L390.2,465.5 L390.9,462.7 L391.2,467.6 L390.9,468.6 L390.8,471.1 L391.6,469.8 L391.3,476.4 L391.4,477.4 L391.3,480.6 L390.7,484.6 L391.0,485.6 L392.2,487.0 L391.6,488.1 L392.1,491.2 L391.8,494.4 L391.1,495.0 L391.7,499.5 L392.4,500.3 L391.8,501.6 L392.2,505.3 L392.5,506.5 L391.9,512.8 L391.2,514.4 L392.0,515.8 L392.1,516.0 L391.7,517.0 L392.9,519.5 L392.2,524.0 L392.4,524.4 L392.2,525.7 L393.3,526.9 L392.7,531.9 L392.3,532.2 L393.1,537.2 L393.3,535.8 L393.2,537.7 L392.8,540.1 L393.3,544.5 L392.8,547.5 L393.8,550.5 L393.3,550.2 L393.6,552.3 L393.5,553.3 L393.7,554.6 L394.3,559.1 L394.2,562.4 L394.0,563.1 L394.2,561.1 L394.8,559.7 L395.0,558.8 L395.4,553.7 L395.0,552.1 L395.1,552.4 L395.4,552.8 L396.0,550.5 L395.8,545.2 L395.6,545.8 L395.6,541.8 L395.7,539.6 L396.4,537.5 L396.1,535.2 L396.2,535.2 L396.7,531.2 L395.9,528.3 L396.1,528.3 L396.1,525.9 L396.2,525.1 L397.4,521.5 L397.5,516.5 L396.2,514.6 L397.3,514.8 L396.0,511.2 L397.2,509.4 L397.2,511.5 L397.3,513.1 L397.2,513.1 L398.2,520.7 L397.3,519.6 L398.2,522.9 L397.3,525.5 L398.0,526.8 L398.5,530.9 L398.6,531.7 L398.2,533.0 L399.0,529.8 L398.6,527.2 L398.1,526.7 L397.8,521.6 L398.7,520.4 L399.0,517.1 L398.9,511.7 L398.9,512.5 L399.9,511.1 L398.8,506.6 L399.3,503.8 L399.0,503.0 L399.1,501.1 L399.8,498.2 L399.7,494.4 L400.7,493.0 L399.8,489.7 L400.3,488.7 L400.1,483.7 L400.3,482.5 L400.2,483.6 L400.3,479.2 L400.6,472.7 L400.4,475.9 L400.1,472.3 L401.0,470.5 L400.6,468.6 L401.3,466.3 L400.6,460.4 L400.8,462.6 L400.6,457.5 L400.5,459.8 L400.6,454.2 L401.5,452.7 L400.4,452.3 L401.1,451.5 L402.1,446.2 L401.5,445.0 L401.1,447.0 L401.4,448.3 L401.7,449.9 L402.2,454.9 L403.3,453.6 L402.3,456.4 L402.7,460.1 L402.5,462.2 L402.8,459.7 L402.7,461.3 L402.9,454.4 L402.7,452.8 L403.1,452.3 L403.5,449.5 L402.6,447.6 L403.1,447.2 L403.1,445.7 L403.6,442.6 L403.6,439.7 L403.0,437.7 L404.4,442.3 L404.3,443.2 L404.2,449.9 L403.8,451.4 L404.2,452.5 L404.5,455.3 L404.0,456.5 L404.6,458.1 L404.0,458.6 L404.4,462.6 L404.7,465.4 L403.7,463.0 L404.8,460.8 L404.2,460.5 L405.4,456.8 L405.8,456.0 L405.0,454.9 L405.4,452.2 L406.3,448.0 L405.8,447.2 L405.5,448.4 L405.6,450.9 L406.2,455.2 L406.3,457.9 L406.7,457.0 L406.1,459.0 L406.4,461.9 L406.2,466.2 L406.5,467.0 L406.2,466.7 L406.9,470.4 L406.8,472.9 L407.1,471.3 L406.8,468.9 L406.6,467.4 L407.0,462.6 L407.0,460.4 L407.1,459.4 L407.1,458.4 L406.8,455.8 L407.2,454.6 L406.5,452.9 L407.9,449.0 L407.9,448.2 L408.6,446.1 L409.6,451.5 L409.8,453.8 L410.1,453.5 L409.7,458.1 L410.3,461.2 L410.5,462.2 L410.4,464.4 L410.7,467.3 L410.9,470.4 L410.7,469.8 L410.8,474.3 L411.2,475.7 L410.1,476.9 L411.3,479.6 L410.9,481.7 L411.3,485.5 L411.1,484.8 L411.0,488.5 L411.6,490.1 L412.5,490.8 L412.1,496.7 L412.0,499.1 L412.3,496.6 L412.0,503.5 L412.4,500.8 L411.7,508.2 L412.3,508.6 L412.4,510.5 L412.3,513.1 L411.4,515.4 L413.5,516.0 L412.7,520.3 L412.9,523.9 L412.2,524.4 L412.0,527.4 L411.5,528.7 L412.9,530.6 L412.7,529.6 L413.2,536.4 L412.5,535.9 L412.4,536.5 L413.8,542.4 L413.6,542.0 L412.9,546.6 L412.1,551.5 L413.3,550.2 L413.5,552.2 L414.3,557.8 L413.7,560.2 L414.4,560.3 L414.1,561.7 L413.9,562.8 L415.0,563.3 L414.3,567.4 L413.5,568.7 L414.6,571.8 L415.5,573.7 L414.7,575.3 L415.0,576.3 L415.2,578.8 L415.4,586.3 L415.4,583.5 L416.3,580.1 L415.9,580.7 L416.0,578.4 L416.4,576.3 L416.4,574.8 L415.9,570.4 L416.5,568.0 L415.9,568.3 L417.4,565.9 L415.8,564.8 L416.7,560.7 L416.5,558.8 L416.8,556.6 L416.9,556.3 L417.2,550.6 L417.1,550.0 L416.6,547.2 L417.2,544.0 L416.3,542.1 L417.6,541.6 L417.2,545.5 L418.0,544.8 L418.4,544.3 L418.2,549.0 L418.2,551.6 L418.1,554.7 L417.5,553.8 L418.9,558.7 L418.6,560.1 L418.6,563.4 L417.9,566.8 L418.6,567.4 L418.7,570.0 L418.5,571.2 L418.6,572.6 L420.3,574.2 L419.4,580.7 L419.1,581.4 L418.9,578.0 L420.4,584.7 L419.5,586.6 L420.1,588.8 L419.7,586.3 L420.2,582.3 L420.0,581.7 L420.0,578.8 L421.1,578.5 L421.6,575.6 L420.8,571.3 L420.7,569.9 L421.1,569.7 L420.6,569.1 L420.9,563.3 L420.7,563.5 L421.9,562.3 L421.2,558.8 L421.5,554.4 L420.6,556.1 L421.4,552.7 L422.2,548.0 L421.6,548.4 L422.2,546.6 L422.2,544.9 L422.1,541.6 L421.7,540.1 L422.5,536.7 L423.5,530.9 L422.3,532.4 L422.9,530.9 L423.2,525.9 L423.0,526.7 L423.0,523.8 L423.5,521.2 L424.0,519.2 L423.9,517.8 L424.0,515.9 L424.7,514.4 L424.5,512.5 L424.2,509.2 L425.0,506.8 L424.7,505.5 L425.1,503.0 L424.8,498.8 L426.2,499.2 L425.5,497.1 L426.6,494.0 L426.8,492.2 L427.1,492.9 L426.7,496.2 L427.6,496.7 L426.9,501.4 L427.9,501.4 L427.6,505.1 L427.7,508.2 L427.8,511.9 L428.6,509.9 L428.5,513.4 L428.1,515.9 L428.6,516.1 L428.9,520.1 L428.6,524.4 L429.4,526.5 L429.6,524.8 L429.3,529.6 L430.0,527.5 L430.2,531.3 L430.2,532.2 L430.4,537.3 L429.9,538.2 L430.7,541.2 L430.2,542.9 L430.0,546.2 L431.1,548.9 L431.4,552.8 L431.2,552.9 L430.6,554.5 L431.5,558.9 L430.9,558.3 L431.5,560.9 L431.9,561.1 L432.2,554.8 L432.0,557.4 L432.1,553.0 L432.9,549.2 L432.7,552.8 L432.8,545.9 L433.2,543.6 L433.2,541.1 L432.5,540.8 L433.0,535.7 L433.2,536.5 L432.6,535.0 L433.0,531.7 L433.5,528.9 L433.3,525.1 L433.6,522.7 L433.3,521.0 L433.3,520.5 L433.4,519.8 L433.7,515.9 L433.9,514.8 L433.7,509.4 L433.6,507.3 L434.6,505.7 L434.5,503.1 L433.3,502.0 L434.2,495.3 L434.2,493.3 L434.1,495.6 L433.9,491.2 L433.9,489.5 L433.9,485.9 L433.8,486.1 L433.6,482.4 L434.1,479.4 L433.5,475.7 L434.5,473.9 L434.0,472.1 L434.1,470.0 L434.4,467.1 L433.3,464.8 L434.7,459.3 L435.4,458.6 L434.2,455.8 L434.7,455.9 L434.8,454.0 L434.9,448.1 L434.4,444.6 L434.6,442.4 L434.7,440.7 L434.7,444.1 L435.0,445.5 L434.3,448.5 L435.8,449.0 L436.4,449.8 L436.2,453.6 L436.9,456.1 L436.9,459.4 L436.3,459.8 L436.7,461.8 L436.9,464.7 L436.6,471.2 L437.5,468.6 L437.4,468.3 L438.2,463.9 L437.4,462.2 L438.0,460.7 L438.3,454.7 L438.1,454.1 L438.7,454.4 L439.6,451.0 L438.6,450.0 L439.0,447.2 L439.1,445.4 L438.7,439.5 L440.5,438.6 L439.6,438.3 L440.4,435.6 L440.9,434.3 L441.0,433.4 L440.5,430.0 L440.7,427.8 L440.5,425.2 L440.3,421.2 L440.3,420.4 L440.7,421.7 L441.0,419.6 L440.6,415.7 L441.0,414.9 L441.0,410.4 L440.4,408.6 L441.6,408.8 L441.4,403.2 L440.3,403.8 L440.9,400.8 L440.6,398.7 L440.7,394.0 L441.1,395.1 L441.2,392.6 L440.7,387.9 L441.2,387.7 L441.0,385.2 L440.8,382.8 L441.8,381.0 L440.9,375.3 L441.1,380.5 L441.1,371.8 L440.8,370.3 L441.9,371.0 L441.5,369.4 L441.4,368.6 L441.3,362.5 L441.3,363.0 L441.3,358.6 L441.5,358.2 L441.1,356.9 L441.5,359.1 L442.3,359.9 L441.7,361.1 L441.3,358.0 L441.4,362.4 L441.4,362.9 L441.9,362.9 L441.8,365.2 L442.1,362.9 L442.8,364.3 L441.9,364.2 L442.4,364.6 L442.5,366.3 L442.3,366.4 L443.6,365.7 L442.7,374.7 L443.0,371.1 L442.1,375.8 L442.7,377.3 L443.5,379.5 L444.3,378.2 L443.2,377.0 L444.4,375.5 L444.4,370.5 L444.2,372.5 L444.2,367.2 L443.7,367.6 L444.8,363.1 L444.5,366.7 L444.3,366.2 L444.8,362.8 L444.4,367.0 L445.0,367.1 L445.2,369.0 L445.3,368.0 L445.3,371.3 L446.4,368.0 L446.0,368.7 L445.8,367.6 L445.9,364.9 L445.3,368.8 L446.5,367.8 L446.1,371.3 L445.6,371.8 L446.1,374.3 L446.6,369.3 L445.9,367.3 L447.3,367.7 L446.2,370.9 L447.0,371.0 L447.2,369.1 L446.9,368.5 L447.1,365.3 L447.8,366.0 L447.7,366.4 L448.7,365.8 L448.1,369.0 L448.9,373.4 L448.6,373.8 L449.4,376.3 L449.0,372.8 L450.4,374.2 L450.4,374.5 L450.8,369.3 L450.6,368.7 L451.0,364.8 L452.1,366.0 L450.7,362.1 L451.7,364.1 L451.4,369.0 L451.6,368.4 L451.6,368.0 L451.9,367.8 L453.0,370.7 L452.4,364.9 L452.8,369.1 L452.8,371.8 L452.2,371.7 L453.5,366.8 L452.5,373.4 L453.0,371.3 L453.5,375.3 L453.7,371.5 L454.0,375.8 L453.4,378.3 L453.8,379.0 L453.8,384.9 L455.2,382.5 L454.7,390.2 L454.6,389.4 L454.4,386.5 L455.5,382.8 L455.1,385.3 L455.9,381.2 L455.9,383.2 L456.3,384.9 L455.9,390.6 L456.8,390.7 L456.3,391.0 L457.0,391.4 L456.3,394.7 L456.3,397.7 L456.7,398.0 L456.8,404.0 L456.4,404.6 L457.1,405.8 L458.2,400.6 L457.0,400.8 L458.2,399.1 L457.8,394.4 L458.0,395.3 L458.7,392.7 L459.2,391.8 L458.7,389.2 L458.7,386.3 L459.2,384.1 L459.6,381.7 L459.0,384.1 L459.7,378.5 L459.3,376.9 L459.5,373.8 L460.3,374.9 L460.4,378.4 L460.8,378.0 L460.8,382.2 L461.2,382.8 L462.4,385.7 L462.0,383.7 L461.4,386.7 L462.5,390.1 L462.0,392.5 L462.8,394.3 L463.2,393.7 L463.8,397.6 L464.8,399.2 L466.0,395.2 L465.5,394.7 L465.7,393.5 L466.4,392.7 L466.6,394.8 L466.5,397.8 L468.1,396.5 L467.9,400.8 L468.1,404.8 L468.1,405.0 L467.6,403.1 L468.9,398.6 L468.8,400.2 L467.8,394.6 L468.4,393.6 L468.6,393.5 L469.0,393.8 L469.4,389.4 L470.8,389.3 L471.4,391.0 L471.2,389.5 L472.7,388.3 L472.0,383.1 L471.5,381.4 L472.8,382.0 L473.0,380.6 L473.0,377.1 L473.2,376.1 L472.9,380.3 L473.9,381.8 L474.7,385.2 L474.0,387.8 L473.4,390.4 L475.1,393.0 L474.3,393.5 L474.5,398.1 L474.5,397.2 L475.6,399.2 L475.2,395.3 L476.8,397.0 L476.0,392.7 L477.1,391.3 L477.3,389.4 L477.3,385.7 L478.7,386.5 L478.9,385.3 L479.3,383.4 L478.3,379.4 L479.2,379.8 L479.7,377.2 L480.1,375.4 L479.9,378.2 L480.5,381.8 L480.9,382.4 L481.0,385.3 L480.7,383.0 L481.2,387.8 L481.7,389.1 L481.9,385.4 L481.7,381.8 L482.2,381.2 L482.8,382.3 L483.1,386.0 L483.2,388.3 L481.9,390.3 L482.7,394.4 L482.7,395.6 L482.7,395.3 L482.2,396.2 L482.5,398.6 L482.8,400.0 L482.9,404.2 L484.0,406.6 L483.3,410.9 L483.5,411.3 L483.8,412.5 L484.0,412.9 L484.2,415.7 L484.7,415.3 L484.4,419.2 L485.4,421.0 L485.7,422.5 L485.8,425.5 L486.7,428.3 L486.2,427.6 L487.1,432.1 L487.0,433.6 L486.6,432.8 L487.1,437.0 L487.1,437.5 L487.1,436.2 L486.9,430.2 L487.9,429.5 L488.0,429.6 L487.5,423.9 L488.3,422.2 L489.0,424.1 L489.5,427.3 L489.2,429.5 L489.7,431.1 L489.9,432.1 L491.4,431.6 L490.8,436.0 L492.0,437.0 L493.1,439.3 L494.0,440.3 L494.8,443.8 L494.6,439.3 L494.1,448.5 L494.8,445.0 L495.0,450.4 L495.0,451.8 L495.1,448.1 L495.9,448.1 L496.0,449.3 L495.1,442.9 L496.5,441.9 L496.8,441.6 L496.7,437.8 L496.7,437.2 L497.8,434.2 L498.1,432.1 L499.1,434.6 L499.0,436.0 L498.7,439.6 L499.8,440.3 L501.0,438.2 L502.2,437.0 L502.5,436.9 L503.7,435.0 L504.2,432.1 L503.7,431.8 L504.6,434.0 L505.1,438.7 L504.7,441.8 L505.5,444.3 L505.5,445.4 L505.5,446.8 L505.9,442.9 L505.5,441.4 L506.4,440.5 L506.5,439.1 L507.0,435.7 L507.2,435.4 L506.8,432.3 L508.3,431.8 L507.4,429.1 L508.9,430.1 L508.2,425.5 L509.9,424.4 L508.8,422.2 L509.4,424.5 L508.4,427.1 L508.8,426.8 L509.6,431.3 L509.6,435.6 L509.9,435.4 L510.1,437.0 L511.4,439.2 L511.2,441.4 L510.5,444.9 L510.9,445.9 L511.3,446.8 L511.9,445.4 L512.4,443.6 L512.4,445.8 L512.6,450.4 L513.7,451.3 L513.5,453.3 L513.7,456.7 L513.4,456.7 L513.0,461.4 L513.9,463.7 L513.8,459.8 L514.3,462.3 L514.5,466.5 L514.5,465.9 L515.4,470.0 L515.8,472.4 L516.0,472.5 L516.6,475.5 L516.9,477.6 L517.5,475.8 L517.6,475.4 L519.0,472.2 L519.5,469.3 L519.6,467.3 L520.4,465.1 L520.7,465.6 L521.2,461.5 L521.7,463.2 L520.9,465.4 L521.9,468.3 L522.4,470.0 L522.9,467.0 L522.6,465.8 L522.3,460.1 L523.3,461.5 L523.4,463.7 L523.6,466.5 L523.1,467.1 L523.7,468.3 L524.2,470.4 L523.2,472.2 L523.3,476.2 L524.2,478.6 L523.8,483.4 L524.2,482.8 L523.6,483.7 L524.9,484.2 L525.5,491.0 L524.9,489.2 L525.0,493.6 L525.1,495.0 L525.1,499.4 L524.8,502.4 L524.6,504.7 L525.0,504.4 L524.0,504.9 L525.1,500.1 L526.1,498.0 L525.9,496.9 L525.4,496.4 L527.0,490.2 L525.6,489.9 L526.7,487.2 L526.5,485.8 L527.8,485.7 L528.2,480.6 L528.3,478.2 L528.2,477.6 L528.4,476.4 L528.7,471.0 L528.8,467.5 L529.9,466.0 L529.7,466.8 L528.9,467.2 L530.4,471.6 L531.4,471.8 L530.8,475.8 L531.0,476.5 L529.9,477.6 L531.9,481.6 L531.1,482.0 L531.2,485.0 L532.6,487.3 L532.5,489.4 L533.0,494.0 L533.6,494.0 L533.5,498.1 L534.0,498.0 L533.9,498.2 L534.1,500.3 L534.9,504.2 L535.1,506.8 L535.5,508.1 L535.9,512.3 L535.8,513.0 L536.1,513.8 L537.4,509.3 L537.3,508.4 L537.5,506.5 L538.2,503.8 L537.6,501.6 L538.2,500.0 L538.5,499.3 L539.0,495.8 L539.6,494.2 L540.1,492.7 L541.1,490.4 L540.7,494.2 L541.2,493.8 L541.8,497.4 L541.8,499.2 L541.7,499.3 L542.1,501.9 L542.6,504.4 L542.9,507.0 L542.8,510.3 L542.6,509.6 L543.3,513.1 L543.4,518.2 L544.3,520.1 L544.2,517.7 L544.4,523.4 L543.9,523.7 L544.4,525.8 L544.1,527.2 L545.0,530.2 L544.8,532.0 L544.1,534.6 L544.9,537.0 L545.0,537.6 L544.8,540.9 L544.6,541.9 L545.1,545.6 L544.7,545.8 L545.8,549.5 L546.0,550.9 L546.1,553.8 L546.5,549.2 L546.7,550.2 L546.8,546.3 L547.4,545.4 L547.3,543.5 L547.8,539.7 L547.6,538.7 L547.9,539.0 L548.8,536.5 L548.6,533.8 L549.7,532.3 L549.1,537.3 L550.0,537.1 L550.3,540.6 L551.0,541.0 L550.7,543.8 L551.2,545.2 L551.7,544.1 L551.6,542.5 L552.0,538.7 L552.5,536.6 L552.9,537.4 L553.7,541.5 L553.6,542.5 L553.6,547.0 L554.0,547.3 L554.3,545.3 L554.1,541.9 L554.9,542.6 L555.1,538.7 L554.7,540.7 L555.9,543.2 L555.1,543.3 L556.3,549.1 L555.5,551.9 L555.5,552.6 L555.8,554.6 L556.7,556.2 L556.2,558.6 L556.4,560.2 L556.6,562.4 L556.7,563.7 L557.4,567.6 L556.2,565.5 L557.2,569.0 L557.0,577.0 L557.5,575.4 L557.0,573.5 L557.2,579.5 L557.4,572.1 L557.2,573.8 L557.3,572.7 L557.7,571.5 L558.9,567.9 L558.3,564.2 L558.6,561.2 L558.2,561.6 L558.9,559.2 L558.3,557.4 L558.9,552.6 L558.3,548.0 L558.9,548.6 L559.6,548.4 L558.9,543.0 L559.3,545.7 L559.3,545.2 L559.5,549.9 L560.2,551.7 L559.9,552.2 L560.4,555.9 L561.0,555.2 L559.8,558.5 L560.5,563.6 L560.6,566.0 L561.1,570.0 L560.9,569.0 L561.3,570.6 L560.8,576.3 L561.4,573.5 L560.5,579.1 L560.8,578.5 L561.6,582.6 L560.9,582.7 L561.5,586.0 L560.8,589.2 L561.9,591.3 L562.6,595.4 L562.2,593.6 L562.3,596.2 L562.8,598.8 L563.4,596.8 L563.0,592.1 L563.6,594.7 L563.0,588.9 L562.8,586.7 L563.7,587.7 L563.2,582.7 L563.7,581.0 L564.1,579.5 L564.0,580.1 L564.9,575.4 L564.5,574.1 L565.3,567.5 L564.6,569.7 L564.5,566.5 L564.5,563.1 L565.5,563.1 L565.4,560.2 L566.0,558.5 L565.9,557.0 L566.3,552.8 L566.5,554.1 L566.3,552.2 L567.2,546.7 L566.9,546.2 L567.3,547.2 L567.5,549.8 L567.6,551.6 L568.9,551.2 L568.4,555.9 L567.8,558.4 L568.3,558.8 L567.9,561.2 L570.0,565.4 L569.8,566.3 L569.7,568.8 L569.5,568.1 L569.6,567.5 L570.5,563.0 L571.0,562.3 L571.2,566.3 L570.9,566.2 L571.4,568.6 L572.1,571.6 L571.6,573.7 L572.4,574.3 L571.8,576.9 L572.7,581.4 L572.0,581.6 L572.2,582.7 L572.7,577.9 L572.8,574.4 L572.5,570.1 L572.6,568.2 L572.7,564.1 L572.2,558.2 L573.5,556.0 L572.4,552.2 L572.9,547.6 L572.7,546.7 L573.1,541.9 L572.7,536.7 L572.8,533.2 L572.5,530.5 L573.3,525.9 L573.7,525.5 L574.2,522.5 L572.9,520.4 L573.9,517.4 L573.4,514.1 L574.2,513.7 L574.0,510.2 L573.9,507.9 L574.8,506.5 L574.4,504.4 L575.1,502.9 L576.1,506.5 L576.6,511.2 L577.2,511.0 L576.7,511.4 L577.6,515.1 L577.2,510.4 L578.4,511.2 L577.9,508.0 L578.7,507.2 L577.8,504.8 L577.8,501.4 L579.1,500.1 L579.2,498.3 L580.6,494.8 L580.6,495.7 L580.8,491.5 L581.0,489.8 L581.0,486.3 L580.7,488.1 L581.3,481.9 L581.7,482.2 L581.4,477.1 L581.0,476.1 L581.5,474.5 L582.0,473.7 L581.9,468.9 L581.7,467.4 L582.1,465.8 L582.7,462.9 L581.6,460.9 L582.8,458.1 L582.2,460.6 L582.6,454.5 L583.1,450.7 L583.1,450.7 L583.0,452.1 L583.6,447.7 L583.4,444.3 L583.3,445.5 L584.0,451.0 L583.4,451.0 L584.3,454.3 L584.9,458.5 L584.5,458.5 L584.3,459.4 L584.7,461.5 L585.8,461.5 L586.0,459.9 L586.5,458.4 L585.8,455.8 L586.9,454.5 L586.5,449.8 L586.6,449.9 L586.4,447.8 L587.3,444.8 L586.0,445.5 L586.9,436.8 L586.6,437.6 L587.1,434.1 L586.8,434.5 L588.2,433.9 L587.2,430.4 L587.8,435.1 L587.6,434.5 L587.9,437.4 L587.5,440.7 L587.3,443.1 L588.3,445.8 L588.0,446.4 L588.2,446.7 L587.4,453.0 L588.0,456.7 L587.4,453.7 L588.0,460.1 L587.5,462.8 L588.7,463.3 L588.3,465.8 L589.0,462.6 L589.2,461.5 L589.8,463.1 L591.0,466.3 L590.5,467.9 L591.0,468.1 L590.3,474.2 L592.0,474.5 L589.8,478.1 L590.5,478.2 L591.1,481.2 L591.6,482.9 L591.5,484.0 L591.9,487.4 L592.2,487.5 L592.2,491.5 L592.1,494.6 L592.9,495.5 L593.3,496.9 L593.2,497.2 L593.1,491.6 L594.2,493.6 L594.0,486.6 L595.0,484.7 L593.7,484.7 L594.8,481.9 L595.5,484.1 L595.6,485.7 L595.8,487.5 L595.7,489.9 L596.3,491.5 L596.8,489.9 L596.9,487.2 L597.6,485.1 L597.9,485.7 L597.0,490.7 L598.8,490.7 L598.1,495.1 L598.2,497.9 L599.7,496.7 L599.1,500.1 L599.4,497.3 L599.4,493.2 L600.2,491.8 L600.6,491.5 L601.3,490.8 L600.9,495.2 L601.7,496.9 L601.5,502.4 L601.9,502.2 L603.0,502.6 L602.8,500.0 L603.3,493.5 L603.4,493.7 L603.6,495.2 L603.4,495.1 L603.2,500.5 L604.4,502.7 L603.5,504.8 L602.9,510.3 L604.1,507.3 L603.0,509.9 L604.5,513.4 L604.8,513.9 L604.8,518.1 L604.3,517.1 L604.4,521.6 L605.4,526.2 L604.6,527.9 L604.5,528.3 L604.6,531.9 L604.1,532.5 L605.9,532.1 L605.4,536.7 L605.4,535.3 L605.5,540.9 L604.9,546.3 L605.6,541.5 L605.7,546.5 L605.3,547.5 L606.2,549.7 L606.4,553.7 L606.4,554.2 L606.3,557.3 L606.3,561.6 L605.7,561.8 L606.9,564.6 L606.6,566.6 L606.8,567.5 L606.6,567.6 L608.0,572.9 L607.7,574.1 L607.2,571.7 L607.5,569.8 L609.3,568.0 L608.7,566.6 L608.7,565.1 L608.8,564.3 L609.1,561.2 L608.5,559.4 L609.7,557.8 L608.2,551.1 L609.5,552.7 L610.3,549.2 L610.0,548.5 L610.2,547.3 L609.7,543.3 L610.3,542.8 L610.3,541.0 L610.7,537.3 L610.8,536.7 L610.9,529.9 L610.7,527.9 L610.7,528.6 L610.7,526.8 L610.9,525.5 L611.3,527.7 L610.2,528.1 L611.8,530.1 L612.0,531.9 L611.6,534.6 L613.0,539.0 L612.5,539.1 L612.7,536.9 L612.3,536.6 L613.5,531.7 L613.0,532.4 L613.5,527.8 L613.3,524.7 L612.7,524.6 L614.3,523.9 L614.1,520.9 L613.7,520.5 L614.2,514.7 L615.7,512.6 L614.9,511.0 L615.5,510.8 L615.5,508.4 L615.2,512.9 L615.9,514.1 L616.0,513.0 L616.8,514.8 L616.7,518.0 L616.1,523.4 L616.6,522.1 L617.1,524.0 L616.5,528.1 L617.0,530.0 L617.6,530.8 L618.3,531.5 L617.7,534.5 L618.8,536.1 L618.9,540.8 L618.6,541.4 L618.9,540.5 L619.4,540.3 L619.6,536.4 L619.7,535.0 L619.1,531.6 L620.0,530.0 L619.6,535.4 L619.9,530.7 L620.9,539.3 L620.7,537.4 L619.8,540.4 L620.9,542.0 L620.4,546.5 L620.4,543.1 L621.2,549.3 L621.4,551.1 L620.9,552.3 L621.6,555.0 L622.3,554.2 L623.2,552.9 L623.2,550.5 L622.7,547.0 L625.4,544.6 L625.0,545.9 L625.4,542.4 L625.7,541.8 L625.4,545.0 L625.5,537.5 L626.2,536.2 L626.8,532.2 L626.6,533.6 L626.5,529.5 L626.8,527.7 L627.2,523.2 L626.9,522.4 L626.8,523.6 L627.8,519.3 L627.2,521.3 L627.7,516.4 L627.6,516.2 L628.3,513.1 L628.8,508.7 L628.5,511.5 L628.2,507.0 L628.9,507.5 L629.1,502.7 L629.6,502.7 L629.1,504.4 L630.3,505.4 L629.5,514.3 L629.7,511.8 L630.4,513.9 L629.9,519.2 L629.7,519.6 L630.7,520.9 L630.8,525.3 L631.7,523.8 L631.7,526.7 L632.0,530.6 L631.4,529.6 L631.4,533.4 L631.3,537.2 L631.8,536.8 L632.6,540.4 L631.7,537.6 L632.0,541.3 L632.3,545.4 L632.3,546.9 L632.9,548.6 L632.5,551.9 L633.0,552.7 L632.8,550.5 L632.6,548.3 L633.6,548.1 L633.1,544.3 L633.3,541.8 L634.4,538.0 L633.2,543.7 L634.1,534.5 L633.3,535.3 L634.1,532.3 L634.5,527.2 L635.1,525.1 L634.7,525.5 L634.5,524.3 L634.8,522.1 L635.1,522.4 L635.1,518.3 L635.5,516.4 L635.4,517.3 L636.8,520.2 L636.3,523.8 L636.8,526.6 L636.5,526.1 L636.8,527.7 L637.0,528.1 L636.3,531.4 L638.0,532.0 L637.4,536.5 L637.1,538.6 L637.9,541.1 L637.7,542.0 L637.4,546.3 L637.4,547.0 L637.6,549.8 L637.6,552.8 L637.9,555.8 L637.7,553.8 L638.2,557.3 L637.9,560.5 L638.9,564.4 L637.7,564.5 L638.1,565.7 L638.7,565.0 L638.3,573.5 L639.2,573.4 L638.5,572.7 L639.0,576.8 L638.9,576.7 L639.3,580.4 L638.7,580.2 L638.8,584.1 L638.8,588.1 L639.1,589.1 L638.9,595.6 L639.7,594.7 L639.3,597.1 L639.3,596.4 L639.6,600.9 L639.9,602.9 L639.3,602.7 L639.6,608.6 L639.9,608.4 L640.8,603.7 L639.6,602.8 L639.6,603.5 L640.6,598.4 L641.4,596.4 L641.5,595.7 L640.4,593.6 L640.3,590.2 L640.5,589.1 L640.6,586.4 L640.2,586.4 L639.9,581.8 L641.0,583.7 L641.1,579.4 L641.4,579.1 L641.4,575.5 L641.5,574.8 L641.7,571.3 L642.3,566.5 L641.5,564.9 L642.1,566.5 L643.0,564.7 L643.0,564.3 L643.5,559.0 L642.7,557.3 L642.8,553.9 L642.9,555.0 L642.9,551.2 L642.1,551.7 L643.8,549.6 L643.7,545.4 L643.6,543.6 L644.3,540.2 L643.7,544.7 L644.3,540.2 L644.3,535.5 L644.2,533.9 L645.0,532.3 L646.1,528.4 L646.0,528.9 L646.4,527.7 L646.6,525.5 L646.4,524.9 L647.5,530.1 L647.0,529.1 L647.8,531.0 L647.7,534.5 L647.9,537.0 L648.3,537.3 L648.0,540.3 L648.2,542.6 L649.0,545.5 L648.9,545.9 L649.3,542.8 L648.8,541.9 L648.5,538.3 L649.5,535.9 L649.2,537.6 L649.7,533.9 L649.9,532.9 L650.1,531.5 L650.1,526.3 L650.0,525.5 L650.0,519.3 L650.4,520.7 L650.6,517.7 L649.9,517.9 L650.5,512.5 L650.5,511.7 L650.0,509.8 L651.1,507.3 L650.9,505.4 L650.9,500.9 L650.1,498.7 L650.9,495.4 L650.5,493.1 L650.9,491.2 L651.1,489.1 L651.2,487.1 L651.7,485.1 L651.5,483.0 L650.1,478.7 L651.8,477.9 L651.3,475.9 L652.1,472.3 L651.9,471.3 L652.1,471.9 L651.9,471.5 L652.4,467.4 L652.2,462.7 L651.8,460.7 L652.3,459.5 L652.1,458.0 L652.3,458.3 L652.9,452.8 L653.1,450.9 L652.6,448.8 L652.8,444.0 L653.6,445.9 L654.1,446.5 L654.0,442.5 L654.6,440.2 L654.4,436.4 L655.0,436.8 L655.8,433.7 L656.0,431.7 L656.9,431.0 L655.9,430.0 L655.9,427.8 L656.3,428.0 L655.5,425.3 L656.7,423.5 L655.8,419.4 L656.5,415.8 L656.1,415.9 L656.8,411.4 L656.1,412.7 L655.7,411.6 L655.7,408.5 L656.0,407.3 L656.0,404.9 L656.2,400.9 L656.8,403.7 L656.4,403.7 L656.9,405.9 L656.4,408.4 L657.2,411.2 L656.7,411.9 L656.6,415.2 L656.9,416.6 L656.3,420.3 L656.6,422.4 L658.2,424.2 L657.3,426.3 L657.4,422.7 L658.0,421.9 L656.8,419.5 L657.8,415.7 L658.3,416.7 L658.3,413.4 L658.6,410.5 L657.9,410.1 L659.1,408.5 L657.8,404.9 L658.5,404.2 L658.2,400.7 L659.0,400.3 L659.1,398.3 L659.1,398.6 L658.4,392.8 L659.3,393.3 L659.8,391.0 L660.2,392.5 L659.5,395.6 L660.5,395.2 L661.2,398.4 L660.0,399.8 L661.1,402.5 L660.6,402.3 L661.7,396.7 L662.9,394.4 L662.2,394.4 L662.2,391.9 L663.4,393.3 L662.3,396.9 L662.0,400.1 L663.1,399.2 L662.8,402.4 L663.4,404.2 L664.2,408.7 L663.9,406.7 L663.6,409.2 L664.0,413.8 L664.2,414.0 L664.8,414.3 L665.0,417.0 L664.4,419.5 L664.7,422.2 L664.9,422.5 L664.7,417.0 L665.9,416.9 L665.0,414.8 L665.0,410.0 L665.5,409.5 L666.1,406.5 L665.3,403.9 L666.0,404.2 L666.3,400.7 L666.0,399.2 L666.9,399.0 L667.1,406.7 L667.3,405.4 L667.1,407.3 L666.8,408.9 L666.0,412.1 L667.7,412.9 L667.2,410.6 L667.2,417.3 L667.5,416.6 L668.0,413.4 L666.7,411.4 L667.5,407.3 L667.5,406.9 L668.6,404.4 L668.5,397.7 L668.4,401.8 L668.2,398.2 L668.3,396.0 L668.5,394.1 L668.8,389.8 L668.5,387.1 L668.0,385.3 L668.6,384.4 L668.7,379.0 L669.4,376.2 L669.7,376.7 L669.2,372.4 L668.6,368.7 L669.2,368.1 L669.0,367.8 L669.6,365.7 L669.2,358.5 L669.3,358.2 L670.2,357.9 L669.9,361.1 L669.5,366.4 L669.8,365.3 L669.2,366.8 L670.0,368.4 L670.7,372.9 L670.3,371.7 L670.6,374.8 L670.3,379.8 L670.1,383.1 L670.4,382.8 L670.1,383.9 L670.9,385.6 L671.6,389.6 L670.9,390.0 L671.2,391.9 L671.6,394.3 L671.6,391.4 L672.0,388.7 L672.2,387.1 L672.6,383.6 L673.0,384.6 L672.5,380.7 L673.2,379.5 L673.0,379.5 L673.7,382.6 L674.5,382.9 L674.5,387.8 L674.3,383.2 L675.1,382.4 L674.6,384.4 L674.7,378.9 L674.9,376.9 L674.6,379.0 L674.8,372.8 L675.1,371.7 L674.9,370.0 L675.6,371.3 L675.9,360.7 L675.2,361.4 L675.6,361.5 L675.9,358.2 L675.7,361.0 L676.1,362.3 L676.2,361.7 L676.0,360.8 L676.6,363.6 L677.3,362.6 L675.9,368.0 L676.5,367.6 L676.2,366.6 L676.3,370.5 L676.4,367.6 L677.3,372.9 L676.7,366.7 L676.7,371.2 L677.0,371.3 L676.7,372.9 L676.8,376.1 L678.5,379.2 L678.3,379.5 L677.4,382.8 L677.4,383.9 L678.3,386.8 L678.0,390.3 L678.3,391.0 L678.4,386.9 L678.6,389.3 L677.7,384.3 L678.9,381.6 L679.4,378.6 L678.5,377.0 L679.0,374.8 L678.9,375.1 L679.2,367.5 L680.0,370.3 L680.1,364.5 L679.7,366.2 L679.2,360.9 L680.1,357.9 L679.8,358.2 L680.4,359.9 L680.0,365.0 L680.9,361.4 L680.0,359.7 L680.1,362.9 L680.0,365.1 L679.8,368.4 L679.7,365.2 L680.8,365.0 L680.6,370.5 L681.0,372.1 L680.8,370.1 L681.8,373.0 L681.2,372.8 L681.1,374.6 L681.8,374.4 L681.8,373.1 L681.3,369.0 L681.5,366.0 L681.8,374.2 L681.9,368.2 L681.3,367.3 L681.9,364.4 L681.7,365.1 L681.9,363.4 L682.1,359.7 L682.8,359.4 L682.8,363.8 L682.4,358.8 L682.8,358.2 L682.7,356.9 L683.5,364.4 L683.0,362.1 L683.4,362.6 L683.5,363.7 L683.5,363.1 L684.0,365.1 L684.2,364.3 L683.5,367.9 L683.9,369.2 L684.2,369.7 L683.3,370.1 L684.2,373.5 L684.5,376.1 L684.4,374.6 L685.1,373.6 L685.0,377.9 L685.4,384.7 L685.1,381.6 L685.6,383.0 L685.0,388.6 L686.1,390.6 L685.5,393.4 L686.0,394.3 L685.7,391.2 L686.5,388.3 L687.0,388.4 L686.5,386.7 L687.5,382.1 L686.9,382.6 L686.6,378.7 L686.8,379.3 L687.4,376.3 L688.1,379.3 L687.5,379.8 L689.2,383.1 L689.0,384.5 L688.9,381.6 L689.9,382.9 L690.7,378.6 L690.6,377.9 L691.0,379.6 L690.6,381.5 L690.7,384.6 L691.0,383.6 L691.9,390.5 L692.1,394.1 L691.9,395.3 L692.2,394.3 L692.5,395.6 L692.3,399.2 L692.6,396.4 L692.5,393.8 L692.6,394.6 L693.0,389.9 L692.9,390.3 L692.4,385.1 L693.7,382.7 L693.4,382.8 L693.8,384.9 L693.9,388.9 L693.8,390.1 L694.4,389.0 L694.6,393.6 L694.5,394.3 L694.4,401.3 L695.5,400.5 L695.1,402.5 L695.6,403.8 L696.2,402.5 L696.9,406.8 L696.7,409.1 L696.8,406.8 L697.1,405.4 L698.2,401.7 L697.8,401.9 L698.4,399.5 L698.3,396.0 L698.6,398.8 L699.0,399.9 L699.2,402.5 L699.2,402.6 L699.1,406.1 L700.1,407.2 L700.0,409.1 L700.1,411.3 L700.2,412.9 L700.4,416.4 L700.2,414.2 L701.0,419.2 L701.1,420.6 L700.8,417.7 L701.2,416.0 L701.8,413.0 L702.2,410.7 L702.1,408.5 L702.5,407.5 L703.5,405.2 L703.6,406.0 L703.5,400.4 L704.1,401.0 L704.1,397.6 L704.6,396.7 L705.5,399.7 L705.7,402.5 L705.7,401.6 L706.1,402.1 L706.4,400.7 L707.5,394.9 L706.7,392.3 L707.1,393.6 L707.4,389.4 L707.2,392.1 L708.5,396.1 L708.7,395.8 L708.5,396.5 L709.0,399.2 L709.6,395.1 L710.2,397.9 L710.6,395.8 L710.7,392.7 L710.5,389.3 L711.4,389.7 L711.5,388.3 L712.2,383.4 L712.3,382.8 L712.0,384.0 L712.7,385.9 L713.3,387.2 L713.9,391.0 L715.0,390.3 L714.0,389.3 L714.2,386.2 L714.1,382.9 L713.8,380.0 L714.3,380.7 L714.4,376.6 L714.3,373.9 L715.3,370.5 L714.2,370.4 L714.6,368.8 L715.5,365.4 L715.2,361.2 L715.7,359.8 L715.6,358.2 L716.3,361.6 L716.7,361.2 L716.7,359.1 L716.4,362.0 L716.2,363.4 L716.4,362.8 L716.4,370.2 L716.5,366.9 L716.5,369.6 L716.8,369.1 L717.2,373.0 L716.6,369.1 L717.4,372.4 L717.0,375.0 L717.2,374.6 L717.6,376.3 L718.7,374.4 L718.6,373.2 L718.9,368.1 L718.4,368.7 L718.9,362.9 L719.7,367.7 L719.8,365.2 L720.1,366.0 L719.2,360.7 L719.2,361.4 L719.4,366.4 L719.7,360.4 L719.8,363.8 L720.3,362.7 L719.2,358.6 L719.8,357.2 L720.1,363.0 L720.5,358.2 L720.8,356.9 L720.3,360.1 L721.2,363.6 L720.6,362.4 L720.2,360.7 L721.4,364.3 L721.3,362.3 L720.9,372.3 L721.8,362.4 L721.4,366.0 L721.7,369.1 L722.1,370.8 L722.0,372.1 L722.7,365.8 L722.2,371.3 L722.8,370.5 L722.0,375.5 L723.1,377.1 L723.0,377.2 L722.7,379.6 L723.9,381.6 L723.5,384.5 L723.6,383.4 L723.8,380.0 L724.0,378.4 L724.4,373.0 L723.1,372.2 L723.8,372.9 L724.4,368.9 L724.8,365.7 L724.6,364.2 L724.7,360.5 L725.0,357.7 L725.1,358.2 L725.6,362.6 L724.7,361.3 L725.8,363.8 L724.6,366.6 L725.5,363.2 L725.3,366.5 L726.8,364.3 L725.1,368.2 L726.7,367.1 L726.4,366.7 L725.7,369.3 L726.9,368.7 L726.2,373.6 L726.3,373.8 L726.7,373.0 L726.8,372.4 L727.1,368.3 L725.9,369.2 L726.8,367.3 L726.9,366.3 L726.3,365.6 L727.5,368.0 L727.5,365.7 L727.6,364.3 L727.2,360.8 L728.4,362.3 L728.8,361.8 L728.1,356.9 L728.8,357.6 L728.4,358.2 L728.3,363.7 L728.4,362.5 L728.6,359.3 L729.4,360.8 L729.3,365.5 L727.8,366.2 L729.0,368.4 L729.0,362.7 L729.8,371.2 L729.5,368.1 L729.1,372.2 L729.5,372.2 L729.6,374.8 L728.9,374.5 L729.5,376.3 L730.1,377.2 L729.6,373.0 L729.0,374.0 L730.9,372.6 L729.6,370.9 L730.0,373.5 L729.9,368.3 L729.4,367.0 L729.6,362.7 L730.3,366.2 L729.5,365.5 L731.1,360.3 L729.7,358.6 L730.5,357.5 L730.7,358.2 L731.4,360.2 L731.6,365.2 L730.8,365.6 L730.5,365.3 L731.8,371.2 L731.0,370.7 L731.7,373.6 L731.1,374.8 L731.4,377.0 L732.0,379.9 L731.7,381.4 L732.0,382.8 L732.6,383.1 L732.8,380.6 L732.9,377.5 L732.1,372.7 L733.4,370.8 L733.5,372.2 L733.6,368.1 L734.5,370.5 L733.1,371.8 L733.8,372.2 L734.4,377.9 L734.5,378.7 L734.0,381.1 L734.7,382.8 L734.0,387.1 L734.7,386.2 L734.3,393.3 L735.1,390.1 L735.0,394.3 L734.9,397.0 L735.6,398.1 L735.5,397.3 L736.1,402.9 L735.9,405.7 L736.1,405.8 L736.9,405.7 L736.2,411.2 L737.1,413.8 L735.8,414.0 L736.6,415.6 L737.1,417.2 L737.3,420.6 L737.5,421.1 L736.9,427.9 L737.3,428.7 L737.5,430.0 L737.3,433.3 L737.4,434.6 L737.8,436.0 L737.2,439.5 L738.5,437.8 L738.7,442.7 L738.2,442.6 L738.9,447.3 L738.2,448.5 L738.1,450.5 L738.3,453.7 L738.8,453.5 L738.1,453.7 L738.4,460.9 L738.9,460.3 L739.0,464.6 L738.9,464.9 L738.7,461.3 L739.0,462.3 L739.6,457.6 L740.2,458.3 L739.1,452.7 L739.6,451.2 L740.0,449.4 L740.1,443.8 L739.6,444.9 L739.9,444.7 L740.6,440.1 L739.8,440.5 L739.6,437.8 L740.2,435.4 L740.3,431.4 L740.6,431.7 L740.2,427.8 L741.6,424.3 L740.8,425.4 L741.5,424.6 L741.5,420.6 L743.5,420.6 L743.4,422.1 L743.9,426.6 L744.1,429.5 L743.8,428.2 L744.4,430.2 L744.7,433.8 L744.1,436.2 L744.3,437.3 L744.3,440.5 L745.0,441.9 L744.7,443.1 L745.0,445.2 L745.0,450.7 L745.2,450.5 L745.1,450.4 L745.6,456.0 L746.3,457.3 L745.5,460.8 L745.0,463.2 L745.2,463.2 L746.4,465.9 L746.4,467.0 L746.4,468.3 L745.5,469.4 L745.9,475.7 L746.0,476.6 L746.0,478.8 L746.0,479.1 L746.2,482.8 L745.9,480.3 L747.1,478.1 L746.2,472.2 L746.5,471.6 L746.2,469.5 L746.6,466.6 L747.3,463.8 L746.1,461.5 L747.1,456.1 L746.6,455.3 L746.8,451.1 L746.7,450.3 L747.4,447.2 L747.4,446.3 L747.2,442.4 L746.7,444.3 L748.1,448.0 L748.1,451.0 L747.8,451.6 L748.3,453.3 L748.8,455.1 L747.9,459.0 L747.4,459.9 L748.1,461.0 L748.0,468.1 L748.5,467.9 L748.6,468.7 L749.0,470.3 L749.3,469.6 L749.2,477.7 L749.3,476.7 L749.1,479.8 L749.7,481.0 L749.8,482.2 L749.8,484.8 L750.3,487.3 L749.9,487.3 L750.8,490.2 L749.8,493.3 L751.5,492.9 L750.3,497.5 L751.1,497.6 L751.2,501.0 L752.0,506.5 L751.2,506.9 L751.0,513.7 L751.6,516.4 L752.1,517.3 L751.2,521.2 L751.7,521.3 L752.3,527.7 L752.4,526.0 L752.5,534.3 L752.0,537.8 L752.2,540.5 L752.0,542.1 L751.9,546.5 L752.2,549.5 L751.7,545.2 L752.7,546.3 L752.1,543.6 L752.6,542.8 L753.5,536.2 L754.0,535.1 L752.9,536.2 L753.0,529.7 L754.0,533.7 L752.8,529.7 L753.5,526.7 L753.8,525.3 L753.8,528.1 L753.3,530.1 L754.7,530.7 L754.6,531.5 L754.5,539.5 L754.9,535.9 L754.6,537.3 L755.0,541.6 L754.6,544.4 L754.8,544.1 L755.2,543.0 L754.5,537.4 L754.9,539.8 L755.1,534.5 L754.6,531.1 L755.3,529.5 L755.2,529.1 L755.1,523.1 L755.8,523.3 L755.6,522.4 L755.9,519.2 L756.1,518.0 L756.2,517.8 L756.6,513.4 L756.1,513.0 L756.6,508.4 L757.4,503.8 L757.0,506.7 L757.7,508.3 L757.3,501.0 L758.1,502.1 L757.0,498.4 L757.9,497.3 L757.9,491.1 L758.4,492.1 L757.9,489.2 L758.0,488.0 L758.8,484.7 L758.7,480.6 L758.7,480.8 L758.5,479.8 L759.0,482.9 L759.2,488.0 L759.4,490.3 L759.8,490.6 L759.8,492.5 L759.9,494.9 L759.7,493.3 L759.6,490.2 L759.4,484.9 L761.0,481.2 L760.9,479.3 L760.0,473.3 L760.9,473.0 L759.9,470.4 L760.7,466.7 L761.0,462.8 L760.2,459.0 L760.4,454.5 L761.1,450.9 L760.9,451.8 L761.3,446.5 L761.2,447.3 L762.0,447.8 L762.2,451.7 L762.7,454.5 L763.0,451.0 L763.2,448.6 L763.4,447.4 L763.4,445.1 L763.3,445.1 L763.6,444.9 L763.9,439.0 L763.5,437.1 L764.0,436.4 L763.3,437.0 L764.7,431.9 L764.3,430.3 L764.6,428.0 L764.1,428.6 L765.2,424.3 L764.2,421.3 L765.2,418.6 L766.1,418.5 L764.8,418.2 L766.1,415.8 L765.8,414.6 L766.0,410.1 L766.2,411.3 L766.6,416.6 L766.8,418.8 L766.1,417.3 L766.0,423.1 L766.7,421.7 L766.7,422.8 L768.2,426.3 L767.0,428.2 L767.4,430.3 L767.9,428.4 L767.4,424.8 L767.9,421.3 L768.4,423.0 L768.7,417.9 L767.8,419.1 L767.8,415.0 L768.4,411.6 L767.8,410.5 L768.2,410.1 L768.2,406.3 L768.9,404.3 L768.1,404.6 L768.5,400.9 L769.3,403.0 L769.7,404.8 L769.4,408.1 L769.7,406.4 L769.8,412.3 L769.8,414.0 L770.2,416.8 L770.4,417.3 L769.7,420.2 L770.4,420.6 L769.5,424.8 L771.0,423.1 L771.9,428.3 L770.8,430.4 L770.8,425.5 L771.2,424.5 L771.8,425.2 L771.7,419.0 L771.4,416.2 L771.7,415.9 L772.1,411.9 L771.6,410.6 L771.2,407.8 L771.9,406.9 L772.7,404.1 L771.9,399.5 L772.5,398.4 L772.6,395.7 L772.3,393.5 L771.6,396.3 L771.6,396.7 L772.4,399.4 L772.8,402.9 L773.4,404.0 L772.4,407.1 L773.1,407.2 L773.0,413.1 L773.3,412.3 L773.3,415.9 L773.2,417.2 L773.5,418.9 L773.3,420.2 L773.5,424.3 L774.0,426.3 L772.7,429.2 L773.5,428.3 L774.5,431.8 L774.9,438.2 L774.5,438.5 L774.4,438.6 L774.9,440.1 L775.3,439.3 L775.4,444.8 L774.9,445.3 L775.5,447.9 L775.8,451.0 L775.7,449.4 L776.3,447.3 L776.1,442.9 L776.0,440.2 L776.0,441.9 L776.6,441.3 L776.5,437.7 L777.1,435.6 L776.7,432.1 L776.6,430.1 L777.7,426.9 L776.8,425.2 L776.3,422.2 L777.3,420.4 L776.9,418.2 L777.6,417.4 L777.6,413.9 L777.9,410.8 L777.5,408.6 L777.5,408.2 L778.7,404.0 L777.2,406.0 L777.5,401.6 L778.1,399.2 L777.6,401.9 L778.5,404.5 L778.9,408.5 L778.9,407.3 L778.5,409.4 L777.8,411.6 L777.8,415.5 L779.0,416.4 L778.2,419.1 L779.3,420.1 L779.8,425.0 L779.3,422.7 L779.6,427.0 L779.3,427.3 L779.4,432.1 L779.2,431.2 L779.2,427.4 L779.1,427.7 L779.6,422.5 L780.8,421.4 L779.6,420.2 L780.2,418.7 L780.1,416.1 L779.7,414.4 L780.1,409.7 L780.7,407.8 L780.5,407.5 L781.2,412.6 L781.0,412.4 L780.4,412.7 L780.5,416.8 L781.3,418.5 L781.6,421.3 L781.7,422.2 L783.0,423.9 L782.9,422.1 L783.2,417.3 L784.1,419.1 L783.4,418.3 L784.3,412.7 L785.3,411.5 L783.7,410.7 L784.6,408.3 L785.5,409.4 L785.0,409.4 L785.9,412.1 L784.9,415.5 L785.2,415.6 L785.5,416.2 L785.9,422.2 L786.2,427.6 L785.9,425.7 L786.4,428.7 L787.5,428.8 L787.1,432.1 L786.8,434.7 L787.3,438.2 L787.6,438.6 L787.9,441.6 L788.1,441.1 L787.9,443.6 L788.1,440.8 L787.6,441.9 L788.0,435.5 L788.9,434.2 L789.4,430.4 L788.3,433.2 L788.4,428.9 L789.0,427.5 L789.1,425.5 L788.8,425.2 L788.9,421.1 L789.2,417.9 L789.2,415.7 L789.4,413.2 L789.3,409.5 L788.9,407.5 L789.3,404.9 L788.9,403.4 L789.2,400.8 L789.8,397.5 L790.0,398.1 L789.7,393.2 L789.3,393.7 L789.4,390.9 L790.2,385.7 L791.0,384.0 L790.3,382.7 L790.4,379.5 L790.6,378.9 L791.4,374.0 L791.6,375.5 L792.2,368.6 L791.9,368.1 L792.8,369.5 L792.0,364.8 L791.7,360.9 L792.5,366.5 L791.1,362.9 L792.5,364.1 L793.9,357.1 L792.6,356.9 L793.1,361.9 L793.0,363.4 L793.1,358.8 L792.9,356.9 L793.3,365.2 L793.7,359.8 L794.6,360.3 L794.0,363.8 L793.9,363.7 L794.6,360.5 L794.9,363.4 L794.2,363.2 L794.4,365.2 L794.2,364.4 L794.8,366.3 L794.8,370.3 L795.1,363.3 L794.8,372.7 L795.0,366.7 L795.0,362.9 L795.3,369.7 L795.0,371.3 L795.6,374.5 L795.9,372.7 L797.4,378.5 L796.9,379.5 L797.3,383.4 L797.5,382.7 L797.7,387.0 L798.7,388.1 L798.6,389.4 L798.5,390.0 L798.9,394.2 L798.8,395.4 L800.0,397.5 L798.6,401.8 L799.5,401.8 L799.0,403.8 L799.7,405.8 L800.0,407.5 L800.3,408.6 L799.7,407.7 L800.7,413.6 L800.6,415.1 L801.0,417.3 L801.8,415.6 L801.6,414.8 L802.5,410.7 L802.7,410.3 L802.7,407.5 L803.0,405.4 L803.7,404.5 L804.6,402.5 L805.1,406.5 L805.1,403.5 L805.4,411.2 L804.7,410.5 L805.6,415.0 L804.8,415.7 L805.5,415.4 L805.2,418.7 L805.6,422.2 L806.4,424.9 L806.0,422.9 L806.6,430.2 L807.2,429.6 L807.3,432.1 L807.0,428.2 L808.4,427.9 L808.0,427.4 L808.0,425.2 L807.7,419.7 L809.1,419.8 L808.9,417.3 L809.1,419.9 L809.8,420.7 L808.8,423.3 L809.4,427.5 L809.8,428.0 L810.1,431.0 L810.3,433.3 L810.2,432.7 L810.6,435.4 L810.6,438.0 L811.3,440.1 L811.4,438.8 L812.2,441.9 L813.2,439.5 L812.7,438.7 L813.8,433.9 L813.3,432.7 L814.1,430.3 L813.8,428.8 L813.8,431.2 L813.7,433.3 L814.3,433.4 L815.1,432.7 L814.3,442.4 L814.2,441.2 L815.2,443.8 L814.7,446.8 L815.5,447.7 L815.3,444.6 L816.7,443.1 L815.8,441.0 L816.2,438.4 L816.5,441.1 L815.6,437.4 L816.2,434.5 L816.7,432.7 L815.6,429.6 L816.2,426.7 L816.5,425.0 L816.6,422.2 L816.5,422.5 L817.7,418.3 L818.3,418.1 L818.3,420.8 L818.6,422.4 L818.7,426.2 L818.0,427.1 L818.3,424.8 L818.1,431.6 L819.2,433.9 L819.4,435.4 L819.7,433.8 L820.7,432.1 L821.2,433.5 L821.0,436.8 L821.3,437.5 L821.3,442.2 L821.0,441.8 L821.3,444.6 L822.2,444.2 L822.0,448.5 L821.2,449.6 L823.0,451.5 L821.7,454.5 L822.7,455.0 L822.5,459.4 L822.7,460.5 L822.8,465.3 L822.7,464.9 L822.2,466.7 L823.6,469.8 L822.4,472.2 L823.7,473.5 L823.4,474.3 L824.0,479.3 L822.6,477.0 L823.8,482.2 L823.6,483.7 L823.8,485.3 L824.5,487.3 L824.3,486.6 L824.0,490.2 L824.1,492.0 L824.7,496.5 L825.0,494.3 L825.2,495.0 L825.8,490.6 L826.5,488.3 L826.2,485.8 L826.6,488.2 L826.8,489.9 L827.5,492.2 L827.4,494.4 L827.8,496.6 L828.4,498.6 L828.8,500.1 L829.0,502.1 L829.0,505.1 L829.6,506.7 L829.5,502.1 L830.5,500.8 L830.7,500.0 L830.6,498.3 L831.8,495.7 L831.0,493.5 L831.4,488.8 L831.8,489.9 L831.7,486.9 L831.4,487.2 L831.5,489.5 L832.2,492.6 L832.3,498.1 L831.6,499.4 L832.9,501.6 L833.0,501.9 L833.6,504.2 L832.2,506.6 L833.8,504.6 L833.2,509.4 L834.0,507.1 L833.3,504.6 L834.0,502.4 L833.8,501.1 L834.5,499.5 L834.0,495.1 L834.7,494.4 L834.8,493.5 L834.8,498.7 L835.3,499.9 L835.9,503.0 L836.0,506.5 L835.6,509.1 L836.4,510.4 L836.5,511.6 L836.6,512.1 L837.4,516.6 L837.5,516.0 L838.2,520.1 L838.8,524.7 L839.2,524.5 L838.8,525.1 L838.9,530.2 L839.5,529.1 L838.4,535.6 L839.7,535.2 L839.5,533.8 L839.8,531.5 L840.5,534.4 L841.2,528.7 L841.1,526.6 L841.4,522.9 L842.6,522.6 L842.8,520.6 L842.3,516.3 L842.5,515.9 L841.9,517.4 L842.6,526.1 L842.5,522.7 L842.5,523.6 L842.9,528.3 L843.3,528.5 L843.4,529.0 L843.6,532.8 L843.6,534.6 L844.1,538.2 L844.2,538.4 L843.8,540.1 L844.0,543.8 L844.3,541.8 L844.0,535.5 L845.0,537.0 L845.5,534.0 L845.0,533.0 L845.2,532.4 L845.2,538.4 L845.8,540.3 L845.7,540.9 L845.5,546.1 L845.2,543.1 L845.4,547.7 L845.6,552.0 L846.3,557.6 L846.1,553.9 L846.6,560.6 L846.9,558.9 L847.5,562.1 L846.9,564.2 L846.8,567.4 L847.1,570.4 L848.3,571.4 L848.3,573.8 L848.4,572.4 L849.2,570.2 L848.7,568.8 L847.9,565.7 L848.5,563.3 L848.5,562.1 L848.4,559.5 L848.6,558.0 L849.2,554.4 L849.1,551.8 L849.9,551.9 L848.8,545.2 L849.3,545.9 L849.8,544.8 L849.6,540.9 L850.7,539.2 L849.3,537.0 L849.3,532.7 L849.9,535.1 L850.4,534.0 L850.6,529.4 L850.4,526.6 L851.2,526.2 L850.9,521.8 L851.6,520.9 L851.9,520.1 L851.5,517.6 L853.0,514.7 L852.0,517.0 L852.5,512.1 L852.9,508.0 L853.5,507.1 L852.8,505.8 L853.0,498.8 L853.2,500.8 L853.1,500.0 L853.9,497.9 L853.7,491.6 L854.3,492.8 L854.1,490.4 L854.2,487.4 L854.0,485.8 L854.7,483.7 L854.7,486.9 L854.8,488.8 L855.2,490.8 L855.5,493.7 L855.4,495.9 L855.5,496.5 L855.7,496.7 L856.2,502.5 L856.2,501.6 L856.2,505.1 L855.7,508.4 L856.6,510.0 L856.7,512.7 L855.9,510.9 L856.7,519.0 L857.6,520.0 L856.7,520.3 L857.3,524.5 L857.7,525.3 L858.1,528.1 L857.1,526.5 L857.9,530.9 L858.1,533.3 L858.3,536.4 L859.4,537.0 L859.3,541.6 L858.6,543.3 L859.2,543.6 L859.4,545.9 L859.2,542.0 L859.2,541.9 L860.1,540.3 L859.9,536.9 L860.5,536.1 L859.9,533.6 L861.5,528.3 L860.6,527.7 L860.6,523.7 L861.1,524.4 L861.7,521.1 L861.0,516.0 L861.6,517.3 L861.9,514.6 L862.5,511.2 L862.6,511.6 L863.0,511.3 L863.8,506.5 L863.0,505.9 L863.5,502.1 L864.6,500.8 L864.4,498.7 L864.9,496.2 L865.0,496.0 L866.1,494.4 L866.6,495.8 L865.6,500.5 L866.5,502.0 L867.1,505.0 L867.2,508.3 L866.9,506.7 L867.7,507.2 L867.6,511.6 L868.1,514.6 L867.3,516.4 L868.1,517.4 L868.7,520.4 L868.7,524.5 L868.3,521.2 L868.6,523.2 L869.1,528.7 L869.3,524.5 L869.8,523.8 L869.2,523.5 L869.5,521.0 L870.1,518.0 L869.6,513.2 L869.4,515.1 L869.9,510.7 L869.3,507.5 L869.5,504.7 L870.2,505.3 L869.6,502.4 L870.3,499.8 L870.0,498.3 L870.4,494.4 L871.3,493.5 L870.5,493.0 L870.5,486.2 L871.7,487.3 L871.3,484.2 L871.9,481.5 L873.0,481.7 L872.6,477.8 L873.0,476.1 L873.4,480.0 L873.2,482.3 L873.4,482.7 L873.6,483.3 L874.2,485.8 L874.2,487.8 L873.8,489.1 L874.1,494.6 L874.7,494.4 L875.4,499.4 L874.9,495.1 L875.5,500.2 L875.4,502.7 L875.9,507.1 L876.2,507.3 L876.4,510.3 L877.8,509.1 L877.7,511.6 L877.6,513.3 L878.8,515.6 L878.4,517.8 L879.5,521.2 L879.4,522.3 L879.7,523.6 L881.4,524.9 L881.4,526.8 L881.1,528.7 L882.6,529.8 L882.9,527.2 L882.8,521.9 L882.7,522.8 L882.3,519.7 L883.0,515.6 L883.0,514.6 L882.9,513.0 L884.0,509.8 L883.0,506.8 L882.8,505.7 L883.8,502.3 L883.5,503.0 L883.9,504.2 L883.3,498.7 L883.7,494.4 L884.5,492.7 L884.6,486.9 L883.4,482.8 L883.6,480.6 L883.6,478.2 L883.3,473.9 L884.7,470.3 L884.4,466.5 L883.9,465.2 L884.5,458.1 L884.4,457.1 L885.1,451.7 L884.5,447.9 L885.0,446.3 L884.8,442.9 L884.5,444.8 L884.6,451.2 L885.0,451.9 L885.2,452.4 L885.4,455.4 L885.4,454.3 L885.1,461.0 L886.6,462.9 L886.0,469.0 L885.7,469.0 L885.7,473.4 L886.3,472.5 L885.8,474.8 L885.5,481.2 L886.3,481.5 L886.5,479.3 L885.9,477.6 L886.5,474.7 L887.2,476.0 L887.2,469.6 L886.9,469.7 L886.9,466.1 L886.9,461.9 L887.9,463.7 L887.2,463.0 L887.5,457.9 L887.0,456.7 L888.0,453.2 L889.1,451.5 L888.6,450.7 L889.1,445.6 L890.2,445.7 L890.9,441.5 L890.0,441.0 L890.6,438.6 L890.7,441.3 L890.9,444.2 L891.4,448.5 L891.3,446.2 L890.6,450.5 L890.8,450.3 L891.5,449.7 L891.8,455.4 L891.4,457.0 L891.9,461.2 L891.1,462.7 L892.0,467.8 L892.4,468.6 L891.8,468.6 L892.0,468.3 L892.2,464.2 L892.3,458.5 L892.2,456.8 L892.4,454.1 L893.3,452.4 L892.4,450.9 L892.2,446.6 L892.2,445.4 L892.0,442.2 L892.3,441.5 L892.7,436.4 L892.5,433.9 L892.2,431.8 L892.7,430.0 L892.4,426.9 L892.9,422.5 L892.1,421.3 L892.9,418.3 L893.0,416.9 L893.1,413.9 L892.5,409.9 L892.7,408.9 L893.2,405.2 L893.4,403.9 L892.8,398.6 L892.3,397.8 L893.2,392.1 L892.6,390.4 L893.0,388.6 L893.4,391.9 L893.1,394.2 L893.2,394.3 L892.6,397.3 L894.0,397.8 L893.8,399.7 L894.1,403.2 L893.5,404.3 L893.9,411.0 L894.3,409.1 L893.7,413.9 L894.5,413.5 L895.7,418.4 L894.5,419.1 L894.8,418.4 L895.4,421.0 L895.4,423.9 L895.5,420.8 L896.4,422.4 L895.6,415.2 L896.8,415.7 L897.2,413.8 L896.6,412.4 L897.3,410.2 L896.6,405.6 L897.1,405.8 L896.7,398.5 L897.2,399.0 L897.8,395.0 L897.7,393.5 L897.2,391.1 L896.7,387.3 L897.6,386.4 L897.2,383.7 L897.2,378.0 L897.5,376.3 L897.1,375.6 L897.6,371.3 L898.0,372.6 L898.8,376.9 L897.6,378.3 L897.7,377.9 L898.3,381.7 L898.0,383.6 L898.3,385.4 L898.5,388.7 L898.1,388.6 L898.6,394.2 L898.8,393.7 L898.9,396.0 L898.8,395.6 L899.0,391.9 L898.7,390.4 L899.7,387.6 L899.6,386.9 L900.1,383.3 L900.1,381.8 L899.1,376.6 L899.5,377.5 L899.3,373.4 L899.3,375.1 L899.9,369.7 L899.4,369.2 L901.1,367.9 L899.9,372.8 L901.0,364.7 L899.6,364.3 L900.0,366.2 L901.0,361.6 L900.1,362.4 L900.6,363.7 L900.8,365.0 L901.3,365.9 L901.4,365.7 L901.3,360.6 L900.4,359.8 L901.2,359.0 L901.6,356.9 L901.1,356.9 L901.5,357.0 L901.8,358.1 L901.6,360.6 L900.9,359.4 L901.4,362.1 L902.3,361.7 L902.5,365.0 L901.7,366.4 L903.1,365.0 L902.1,364.9 L902.5,365.3 L902.8,364.8 L903.4,363.0 L902.6,363.6 L904.1,362.1 L903.7,361.3 L904.0,363.1 L903.2,361.7 L903.3,360.3 L904.0,368.1 L904.6,360.3 L904.1,362.3 L904.5,361.8 L904.5,359.8 L905.3,363.1 L904.7,359.9 L905.4,360.6 L905.3,362.5 L904.8,364.2 L905.8,362.6 L905.7,364.7 L905.3,362.5 L905.4,361.7 L905.0,363.8 L905.4,366.9 L906.1,365.3 L905.2,364.0 L906.1,365.6 L906.4,367.2 L906.8,364.1 L906.0,366.1 L905.8,363.5 L907.3,362.6 L907.1,360.9 L906.8,358.9 L907.8,364.1 L907.5,362.4 L906.2,365.1 L908.2,356.9 L907.7,366.0 L907.7,359.4 L907.4,358.8 L907.8,358.2 L907.9,358.6 L908.3,360.8 L908.4,362.1 L908.8,357.5 L908.4,356.9 L908.2,361.7 L908.1,366.1 L908.4,358.8 L909.1,363.1 L909.2,362.9 L908.7,361.6 L908.5,363.8 L909.0,364.4 L908.9,365.9 L909.4,364.8 L909.2,365.9 L909.1,368.4 L909.1,370.8 L910.0,374.4 L909.7,375.7 L909.5,376.5 L909.6,379.8 L910.1,380.5 L910.0,384.4 L910.2,385.4 L910.1,387.8 L910.4,391.0 L910.8,393.5 L910.3,396.5 L910.2,399.4 L911.3,399.4 L910.9,405.5 L910.8,403.4 L911.0,404.3 L910.8,407.7 L910.9,412.4 L911.7,415.3 L911.4,414.8 L911.2,413.7 L910.7,409.8 L911.5,408.9 L911.4,406.9 L911.1,404.9 L912.0,398.6 L910.5,401.6 L911.8,399.8 L911.3,395.4 L912.4,391.9 L912.1,390.2 L913.1,389.0 L911.7,388.5 L911.8,384.2 L912.4,382.8 L912.2,378.6 L912.6,380.4 L912.6,377.7 L912.7,374.0 L913.6,372.5 L913.0,374.4 L912.1,369.8 L914.0,366.2 L913.4,362.7 L913.0,364.9 L913.0,359.7 L913.3,358.2 L913.7,360.2 L914.5,362.0 L915.5,358.2 L914.5,357.5 L915.1,358.2 L914.9,358.0 L915.4,357.9 L915.0,361.6 L915.5,356.9 L916.2,359.3 L916.9,358.5 L916.3,359.5 L917.1,361.3 L916.8,361.5 L916.9,362.7 L917.1,361.2 L917.0,363.6 L916.5,363.1 L918.0,362.4 L917.6,367.0 L918.5,359.8 L919.0,364.4 L918.4,364.3 L918.7,364.3 L917.8,368.5 L918.4,366.4 L920.0,368.9 L918.6,365.5 L919.3,366.3 L919.4,362.3 L919.5,365.8 L920.7,367.3 L920.9,364.8 L921.9,364.6 L922.0,363.2 L922.0,362.4 L922.3,366.8 L922.9,365.6 L923.3,365.0 L923.8,368.0 L923.2,365.4 L924.2,360.9 L922.7,367.5 L923.8,365.0 L924.1,364.2 L924.1,361.9 L924.8,361.8 L924.2,360.8 L924.8,362.7 L924.8,361.7 L925.3,363.9 L925.0,359.8 L925.2,360.1 L924.7,360.9 L925.5,357.7 L925.9,359.2 L926.7,364.7 L926.6,358.2 L927.6,360.3 L926.6,360.4 L927.1,364.6 L927.4,364.6 L926.6,362.9 L927.0,363.3 L926.6,368.0 L926.5,365.8 L927.5,372.3 L926.7,369.6 L927.0,368.1 L926.8,371.4 L927.9,372.1 L927.5,373.5 L927.5,374.6 L927.6,373.3 L927.6,378.2 L928.0,378.1 L928.0,380.6 L928.4,381.6 L928.2,387.3 L928.8,387.8 L928.5,386.2 L929.8,384.6 L930.4,381.0 L930.4,379.5 L930.7,376.0 L930.9,377.7 L931.7,371.2 L931.3,371.9 L930.9,364.8 L932.0,366.4 L932.7,362.7 L931.8,365.9 L932.9,367.2 L932.5,362.5 L932.6,360.2 L931.9,367.0 L932.3,362.7 L932.7,361.9 L933.1,362.2 L933.3,362.2 L933.4,362.9 L933.1,358.2 L932.7,358.4 L933.2,363.7 L933.2,358.2 L932.5,358.7 L934.0,358.3 L933.6,358.7 L933.9,363.2 L934.3,359.8 L934.3,359.7 L934.9,360.7 L934.5,363.4 L934.6,361.9 L934.6,367.0 L934.2,365.5 L935.3,365.5 L935.2,368.2 L935.3,367.5 L936.1,369.2 L935.0,368.1 L935.4,369.6 L935.9,370.4 L935.4,370.1 L935.7,370.5 L935.2,370.6 L935.5,369.9 L936.0,369.7 L935.5,367.7 L935.8,367.6 L936.5,366.6 L935.7,368.3 L937.0,367.7 L936.6,367.5 L937.3,364.3 L936.0,363.2 L936.9,363.5 L936.3,360.5 L937.0,366.3 L937.0,361.5 L936.9,363.1 L937.1,356.9 L937.0,363.6 L937.4,356.9 L937.6,358.8 L937.5,356.9 L938.2,357.3 L938.3,358.6 L937.1,357.7 L938.1,357.4" fill="none" stroke="#ffa500" stroke-width="2.2" stroke-linejoin="round" stroke-linecap="round"/>
<line x1="90.5" y1="478.0" x2="979.5" y2="478.0" stroke="#0000ff" stroke-width="2"/>
<line x1="90.5" y1="459.0" x2="979.5" y2="459.0" stroke="#ff0000" stroke-width="2"/>
<line x1="90.5" y1="560.0" x2="979.5" y2="560.0" stroke="#ff00ff" stroke-width="2"/>
<line x1="90.5" y1="573.0" x2="979.5" y2="573.0" stroke="#32cd32" stroke-width="2"/>
<line x1="90.5" y1="581.0" x2="979.5" y2="581.0" stroke="#1e90ff" stroke-width="2"/>
<line x1="90.5" y1="589.0" x2="979.5" y2="589.0" stroke="#6a5acd" stroke-width="2"/>
<line x1="90.5" y1="609.0" x2="979.5" y2="609.0" stroke="#a9a9a9" stroke-width="2"/>
<rect class="spine" x="90.5" y="356.5" width="889.0" height="400.0"/>
<line class="tick" x1="196.5" y1="756.5" x2="196.5" y2="761.4"/>
<text class="t10" x="195.9" y="776.9" text-anchor="middle" textLength="57.4" lengthAdjust="spacingAndGlyphs">2012-01</text>
<line class="tick" x1="304.5" y1="756.5" x2="304.5" y2="761.4"/>
<text class="t10" x="303.9" y="776.9" text-anchor="middle" textLength="57.4" lengthAdjust="spacingAndGlyphs">2014-01</text>
<line class="tick" x1="412.5" y1="756.5" x2="412.5" y2="761.4"/>
<text class="t10" x="411.9" y="776.9" text-anchor="middle" textLength="57.4" lengthAdjust="spacingAndGlyphs">2016-01</text>
<line class="tick" x1="520.5" y1="756.5" x2="520.5" y2="761.4"/>
<text class="t10" x="519.9" y="776.9" text-anchor="middle" textLength="57.4" lengthAdjust="spacingAndGlyphs">2018-01</text>
<line class="tick" x1="628.5" y1="756.5" x2="628.5" y2="761.4"/>
<text class="t10" x="627.9" y="776.9" text-anchor="middle" textLength="57.4" lengthAdjust="spacingAndGlyphs">2020-01</text>
<line class="tick" x1="736.5" y1="756.5" x2="736.5" y2="761.4"/>
<text class="t10" x="735.9" y="776.9" text-anchor="middle" textLength="57.4" lengthAdjust="spacingAndGlyphs">2022-01</text>
<line class="tick" x1="843.5" y1="756.5" x2="843.5" y2="761.4"/>
<text class="t10" x="842.9" y="776.9" text-anchor="middle" textLength="57.4" lengthAdjust="spacingAndGlyphs">2024-01</text>
<line class="tick" x1="951.5" y1="756.5" x2="951.5" y2="761.4"/>
<text class="t10" x="950.9" y="776.9" text-anchor="middle" textLength="57.4" lengthAdjust="spacingAndGlyphs">2026-01</text>
<line class="tick" x1="85.6" y1="356.5" x2="90.5" y2="356.5"/>
<text class="t10" x="80.8" y="361.7" text-anchor="end" textLength="42.8" lengthAdjust="spacingAndGlyphs">0.00%</text>
<line class="tick" x1="85.6" y1="423.5" x2="90.5" y2="423.5"/>
<text class="t10" x="80.8" y="428.4" text-anchor="end" textLength="56.7" lengthAdjust="spacingAndGlyphs">-20.00%</text>
<line class="tick" x1="85.6" y1="490.5" x2="90.5" y2="490.5"/>
<text class="t10" x="80.8" y="495.0" text-anchor="end" textLength="56.7" lengthAdjust="spacingAndGlyphs">-40.00%</text>
<line class="tick" x1="85.6" y1="556.5" x2="90.5" y2="556.5"/>
<text class="t10" x="80.8" y="561.7" text-anchor="end" textLength="56.7" lengthAdjust="spacingAndGlyphs">-60.00%</text>
<line class="tick" x1="85.6" y1="623.5" x2="90.5" y2="623.5"/>
<text class="t10" x="80.8" y="628.4" text-anchor="end" textLength="56.7" lengthAdjust="spacingAndGlyphs">-80.00%</text>
<line class="tick" x1="85.6" y1="690.5" x2="90.5" y2="690.5"/>
<text class="t10" x="80.8" y="695.0" text-anchor="end" textLength="65.5" lengthAdjust="spacingAndGlyphs">-100.00%</text>
<line class="tick" x1="85.6" y1="756.5" x2="90.5" y2="756.5"/>
<text class="t10" x="80.8" y="761.7" text-anchor="end" textLength="65.5" lengthAdjust="spacingAndGlyphs">-120.00%</text>
<text class="t12" x="535.0" y="347.8" text-anchor="middle" textLength="308.8" lengthAdjust="spacingAndGlyphs">Historical Uncompounded Drawdown</text>
<rect x="632.3" y="598.9" width="341.0" height="150.39999999999998" rx="2.8" ry="2.8" fill="#fff" fill-opacity="0.8" stroke="#ccc" stroke-opacity="0.8" stroke-width="1.1"/>
<line x1="637.2" y1="610" x2="665.0" y2="610" stroke="#0000ff" stroke-width="2" stroke-linecap="square"/>
<text class="t10" x="676.1" y="614.6" text-anchor="start" textLength="145.6" lengthAdjust="spacingAndGlyphs">Ulcer Index: -36.65%</text>
<line x1="637.2" y1="631" x2="665.0" y2="631" stroke="#ff0000" stroke-width="2" stroke-linecap="square"/>
<text class="t10" x="676.1" y="635.6" text-anchor="start" textLength="202.3" lengthAdjust="spacingAndGlyphs">Average Drawdown: -30.83%</text>
<line x1="637.2" y1="652" x2="665.0" y2="652" stroke="#ff00ff" stroke-width="2" stroke-linecap="square"/>
<text class="t10" x="676.1" y="656.6" text-anchor="start" textLength="235.4" lengthAdjust="spacingAndGlyphs">95.00% Confidence DaR: -61.02%</text>
<line x1="637.2" y1="673" x2="665.0" y2="673" stroke="#32cd32" stroke-width="2" stroke-linecap="square"/>
<text class="t10" x="676.1" y="677.6" text-anchor="start" textLength="245.1" lengthAdjust="spacingAndGlyphs">95.00% Confidence CDaR: -64.98%</text>
<line x1="637.2" y1="694" x2="665.0" y2="694" stroke="#1e90ff" stroke-width="2" stroke-linecap="square"/>
<text class="t10" x="676.1" y="698.6" text-anchor="start" textLength="244.2" lengthAdjust="spacingAndGlyphs">95.00% Confidence EDaR: -67.29%</text>
<line x1="637.2" y1="715" x2="665.0" y2="715" stroke="#6a5acd" stroke-width="2" stroke-linecap="square"/>
<text class="t10" x="676.1" y="719.6" text-anchor="start" textLength="290.5" lengthAdjust="spacingAndGlyphs">95.00% Confidence RLDaR (0.3): -69.78%</text>
<line x1="637.2" y1="736" x2="665.0" y2="736" stroke="#a9a9a9" stroke-width="2" stroke-linecap="square"/>
<text class="t10" x="676.1" y="740.6" text-anchor="start" textLength="213.7" lengthAdjust="spacingAndGlyphs">Maximum Drawdown: -75.70%</text>
</g>
</svg></body></html>
